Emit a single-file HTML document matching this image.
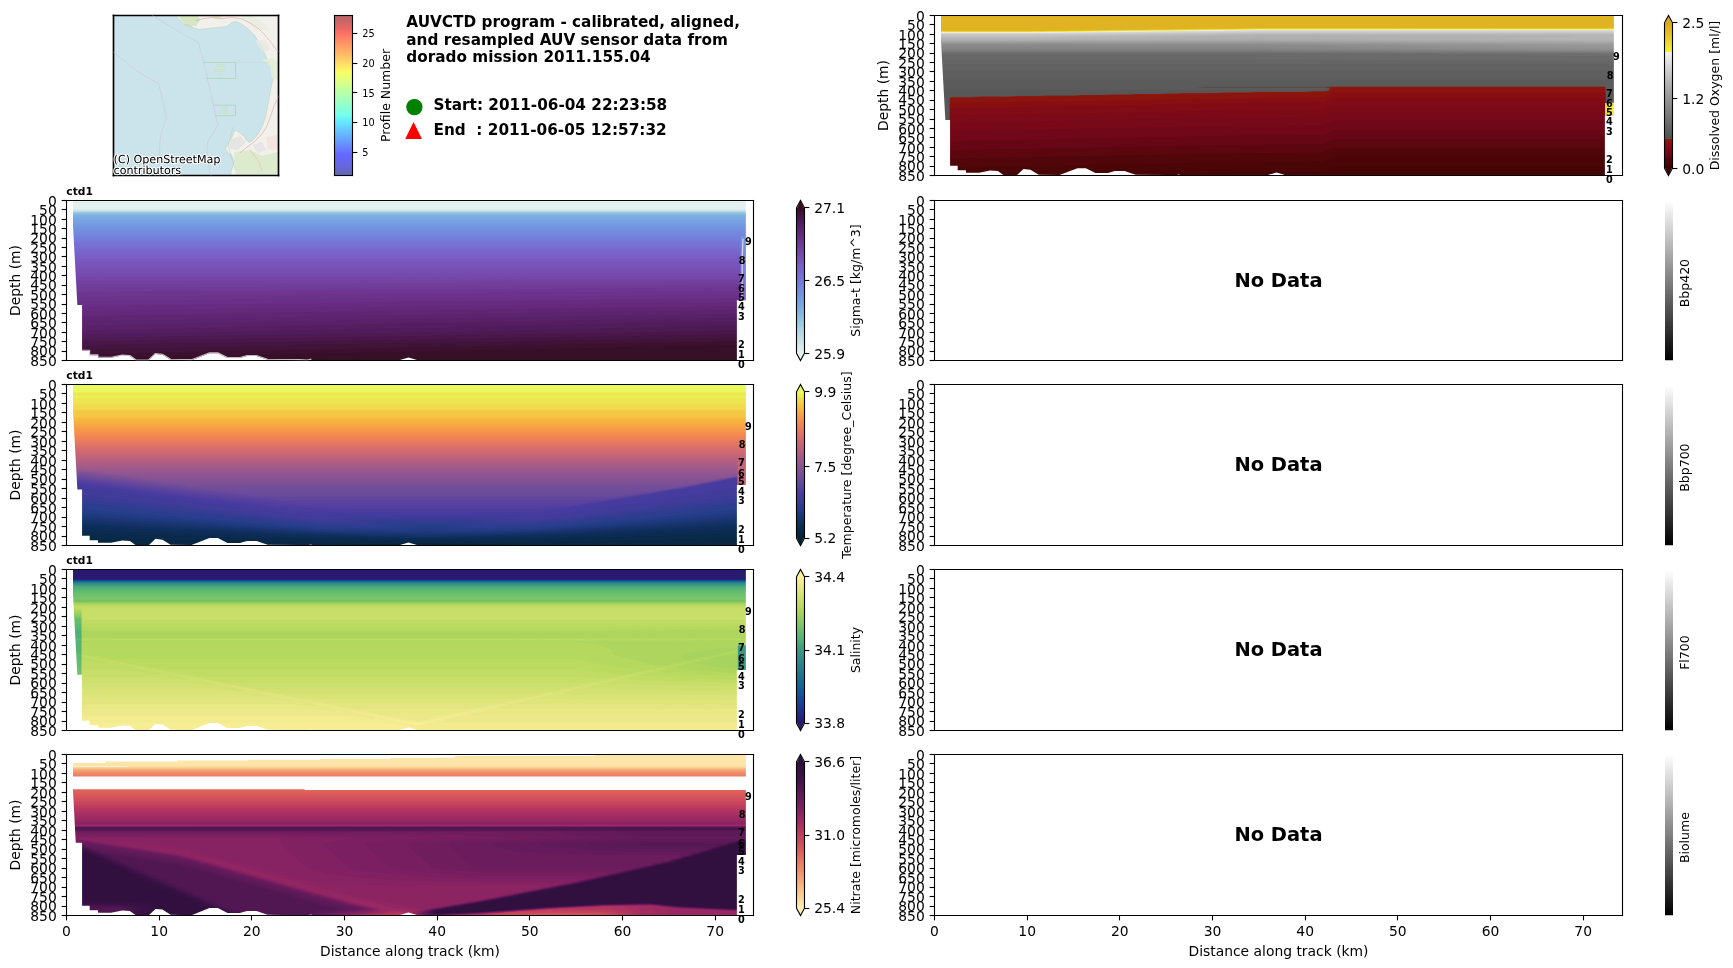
<!DOCTYPE html>
<html><head><meta charset="utf-8"><style>html,body{margin:0;padding:0;background:#fff;overflow:hidden}svg{display:block;will-change:transform}text{white-space:pre}</style></head><body>
<svg width="1733" height="968" viewBox="0 0 1247.76 696.96" version="1.1">
<defs><linearGradient id="lg_dense" x1="0" y1="1" x2="0" y2="0"><stop offset="0.0000" stop-color="#e6f1f1"/><stop offset="0.0208" stop-color="#dfeeee"/><stop offset="0.0417" stop-color="#d8eaec"/><stop offset="0.0625" stop-color="#d0e6e9"/><stop offset="0.0833" stop-color="#c9e3e6"/><stop offset="0.1042" stop-color="#c2e0e4"/><stop offset="0.1250" stop-color="#b9dbe4"/><stop offset="0.1458" stop-color="#b1d7e4"/><stop offset="0.1667" stop-color="#aad2e3"/><stop offset="0.1875" stop-color="#a1cde3"/><stop offset="0.2083" stop-color="#9ac9e3"/><stop offset="0.2292" stop-color="#93c4e3"/><stop offset="0.2500" stop-color="#8cbde2"/><stop offset="0.2708" stop-color="#86b8e2"/><stop offset="0.2917" stop-color="#80b3e2"/><stop offset="0.3125" stop-color="#7bace2"/><stop offset="0.3333" stop-color="#79a7e1"/><stop offset="0.3542" stop-color="#77a2e1"/><stop offset="0.3750" stop-color="#749be0"/><stop offset="0.3958" stop-color="#7196e0"/><stop offset="0.4167" stop-color="#7291df"/><stop offset="0.4375" stop-color="#738add"/><stop offset="0.4583" stop-color="#7385dc"/><stop offset="0.4792" stop-color="#747fdb"/><stop offset="0.5000" stop-color="#7578d9"/><stop offset="0.5208" stop-color="#7673d5"/><stop offset="0.5417" stop-color="#776ed1"/><stop offset="0.5625" stop-color="#7868cd"/><stop offset="0.5833" stop-color="#7962c9"/><stop offset="0.6042" stop-color="#7a5dc5"/><stop offset="0.6250" stop-color="#7957bd"/><stop offset="0.6458" stop-color="#7852b7"/><stop offset="0.6667" stop-color="#774db1"/><stop offset="0.6875" stop-color="#7547a9"/><stop offset="0.7083" stop-color="#7443a3"/><stop offset="0.7292" stop-color="#713e9c"/><stop offset="0.7500" stop-color="#6f3894"/><stop offset="0.7708" stop-color="#6c348d"/><stop offset="0.7917" stop-color="#6a2f87"/><stop offset="0.8125" stop-color="#652a7e"/><stop offset="0.8333" stop-color="#612776"/><stop offset="0.8542" stop-color="#5c246e"/><stop offset="0.8750" stop-color="#572065"/><stop offset="0.8958" stop-color="#521c5d"/><stop offset="0.9167" stop-color="#4d1a52"/><stop offset="0.9375" stop-color="#461645"/><stop offset="0.9583" stop-color="#41133a"/><stop offset="0.9792" stop-color="#3b112f"/><stop offset="1.0000" stop-color="#360e24"/></linearGradient><linearGradient id="lg_thermal" x1="0" y1="1" x2="0" y2="0"><stop offset="0.0000" stop-color="#042333"/><stop offset="0.0208" stop-color="#06253b"/><stop offset="0.0417" stop-color="#082843"/><stop offset="0.0625" stop-color="#0a2b4d"/><stop offset="0.0833" stop-color="#0c2d55"/><stop offset="0.1042" stop-color="#0e2f5d"/><stop offset="0.1250" stop-color="#143368"/><stop offset="0.1458" stop-color="#183671"/><stop offset="0.1667" stop-color="#1d397a"/><stop offset="0.1875" stop-color="#223c85"/><stop offset="0.2083" stop-color="#283e8c"/><stop offset="0.2292" stop-color="#2f3d90"/><stop offset="0.2500" stop-color="#383c95"/><stop offset="0.2708" stop-color="#3f3c9a"/><stop offset="0.2917" stop-color="#463b9e"/><stop offset="0.3125" stop-color="#4f3d9f"/><stop offset="0.3333" stop-color="#55409e"/><stop offset="0.3542" stop-color="#5b439d"/><stop offset="0.3750" stop-color="#63479c"/><stop offset="0.3958" stop-color="#6a4a9b"/><stop offset="0.4167" stop-color="#704d9a"/><stop offset="0.4375" stop-color="#794f97"/><stop offset="0.4583" stop-color="#805196"/><stop offset="0.4792" stop-color="#865394"/><stop offset="0.5000" stop-color="#8f5592"/><stop offset="0.5208" stop-color="#97578e"/><stop offset="0.5417" stop-color="#9e598b"/><stop offset="0.5625" stop-color="#a85b86"/><stop offset="0.5833" stop-color="#b05d83"/><stop offset="0.6042" stop-color="#b7607f"/><stop offset="0.6250" stop-color="#c0637a"/><stop offset="0.6458" stop-color="#c86676"/><stop offset="0.6667" stop-color="#cf6971"/><stop offset="0.6875" stop-color="#d86d6c"/><stop offset="0.7083" stop-color="#df7167"/><stop offset="0.7292" stop-color="#e47761"/><stop offset="0.7500" stop-color="#ea7e5a"/><stop offset="0.7708" stop-color="#ef8454"/><stop offset="0.7917" stop-color="#f48a4e"/><stop offset="0.8125" stop-color="#f6944a"/><stop offset="0.8333" stop-color="#f79d47"/><stop offset="0.8542" stop-color="#f7a744"/><stop offset="0.8750" stop-color="#f8b241"/><stop offset="0.8958" stop-color="#f8bc3e"/><stop offset="0.9167" stop-color="#f5c843"/><stop offset="0.9375" stop-color="#f1d64a"/><stop offset="0.9583" stop-color="#eee250"/><stop offset="0.9792" stop-color="#ebee55"/><stop offset="1.0000" stop-color="#e8fa5b"/></linearGradient><linearGradient id="lg_haline" x1="0" y1="1" x2="0" y2="0"><stop offset="0.0000" stop-color="#2a186c"/><stop offset="0.0208" stop-color="#281d73"/><stop offset="0.0417" stop-color="#25237a"/><stop offset="0.0625" stop-color="#222a83"/><stop offset="0.0833" stop-color="#202f8a"/><stop offset="0.1042" stop-color="#1e3590"/><stop offset="0.1250" stop-color="#1b3c93"/><stop offset="0.1458" stop-color="#194295"/><stop offset="0.1667" stop-color="#164996"/><stop offset="0.1875" stop-color="#135099"/><stop offset="0.2083" stop-color="#135699"/><stop offset="0.2292" stop-color="#145b97"/><stop offset="0.2500" stop-color="#166194"/><stop offset="0.2708" stop-color="#176692"/><stop offset="0.2917" stop-color="#186b90"/><stop offset="0.3125" stop-color="#1b708e"/><stop offset="0.3333" stop-color="#1f748e"/><stop offset="0.3542" stop-color="#22798d"/><stop offset="0.3750" stop-color="#267e8c"/><stop offset="0.3958" stop-color="#29828b"/><stop offset="0.4167" stop-color="#2d878a"/><stop offset="0.4375" stop-color="#308c87"/><stop offset="0.4583" stop-color="#339186"/><stop offset="0.4792" stop-color="#379584"/><stop offset="0.5000" stop-color="#3b9b82"/><stop offset="0.5208" stop-color="#41a07f"/><stop offset="0.5417" stop-color="#47a67c"/><stop offset="0.5625" stop-color="#4fad79"/><stop offset="0.5833" stop-color="#55b376"/><stop offset="0.6042" stop-color="#5cb973"/><stop offset="0.6250" stop-color="#68bd6e"/><stop offset="0.6458" stop-color="#72c16a"/><stop offset="0.6667" stop-color="#7bc566"/><stop offset="0.6875" stop-color="#87c961"/><stop offset="0.7083" stop-color="#90cc5f"/><stop offset="0.7292" stop-color="#99cf5f"/><stop offset="0.7500" stop-color="#a3d35e"/><stop offset="0.7708" stop-color="#acd65e"/><stop offset="0.7917" stop-color="#b5d95e"/><stop offset="0.8125" stop-color="#bedc62"/><stop offset="0.8333" stop-color="#c5de68"/><stop offset="0.8542" stop-color="#cddf6d"/><stop offset="0.8750" stop-color="#d6e274"/><stop offset="0.8958" stop-color="#dde479"/><stop offset="0.9167" stop-color="#e3e680"/><stop offset="0.9375" stop-color="#ebe987"/><stop offset="0.9583" stop-color="#f1eb8d"/><stop offset="0.9792" stop-color="#f7ed94"/><stop offset="1.0000" stop-color="#fdef9a"/></linearGradient><linearGradient id="lg_matter" x1="0" y1="1" x2="0" y2="0"><stop offset="0.0000" stop-color="#feedb0"/><stop offset="0.0208" stop-color="#fde6a9"/><stop offset="0.0417" stop-color="#fcdfa3"/><stop offset="0.0625" stop-color="#fbd69b"/><stop offset="0.0833" stop-color="#facf94"/><stop offset="0.1042" stop-color="#f9c88d"/><stop offset="0.1250" stop-color="#f7c087"/><stop offset="0.1458" stop-color="#f6b882"/><stop offset="0.1667" stop-color="#f5b17d"/><stop offset="0.1875" stop-color="#f4a877"/><stop offset="0.2083" stop-color="#f2a173"/><stop offset="0.2292" stop-color="#f19a6f"/><stop offset="0.2500" stop-color="#ee916b"/><stop offset="0.2708" stop-color="#ed8968"/><stop offset="0.2917" stop-color="#eb8265"/><stop offset="0.3125" stop-color="#e87962"/><stop offset="0.3333" stop-color="#e57260"/><stop offset="0.3542" stop-color="#e26b5e"/><stop offset="0.3750" stop-color="#de625c"/><stop offset="0.3958" stop-color="#db5b5a"/><stop offset="0.4167" stop-color="#d6565b"/><stop offset="0.4375" stop-color="#d04f5c"/><stop offset="0.4583" stop-color="#cb4a5c"/><stop offset="0.4792" stop-color="#c6445d"/><stop offset="0.5000" stop-color="#bf3e5e"/><stop offset="0.5208" stop-color="#b93a5f"/><stop offset="0.5417" stop-color="#b23660"/><stop offset="0.5625" stop-color="#aa3161"/><stop offset="0.5833" stop-color="#a32d62"/><stop offset="0.6042" stop-color="#9d2a63"/><stop offset="0.6250" stop-color="#942763"/><stop offset="0.6458" stop-color="#8e2563"/><stop offset="0.6667" stop-color="#872362"/><stop offset="0.6875" stop-color="#7e2062"/><stop offset="0.7083" stop-color="#771e61"/><stop offset="0.7292" stop-color="#701d5e"/><stop offset="0.7500" stop-color="#681b5c"/><stop offset="0.7708" stop-color="#611a59"/><stop offset="0.7917" stop-color="#5a1957"/><stop offset="0.8125" stop-color="#531753"/><stop offset="0.8333" stop-color="#4d1650"/><stop offset="0.8542" stop-color="#48154d"/><stop offset="0.8750" stop-color="#411349"/><stop offset="0.8958" stop-color="#3c1246"/><stop offset="0.9167" stop-color="#391144"/><stop offset="0.9375" stop-color="#361142"/><stop offset="0.9583" stop-color="#341041"/><stop offset="0.9792" stop-color="#31103f"/><stop offset="1.0000" stop-color="#2f0f3d"/></linearGradient><linearGradient id="lg_oxy" x1="0" y1="1" x2="0" y2="0"><stop offset="0.0000" stop-color="#3c0404"/><stop offset="0.0181" stop-color="#400505"/><stop offset="0.0363" stop-color="#480507"/><stop offset="0.0544" stop-color="#4f0608"/><stop offset="0.0725" stop-color="#5c070f"/><stop offset="0.0907" stop-color="#690816"/><stop offset="0.1088" stop-color="#72081a"/><stop offset="0.1270" stop-color="#7a0919"/><stop offset="0.1451" stop-color="#810b17"/><stop offset="0.1632" stop-color="#860e12"/><stop offset="0.1814" stop-color="#8c140e"/><stop offset="0.1995" stop-color="#90190b"/><stop offset="0.2005" stop-color="#515151"/><stop offset="0.2550" stop-color="#5e5e5e"/><stop offset="0.3094" stop-color="#6b6b6b"/><stop offset="0.3639" stop-color="#797979"/><stop offset="0.4183" stop-color="#868686"/><stop offset="0.4728" stop-color="#949494"/><stop offset="0.5272" stop-color="#a2a2a2"/><stop offset="0.5817" stop-color="#b2b2b2"/><stop offset="0.6361" stop-color="#c3c3c3"/><stop offset="0.6906" stop-color="#d3d3d3"/><stop offset="0.7450" stop-color="#e4e4e4"/><stop offset="0.7995" stop-color="#f3f3f3"/><stop offset="0.8005" stop-color="#f3f139"/><stop offset="0.8186" stop-color="#f2eb37"/><stop offset="0.8368" stop-color="#efe334"/><stop offset="0.8549" stop-color="#eddc31"/><stop offset="0.8730" stop-color="#ebd32e"/><stop offset="0.8912" stop-color="#e9cb2b"/><stop offset="0.9093" stop-color="#e7c529"/><stop offset="0.9275" stop-color="#e4bf26"/><stop offset="0.9456" stop-color="#e2b824"/><stop offset="0.9637" stop-color="#e0b322"/><stop offset="0.9819" stop-color="#dead20"/><stop offset="1.0000" stop-color="#dca91e"/></linearGradient><linearGradient id="lg_gray1" x1="0" y1="1" x2="0" y2="0"><stop offset="0.0000" stop-color="#000000"/><stop offset="0.0208" stop-color="#050505"/><stop offset="0.0417" stop-color="#0a0a0a"/><stop offset="0.0625" stop-color="#101010"/><stop offset="0.0833" stop-color="#151515"/><stop offset="0.1042" stop-color="#1a1a1a"/><stop offset="0.1250" stop-color="#202020"/><stop offset="0.1458" stop-color="#252525"/><stop offset="0.1667" stop-color="#2a2a2a"/><stop offset="0.1875" stop-color="#303030"/><stop offset="0.2083" stop-color="#353535"/><stop offset="0.2292" stop-color="#3a3a3a"/><stop offset="0.2500" stop-color="#404040"/><stop offset="0.2708" stop-color="#454545"/><stop offset="0.2917" stop-color="#4a4a4a"/><stop offset="0.3125" stop-color="#505050"/><stop offset="0.3333" stop-color="#555555"/><stop offset="0.3542" stop-color="#5a5a5a"/><stop offset="0.3750" stop-color="#606060"/><stop offset="0.3958" stop-color="#656565"/><stop offset="0.4167" stop-color="#6a6a6a"/><stop offset="0.4375" stop-color="#707070"/><stop offset="0.4583" stop-color="#757575"/><stop offset="0.4792" stop-color="#7a7a7a"/><stop offset="0.5000" stop-color="#808080"/><stop offset="0.5208" stop-color="#858585"/><stop offset="0.5417" stop-color="#8a8a8a"/><stop offset="0.5625" stop-color="#909090"/><stop offset="0.5833" stop-color="#959595"/><stop offset="0.6042" stop-color="#9a9a9a"/><stop offset="0.6250" stop-color="#a0a0a0"/><stop offset="0.6458" stop-color="#a5a5a5"/><stop offset="0.6667" stop-color="#aaaaaa"/><stop offset="0.6875" stop-color="#b0b0b0"/><stop offset="0.7083" stop-color="#b5b5b5"/><stop offset="0.7292" stop-color="#bababa"/><stop offset="0.7500" stop-color="#c0c0c0"/><stop offset="0.7708" stop-color="#c5c5c5"/><stop offset="0.7917" stop-color="#cacaca"/><stop offset="0.8125" stop-color="#d0d0d0"/><stop offset="0.8333" stop-color="#d5d5d5"/><stop offset="0.8542" stop-color="#dadada"/><stop offset="0.8750" stop-color="#e0e0e0"/><stop offset="0.8958" stop-color="#e5e5e5"/><stop offset="0.9167" stop-color="#eaeaea"/><stop offset="0.9375" stop-color="#f0f0f0"/><stop offset="0.9583" stop-color="#f5f5f5"/><stop offset="0.9792" stop-color="#fafafa"/><stop offset="1.0000" stop-color="#ffffff"/></linearGradient><linearGradient id="lg_gray2" x1="0" y1="1" x2="0" y2="0"><stop offset="0.0000" stop-color="#000000"/><stop offset="0.0208" stop-color="#050505"/><stop offset="0.0417" stop-color="#0a0a0a"/><stop offset="0.0625" stop-color="#101010"/><stop offset="0.0833" stop-color="#151515"/><stop offset="0.1042" stop-color="#1a1a1a"/><stop offset="0.1250" stop-color="#202020"/><stop offset="0.1458" stop-color="#252525"/><stop offset="0.1667" stop-color="#2a2a2a"/><stop offset="0.1875" stop-color="#303030"/><stop offset="0.2083" stop-color="#353535"/><stop offset="0.2292" stop-color="#3a3a3a"/><stop offset="0.2500" stop-color="#404040"/><stop offset="0.2708" stop-color="#454545"/><stop offset="0.2917" stop-color="#4a4a4a"/><stop offset="0.3125" stop-color="#505050"/><stop offset="0.3333" stop-color="#555555"/><stop offset="0.3542" stop-color="#5a5a5a"/><stop offset="0.3750" stop-color="#606060"/><stop offset="0.3958" stop-color="#656565"/><stop offset="0.4167" stop-color="#6a6a6a"/><stop offset="0.4375" stop-color="#707070"/><stop offset="0.4583" stop-color="#757575"/><stop offset="0.4792" stop-color="#7a7a7a"/><stop offset="0.5000" stop-color="#808080"/><stop offset="0.5208" stop-color="#858585"/><stop offset="0.5417" stop-color="#8a8a8a"/><stop offset="0.5625" stop-color="#909090"/><stop offset="0.5833" stop-color="#959595"/><stop offset="0.6042" stop-color="#9a9a9a"/><stop offset="0.6250" stop-color="#a0a0a0"/><stop offset="0.6458" stop-color="#a5a5a5"/><stop offset="0.6667" stop-color="#aaaaaa"/><stop offset="0.6875" stop-color="#b0b0b0"/><stop offset="0.7083" stop-color="#b5b5b5"/><stop offset="0.7292" stop-color="#bababa"/><stop offset="0.7500" stop-color="#c0c0c0"/><stop offset="0.7708" stop-color="#c5c5c5"/><stop offset="0.7917" stop-color="#cacaca"/><stop offset="0.8125" stop-color="#d0d0d0"/><stop offset="0.8333" stop-color="#d5d5d5"/><stop offset="0.8542" stop-color="#dadada"/><stop offset="0.8750" stop-color="#e0e0e0"/><stop offset="0.8958" stop-color="#e5e5e5"/><stop offset="0.9167" stop-color="#eaeaea"/><stop offset="0.9375" stop-color="#f0f0f0"/><stop offset="0.9583" stop-color="#f5f5f5"/><stop offset="0.9792" stop-color="#fafafa"/><stop offset="1.0000" stop-color="#ffffff"/></linearGradient><linearGradient id="lg_gray3" x1="0" y1="1" x2="0" y2="0"><stop offset="0.0000" stop-color="#000000"/><stop offset="0.0208" stop-color="#050505"/><stop offset="0.0417" stop-color="#0a0a0a"/><stop offset="0.0625" stop-color="#101010"/><stop offset="0.0833" stop-color="#151515"/><stop offset="0.1042" stop-color="#1a1a1a"/><stop offset="0.1250" stop-color="#202020"/><stop offset="0.1458" stop-color="#252525"/><stop offset="0.1667" stop-color="#2a2a2a"/><stop offset="0.1875" stop-color="#303030"/><stop offset="0.2083" stop-color="#353535"/><stop offset="0.2292" stop-color="#3a3a3a"/><stop offset="0.2500" stop-color="#404040"/><stop offset="0.2708" stop-color="#454545"/><stop offset="0.2917" stop-color="#4a4a4a"/><stop offset="0.3125" stop-color="#505050"/><stop offset="0.3333" stop-color="#555555"/><stop offset="0.3542" stop-color="#5a5a5a"/><stop offset="0.3750" stop-color="#606060"/><stop offset="0.3958" stop-color="#656565"/><stop offset="0.4167" stop-color="#6a6a6a"/><stop offset="0.4375" stop-color="#707070"/><stop offset="0.4583" stop-color="#757575"/><stop offset="0.4792" stop-color="#7a7a7a"/><stop offset="0.5000" stop-color="#808080"/><stop offset="0.5208" stop-color="#858585"/><stop offset="0.5417" stop-color="#8a8a8a"/><stop offset="0.5625" stop-color="#909090"/><stop offset="0.5833" stop-color="#959595"/><stop offset="0.6042" stop-color="#9a9a9a"/><stop offset="0.6250" stop-color="#a0a0a0"/><stop offset="0.6458" stop-color="#a5a5a5"/><stop offset="0.6667" stop-color="#aaaaaa"/><stop offset="0.6875" stop-color="#b0b0b0"/><stop offset="0.7083" stop-color="#b5b5b5"/><stop offset="0.7292" stop-color="#bababa"/><stop offset="0.7500" stop-color="#c0c0c0"/><stop offset="0.7708" stop-color="#c5c5c5"/><stop offset="0.7917" stop-color="#cacaca"/><stop offset="0.8125" stop-color="#d0d0d0"/><stop offset="0.8333" stop-color="#d5d5d5"/><stop offset="0.8542" stop-color="#dadada"/><stop offset="0.8750" stop-color="#e0e0e0"/><stop offset="0.8958" stop-color="#e5e5e5"/><stop offset="0.9167" stop-color="#eaeaea"/><stop offset="0.9375" stop-color="#f0f0f0"/><stop offset="0.9583" stop-color="#f5f5f5"/><stop offset="0.9792" stop-color="#fafafa"/><stop offset="1.0000" stop-color="#ffffff"/></linearGradient><linearGradient id="lg_gray4" x1="0" y1="1" x2="0" y2="0"><stop offset="0.0000" stop-color="#000000"/><stop offset="0.0208" stop-color="#050505"/><stop offset="0.0417" stop-color="#0a0a0a"/><stop offset="0.0625" stop-color="#101010"/><stop offset="0.0833" stop-color="#151515"/><stop offset="0.1042" stop-color="#1a1a1a"/><stop offset="0.1250" stop-color="#202020"/><stop offset="0.1458" stop-color="#252525"/><stop offset="0.1667" stop-color="#2a2a2a"/><stop offset="0.1875" stop-color="#303030"/><stop offset="0.2083" stop-color="#353535"/><stop offset="0.2292" stop-color="#3a3a3a"/><stop offset="0.2500" stop-color="#404040"/><stop offset="0.2708" stop-color="#454545"/><stop offset="0.2917" stop-color="#4a4a4a"/><stop offset="0.3125" stop-color="#505050"/><stop offset="0.3333" stop-color="#555555"/><stop offset="0.3542" stop-color="#5a5a5a"/><stop offset="0.3750" stop-color="#606060"/><stop offset="0.3958" stop-color="#656565"/><stop offset="0.4167" stop-color="#6a6a6a"/><stop offset="0.4375" stop-color="#707070"/><stop offset="0.4583" stop-color="#757575"/><stop offset="0.4792" stop-color="#7a7a7a"/><stop offset="0.5000" stop-color="#808080"/><stop offset="0.5208" stop-color="#858585"/><stop offset="0.5417" stop-color="#8a8a8a"/><stop offset="0.5625" stop-color="#909090"/><stop offset="0.5833" stop-color="#959595"/><stop offset="0.6042" stop-color="#9a9a9a"/><stop offset="0.6250" stop-color="#a0a0a0"/><stop offset="0.6458" stop-color="#a5a5a5"/><stop offset="0.6667" stop-color="#aaaaaa"/><stop offset="0.6875" stop-color="#b0b0b0"/><stop offset="0.7083" stop-color="#b5b5b5"/><stop offset="0.7292" stop-color="#bababa"/><stop offset="0.7500" stop-color="#c0c0c0"/><stop offset="0.7708" stop-color="#c5c5c5"/><stop offset="0.7917" stop-color="#cacaca"/><stop offset="0.8125" stop-color="#d0d0d0"/><stop offset="0.8333" stop-color="#d5d5d5"/><stop offset="0.8542" stop-color="#dadada"/><stop offset="0.8750" stop-color="#e0e0e0"/><stop offset="0.8958" stop-color="#e5e5e5"/><stop offset="0.9167" stop-color="#eaeaea"/><stop offset="0.9375" stop-color="#f0f0f0"/><stop offset="0.9583" stop-color="#f5f5f5"/><stop offset="0.9792" stop-color="#fafafa"/><stop offset="1.0000" stop-color="#ffffff"/></linearGradient><linearGradient id="lg_jet" x1="0" y1="1" x2="0" y2="0"><stop offset="0.0000" stop-color="#6666b2"/><stop offset="0.0208" stop-color="#6666c0"/><stop offset="0.0417" stop-color="#6666ce"/><stop offset="0.0625" stop-color="#6666de"/><stop offset="0.0833" stop-color="#6666ec"/><stop offset="0.1042" stop-color="#6666f9"/><stop offset="0.1250" stop-color="#6666ff"/><stop offset="0.1458" stop-color="#6672ff"/><stop offset="0.1667" stop-color="#667eff"/><stop offset="0.1875" stop-color="#668dff"/><stop offset="0.2083" stop-color="#6699ff"/><stop offset="0.2292" stop-color="#66a5ff"/><stop offset="0.2500" stop-color="#66b3ff"/><stop offset="0.2708" stop-color="#66bfff"/><stop offset="0.2917" stop-color="#66cbff"/><stop offset="0.3125" stop-color="#66daff"/><stop offset="0.3333" stop-color="#66e6ff"/><stop offset="0.3542" stop-color="#67f1f9"/><stop offset="0.3750" stop-color="#73ffed"/><stop offset="0.3958" stop-color="#7dffe3"/><stop offset="0.4167" stop-color="#86ffda"/><stop offset="0.4375" stop-color="#92ffce"/><stop offset="0.4583" stop-color="#9cffc4"/><stop offset="0.4792" stop-color="#a5ffbb"/><stop offset="0.5000" stop-color="#b1ffaf"/><stop offset="0.5208" stop-color="#bbffa5"/><stop offset="0.5417" stop-color="#c4ff9c"/><stop offset="0.5625" stop-color="#d0ff90"/><stop offset="0.5833" stop-color="#daff86"/><stop offset="0.6042" stop-color="#e3ff7d"/><stop offset="0.6250" stop-color="#efff71"/><stop offset="0.6458" stop-color="#f9fb67"/><stop offset="0.6667" stop-color="#fff066"/><stop offset="0.6875" stop-color="#ffe366"/><stop offset="0.7083" stop-color="#ffd766"/><stop offset="0.7292" stop-color="#ffcc66"/><stop offset="0.7500" stop-color="#ffbf66"/><stop offset="0.7708" stop-color="#ffb466"/><stop offset="0.7917" stop-color="#ffa966"/><stop offset="0.8125" stop-color="#ff9b66"/><stop offset="0.8333" stop-color="#ff9066"/><stop offset="0.8542" stop-color="#ff8566"/><stop offset="0.8750" stop-color="#ff7866"/><stop offset="0.8958" stop-color="#f96d66"/><stop offset="0.9167" stop-color="#ec6666"/><stop offset="0.9375" stop-color="#db6666"/><stop offset="0.9583" stop-color="#ce6666"/><stop offset="0.9792" stop-color="#c06666"/><stop offset="1.0000" stop-color="#b26666"/></linearGradient><mask id="mk0" maskUnits="userSpaceOnUse" x="0" y="0" width="1247.76" height="696.96"><path d="M52.55 144.36L52.55 162.39 55.69 219.58 59.09 219.58 59.09 252.51 64.56 252.51 64.56 255.77 70.57 255.77 70.57 257.53 79.97 257.53 87.98 256.04 93.52 256.31 97.99 259.56 106.93 259.56 111.93 254.82 116.94 255.36 122.88 259.02 137.89 259.29 150.83 254.27 156.84 254.27 163.78 257.8 172.72 257.8 177.79 256.31 184.73 256.31 192.67 259.02 215.95 259.29 221.36 259.56 223.69 258.88 226.03 259.56 286.75 259.56 294.09 257.39 301.43 259.56 530.55 259.56 530.55 216.19 537.02 216.19 537.02 144.36z" fill="#fff"/></mask><mask id="mk1" maskUnits="userSpaceOnUse" x="0" y="0" width="1247.76" height="696.96"><path d="M52.55 276.84L52.55 294.98 55.69 352.53 59.09 352.53 59.09 385.67 64.56 385.67 64.56 388.94 70.57 388.94 70.57 390.71 79.97 390.71 87.98 389.21 93.52 389.49 97.99 392.76 106.93 392.76 111.93 387.99 116.94 388.53 122.88 392.21 137.89 392.49 150.83 387.44 156.84 387.44 163.78 390.99 172.72 390.99 177.79 389.49 184.73 389.49 192.67 392.21 215.95 392.49 221.36 392.76 223.69 392.08 226.03 392.76 286.75 392.76 294.09 390.58 301.43 392.76 530.55 392.76 530.55 349.12 537.02 349.12 537.02 276.84z" fill="#fff"/></mask><mask id="mk2" maskUnits="userSpaceOnUse" x="0" y="0" width="1247.76" height="696.96"><path d="M52.55 410.04L52.55 428.18 55.69 485.73 59.09 485.73 59.09 518.87 64.56 518.87 64.56 522.14 70.57 522.14 70.57 523.91 79.97 523.91 87.98 522.41 93.52 522.69 97.99 525.96 106.93 525.96 111.93 521.19 116.94 521.73 122.88 525.41 137.89 525.69 150.83 520.64 156.84 520.64 163.78 524.19 172.72 524.19 177.79 522.69 184.73 522.69 192.67 525.41 215.95 525.69 221.36 525.96 223.69 525.28 226.03 525.96 286.75 525.96 294.09 523.78 301.43 525.96 530.55 525.96 530.55 482.32 537.02 482.32 537.02 410.04z" fill="#fff"/></mask><mask id="mk3" maskUnits="userSpaceOnUse" x="0" y="0" width="1247.76" height="696.96"><path d="M52.55 543.24L52.55 569.15 54.55 606.79 59.09 606.79 59.09 652.07 64.56 652.07 64.56 655.34 70.57 655.34 70.57 657.11 79.97 657.11 87.98 655.61 93.52 655.89 97.99 659.16 106.93 659.16 111.93 654.39 116.94 654.93 122.88 658.61 137.89 658.89 150.83 653.84 156.84 653.84 163.78 657.39 172.72 657.39 177.79 655.89 184.73 655.89 192.67 658.61 215.95 658.89 221.36 659.16 223.69 658.48 226.03 659.16 286.75 659.16 294.09 656.98 301.43 659.16 530.55 659.16 530.55 615.52 537.02 615.52 537.02 543.24z" fill="#fff"/></mask><mask id="mk4" maskUnits="userSpaceOnUse" x="0" y="0" width="1247.76" height="696.96"><path d="M677.51 11.16L677.51 29.19 680.65 86.38 684.05 86.38 684.05 119.31 689.52 119.31 689.52 122.57 695.53 122.57 695.53 124.33 704.93 124.33 712.94 122.84 718.48 123.11 722.95 126.36 731.89 126.36 736.89 121.62 741.9 122.16 747.84 125.82 762.85 126.09 775.79 121.07 781.8 121.07 788.74 124.6 797.68 124.6 802.75 123.11 809.69 123.11 817.63 125.82 840.91 126.09 846.32 126.36 848.65 125.68 850.99 126.36 911.71 126.36 919.05 124.19 926.39 126.36 1155.51 126.36 1155.51 82.99 1161.98 82.99 1161.98 11.16z" fill="#fff"/></mask>
<style type="text/css">*{stroke-linejoin: round; stroke-linecap: butt}</style>
</defs>
<g id="figure_1">
<g id="patch_1">
<path d="M0 696.96L1247.76 696.96 1247.76 0 0 0z" style="fill: #ffffff"/>
</g>
<g id="axes_1">
<g id="patch_2">
<path d="M47.88 259.56L542.52 259.56 542.52 144.36 47.88 144.36z" style="fill: #ffffff"/>
</g>
<g id="patch_3">
<path d="M52.55 144.36L52.55 162.39 55.69 219.58 59.09 219.58 59.09 252.51 64.56 252.51 64.56 255.77 70.57 255.77 70.57 257.53 79.97 257.53 87.98 256.04 93.52 256.31 97.99 259.56 106.93 259.56 111.93 254.82 116.94 255.36 122.88 259.02 137.89 259.29 150.83 254.27 156.84 254.27 163.78 257.8 172.72 257.8 177.79 256.31 184.73 256.31 192.67 259.02 215.95 259.29 221.36 259.56 223.69 258.88 226.03 259.56 286.75 259.56 294.09 257.39 301.43 259.56 530.55 259.56 530.55 216.19 537.02 216.19 537.02 144.36 52.55 144.36z" clip-path="url(#p58b5c2b67b)" style="fill: none"/>
</g>
<g mask="url(#mk0)">
<path d="M48.55 144.36L542.52 144.36 542.52 259.56 47.88 259.56 47.88 144.36z" style="fill: #e3f0f0"/>

<path d="M48.55 150.57L542.52 150.57 542.52 259.56 47.88 259.56 47.88 150.57z" style="fill: #deedee"/>

<path d="M48.55 150.87L542.52 150.87 542.52 259.56 47.88 259.56 47.88 150.87z" style="fill: #d8eaec"/>

<path d="M48.55 151.17L542.52 151.17 542.52 259.56 47.88 259.56 47.88 151.17z" style="fill: #d3e8ea"/>

<path d="M48.55 151.48L542.52 151.48 542.52 259.56 47.88 259.56 47.88 151.48z" style="fill: #cde5e8"/>

<path d="M48.55 151.74L542.52 151.74 542.52 259.56 47.88 259.56 47.88 151.74z" style="fill: #c8e2e6"/>

<path d="M48.55 151.92L542.52 151.92 542.52 259.56 47.88 259.56 47.88 151.92z" style="fill: #c2e0e4"/>

<path d="M48.55 152.1L542.52 152.1 542.52 259.56 47.88 259.56 47.88 152.1z" style="fill: #bcdce4"/>

<path d="M48.55 152.25L542.52 152.25 542.52 259.56 47.88 259.56 47.88 152.25z" style="fill: #b6d9e4"/>

<path d="M48.55 152.4L542.52 152.4 542.52 259.56 47.88 259.56 47.88 152.4z" style="fill: #b0d6e4"/>

<path d="M48.55 152.55L542.52 152.55 542.52 259.56 47.88 259.56 47.88 152.55z" style="fill: #aad2e3"/>

<path d="M48.55 152.7L542.52 152.7 542.52 259.56 47.88 259.56 47.88 152.7z" style="fill: #a4cfe3"/>

<path d="M48.55 152.86L542.52 152.86 542.52 259.56 47.88 259.56 47.88 152.86z" style="fill: #9ecce3"/>

<path d="M48.55 153.02L542.52 153.02 542.52 259.56 47.88 259.56 47.88 153.02z" style="fill: #98c8e3"/>

<path d="M48.55 153.19L542.52 153.19 542.52 259.56 47.88 259.56 47.88 153.19z" style="fill: #93c4e3"/>

<path d="M48.55 153.53L542.52 153.53 542.52 259.56 47.88 259.56 47.88 153.53z" style="fill: #8fbfe3"/>

<path d="M48.55 153.93L542.52 153.93 542.52 259.56 47.88 259.56 47.88 153.93z" style="fill: #8abbe2"/>

<path d="M48.55 154.33L542.52 154.33 542.52 259.56 47.88 259.56 47.88 154.33z" style="fill: #85b7e2"/>

<path d="M48.55 154.73L542.52 154.73 542.52 259.56 47.88 259.56 47.88 154.73z" style="fill: #80b3e2"/>

<path d="M48.55 155.12L542.52 155.12 542.52 259.56 47.88 259.56 47.88 155.12z" style="fill: #7caee2"/>

<path d="M48.55 156.22L542.52 156.22 542.52 259.56 47.88 259.56 47.88 156.22z" style="fill: #7aaae2"/>

<path d="M48.55 157.49L542.52 157.49 542.52 259.56 47.88 259.56 47.88 157.49z" style="fill: #79a6e1"/>

<path d="M48.55 158.76L542.52 158.76 542.52 259.56 47.88 259.56 47.88 158.76z" style="fill: #77a2e1"/>

<path d="M48.55 160.18L542.52 160.18 542.52 259.56 47.88 259.56 47.88 160.18z" style="fill: #759de1"/>

<path d="M48.55 161.69L542.52 161.69 542.52 259.56 47.88 259.56 47.88 161.69z" style="fill: #7399e0"/>

<path d="M48.55 163.2L542.52 163.2 542.52 259.56 47.88 259.56 47.88 163.2z" style="fill: #7195e0"/>

<path d="M48.55 164.71L542.52 164.71 542.52 170.13 533.31 170.17 533.37 173.27 542.52 173.27 542.52 259.56 47.88 259.56 47.88 164.71z" style="fill: #7291df"/>

<path d="M48.55 166.21L542.52 166.21 542.52 170.04 533.37 170.04 533.15 170.17 533.37 177.79 542.52 177.79 542.52 259.56 47.88 259.56 47.88 166.21z" style="fill: #728cde"/>

<path d="M48.55 167.63L542.52 167.63 542.52 169.94 533.37 169.94 533 170.17 533.37 182.31 542.52 182.31 542.52 259.56 47.88 259.56 47.88 167.63z" style="fill: #7388dd"/>

<path d="M48.55 169.04L542.52 169.04 542.52 169.84 533.37 169.84 532.84 170.17 533.37 186.83 542.52 186.83 542.52 259.56 47.88 259.56 47.88 169.04z" style="fill: #7483dc"/>

<path d="M48.55 170.45L532.72 170.45 533.13 178.27 533.37 191.34 542.52 191.34 542.52 259.56 47.88 259.56 47.88 170.45z" style="fill: #747fdb"/>

<path d="M48.55 171.91L532.72 171.91 533.1 179.81 533.37 195.83 542.52 195.83 542.52 259.56 47.88 259.56 47.88 171.91z" style="fill: #757bd9"/>

<path d="M48.55 173.5L532.72 173.5 533.05 180.96 533.37 199.12 542.52 199.1 542.52 259.56 47.88 259.56 47.88 173.5z" style="fill: #7576d7"/>

<path d="M48.55 175.09L532.72 175.09 533.05 183.66 533.37 202.37 542.52 202.34 542.52 259.56 47.88 259.56 47.88 175.09z" style="fill: #7672d4"/>

<path d="M48.55 176.68L532.72 176.68 533.37 205.63 542.52 205.58 542.52 259.56 47.88 259.56 47.88 176.68z" style="fill: #776ed1"/>

<path d="M48.55 178.26L532.72 178.26 533.37 208.88 542.52 208.81 542.52 259.56 47.88 259.56 47.88 178.26z" style="fill: #786ace"/>

<path d="M48.55 179.94L532.72 179.94 533.37 212.14 542.52 212.05 542.52 259.56 47.88 259.56 47.88 179.94z" style="fill: #7965cb"/>

<path d="M48.55 182.05L532.72 182.05 533.37 216.02 542.52 216.02 542.52 259.56 47.88 259.56 47.88 182.05z" style="fill: #7961c8"/>

<path d="M48.55 184.17L532.72 184.17 533.32 216.02 542.52 216.05 542.52 259.56 47.88 259.56 47.88 184.17z" style="fill: #7a5dc5"/>

<path d="M48.55 186.29L532.72 186.29 533.28 216.02 542.52 216.08 542.52 259.56 47.88 259.56 47.88 186.29z" style="fill: #7959c0"/>

<path d="M48.55 188.63L532.72 188.63 533.23 216.02 542.52 216.1 542.52 259.56 47.88 259.56 47.88 188.63z" style="fill: #7855bb"/>

<path d="M48.55 191.46L532.72 191.46 533.19 216.02 542.52 216.13 542.52 259.56 47.88 259.56 47.88 191.46z" style="fill: #7751b6"/>

<path d="M48.55 194.28L532.72 194.28 533.14 216.02 533.37 216.16 542.52 216.16 542.52 259.56 47.88 259.56 47.88 194.28z" style="fill: #774db1"/>

<path d="M48.55 197.1L532.72 196.86 533.1 216.02 533.37 216.18 542.52 216.18 542.52 259.56 47.88 259.56 47.88 197.1z" style="fill: #7649ac"/>

<path d="M241.37 199.45L532.72 199.08 533.05 216.02 533.37 216.21 542.52 216.21 542.52 259.56 47.88 259.56 47.88 199.76 240.23 199.46z" style="fill: #7545a7"/>

<path d="M401.51 201.38L532.72 201.12 533.01 216.02 533.37 216.23 542.52 216.23 542.52 259.56 47.88 259.56 47.88 202.23 398.78 201.38z" style="fill: #7342a1"/>

<path d="M481.58 203.29L532.72 203.15 532.96 216.02 533.37 216.26 542.52 216.26 542.52 259.56 47.88 259.56 47.88 204.7 475.3 203.31z" style="fill: #713e9c"/>

<path d="M521.61 205.23L532.72 205.19 532.92 216.02 533.37 216.29 542.52 216.29 542.52 259.56 47.88 259.56 47.88 207.17 520.37 205.23z" style="fill: #703a97"/>

<path d="M461.56 207.53L532.72 207.23 532.87 216.02 533.37 216.31 542.52 216.31 542.52 259.56 47.88 259.56 47.88 210.23 294.75 208.38 458.03 207.55z" style="fill: #6e3691"/>

<path d="M501.59 209.82L532.72 209.62 532.83 216.02 533.37 216.34 542.52 216.34 542.52 259.56 47.88 259.56 47.88 213.62 261.39 211.6 495.99 209.86z" style="fill: #6c338c"/>

<path d="M494.92 212.54L532.72 212.25 532.78 216.02 533.37 216.37 542.52 216.37 542.52 259.56 47.88 259.56 47.88 217 254.72 214.67 492.72 212.56z" style="fill: #6a2f87"/>

<path d="M494.92 215.21L532.72 214.87 532.74 216.02 533.37 216.39 542.52 216.39 542.52 259.56 47.88 259.56 47.88 220.53 232.5 217.95 490.36 215.25z" style="fill: #672c81"/>

<path d="M526.18 217.56L542.52 217.4 542.52 259.56 47.88 259.56 47.88 224.24 161.31 222.27 281.41 220.47 394.84 218.99 526.04 217.56z" style="fill: #64297b"/>

<path d="M528.8 220.26L542.52 220.09 542.52 259.56 47.88 259.56 47.88 227.94 154.64 225.85 274.74 223.79 528.46 220.26z" style="fill: #602674"/>

<path d="M537.95 222.95L542.52 222.89 542.52 259.56 47.88 259.56 47.88 231.37 301.43 226.55 537.45 222.96z" style="fill: #5c246e"/>

<path d="M521.61 226L542.52 225.69 542.52 259.56 47.88 259.56 47.88 234.76 165.16 232.2 254.72 230.47 518.99 226.04z" style="fill: #592168"/>

<path d="M526.18 228.73L542.52 228.48 542.52 259.56 47.88 259.56 47.88 238.15 320.8 232.2 525.66 228.74z" style="fill: #551e61"/>

<path d="M522.26 231.43L542.52 231.09 542.52 259.56 47.88 259.56 47.88 240.96 157.13 239.14 455.94 232.59 521.88 231.43z" style="fill: #511c5b"/>

<path d="M540.56 234.12L542.52 234.08 542.52 259.56 47.88 259.56 47.88 243.5 311.7 239.14 540.2 234.13z" style="fill: #4d1a52"/>

<path d="M536.64 237.6L542.52 237.47 542.52 259.56 47.88 259.56 47.88 246.04 444.22 239.53 536.59 237.6z" style="fill: #491749"/>

<path d="M528.8 240.68L542.52 240.45 542.52 259.56 47.88 259.56 47.88 248.89 130.07 247.23 528.49 240.68z" style="fill: #441541"/>

<path d="M542.52 242.99L542.52 259.56 47.88 259.56 47.88 252.06 284.65 247.23 542.44 242.99z" style="fill: #401338"/>

<path d="M533.37 245.68L542.52 245.53 542.52 259.56 47.88 259.56 47.88 255.24 418.87 247.62 532.97 245.69z" style="fill: #3b112f"/>

<path d="M535.99 248.39L542.52 248.25 542.52 259.56 47.88 259.56 47.88 258.42 535.95 248.39z" style="fill: #370f26"/>

</g>
<g id="matplotlib.axis_1"/>
<g id="matplotlib.axis_2">
<g id="ytick_1">
<g id="line2d_1">
<defs>
<path id="m5d545ce8f8" d="M0 0L-3.5 0" style="stroke: #000000; stroke-width: 0.8"/>
</defs>
<g>
<use href="#m5d545ce8f8" x="47.88" y="144.360" style="stroke: #000000; stroke-width: 0.8"/>
</g>
</g>
<g id="text_1">
<text style="font-size: 10px; font-family: 'DejaVu Sans', 'Liberation Sans', sans-serif; text-anchor: end" x="40.88" y="148.159">0</text>
</g>
</g>
<g id="ytick_2">
<g id="line2d_2">
<g>
<use href="#m5d545ce8f8" x="47.88" y="150.840" style="stroke: #000000; stroke-width: 0.8"/>
</g>
</g>
<g id="text_2">
<text style="font-size: 10px; font-family: 'DejaVu Sans', 'Liberation Sans', sans-serif; text-anchor: end" x="40.88" y="154.935">50</text>
</g>
</g>
<g id="ytick_3">
<g id="line2d_3">
<g>
<use href="#m5d545ce8f8" x="47.88" y="158.040" style="stroke: #000000; stroke-width: 0.8"/>
</g>
</g>
<g id="text_3">
<text style="font-size: 10px; font-family: 'DejaVu Sans', 'Liberation Sans', sans-serif; text-anchor: end" x="40.88" y="161.712">100</text>
</g>
</g>
<g id="ytick_4">
<g id="line2d_4">
<g>
<use href="#m5d545ce8f8" x="47.88" y="164.520" style="stroke: #000000; stroke-width: 0.8"/>
</g>
</g>
<g id="text_4">
<text style="font-size: 10px; font-family: 'DejaVu Sans', 'Liberation Sans', sans-serif; text-anchor: end" x="40.88" y="168.488">150</text>
</g>
</g>
<g id="ytick_5">
<g id="line2d_5">
<g>
<use href="#m5d545ce8f8" x="47.88" y="171.720" style="stroke: #000000; stroke-width: 0.8"/>
</g>
</g>
<g id="text_5">
<text style="font-size: 10px; font-family: 'DejaVu Sans', 'Liberation Sans', sans-serif; text-anchor: end" x="40.88" y="175.265">200</text>
</g>
</g>
<g id="ytick_6">
<g id="line2d_6">
<g>
<use href="#m5d545ce8f8" x="47.88" y="178.200" style="stroke: #000000; stroke-width: 0.8"/>
</g>
</g>
<g id="text_6">
<text style="font-size: 10px; font-family: 'DejaVu Sans', 'Liberation Sans', sans-serif; text-anchor: end" x="40.88" y="182.041">250</text>
</g>
</g>
<g id="ytick_7">
<g id="line2d_7">
<g>
<use href="#m5d545ce8f8" x="47.88" y="184.680" style="stroke: #000000; stroke-width: 0.8"/>
</g>
</g>
<g id="text_7">
<text style="font-size: 10px; font-family: 'DejaVu Sans', 'Liberation Sans', sans-serif; text-anchor: end" x="40.88" y="188.818">300</text>
</g>
</g>
<g id="ytick_8">
<g id="line2d_8">
<g>
<use href="#m5d545ce8f8" x="47.88" y="191.880" style="stroke: #000000; stroke-width: 0.8"/>
</g>
</g>
<g id="text_8">
<text style="font-size: 10px; font-family: 'DejaVu Sans', 'Liberation Sans', sans-serif; text-anchor: end" x="40.88" y="195.594">350</text>
</g>
</g>
<g id="ytick_9">
<g id="line2d_9">
<g>
<use href="#m5d545ce8f8" x="47.88" y="198.360" style="stroke: #000000; stroke-width: 0.8"/>
</g>
</g>
<g id="text_9">
<text style="font-size: 10px; font-family: 'DejaVu Sans', 'Liberation Sans', sans-serif; text-anchor: end" x="40.88" y="202.370">400</text>
</g>
</g>
<g id="ytick_10">
<g id="line2d_10">
<g>
<use href="#m5d545ce8f8" x="47.88" y="205.560" style="stroke: #000000; stroke-width: 0.8"/>
</g>
</g>
<g id="text_10">
<text style="font-size: 10px; font-family: 'DejaVu Sans', 'Liberation Sans', sans-serif; text-anchor: end" x="40.88" y="209.147">450</text>
</g>
</g>
<g id="ytick_11">
<g id="line2d_11">
<g>
<use href="#m5d545ce8f8" x="47.88" y="212.040" style="stroke: #000000; stroke-width: 0.8"/>
</g>
</g>
<g id="text_11">
<text style="font-size: 10px; font-family: 'DejaVu Sans', 'Liberation Sans', sans-serif; text-anchor: end" x="40.88" y="215.923">500</text>
</g>
</g>
<g id="ytick_12">
<g id="line2d_12">
<g>
<use href="#m5d545ce8f8" x="47.88" y="219.240" style="stroke: #000000; stroke-width: 0.8"/>
</g>
</g>
<g id="text_12">
<text style="font-size: 10px; font-family: 'DejaVu Sans', 'Liberation Sans', sans-serif; text-anchor: end" x="40.88" y="222.700">550</text>
</g>
</g>
<g id="ytick_13">
<g id="line2d_13">
<g>
<use href="#m5d545ce8f8" x="47.88" y="225.720" style="stroke: #000000; stroke-width: 0.8"/>
</g>
</g>
<g id="text_13">
<text style="font-size: 10px; font-family: 'DejaVu Sans', 'Liberation Sans', sans-serif; text-anchor: end" x="40.88" y="229.476">600</text>
</g>
</g>
<g id="ytick_14">
<g id="line2d_14">
<g>
<use href="#m5d545ce8f8" x="47.88" y="232.200" style="stroke: #000000; stroke-width: 0.8"/>
</g>
</g>
<g id="text_14">
<text style="font-size: 10px; font-family: 'DejaVu Sans', 'Liberation Sans', sans-serif; text-anchor: end" x="40.88" y="236.253">650</text>
</g>
</g>
<g id="ytick_15">
<g id="line2d_15">
<g>
<use href="#m5d545ce8f8" x="47.88" y="239.400" style="stroke: #000000; stroke-width: 0.8"/>
</g>
</g>
<g id="text_15">
<text style="font-size: 10px; font-family: 'DejaVu Sans', 'Liberation Sans', sans-serif; text-anchor: end" x="40.88" y="243.029">700</text>
</g>
</g>
<g id="ytick_16">
<g id="line2d_16">
<g>
<use href="#m5d545ce8f8" x="47.88" y="245.880" style="stroke: #000000; stroke-width: 0.8"/>
</g>
</g>
<g id="text_16">
<text style="font-size: 10px; font-family: 'DejaVu Sans', 'Liberation Sans', sans-serif; text-anchor: end" x="40.88" y="249.806">750</text>
</g>
</g>
<g id="ytick_17">
<g id="line2d_17">
<g>
<use href="#m5d545ce8f8" x="47.88" y="253.080" style="stroke: #000000; stroke-width: 0.8"/>
</g>
</g>
<g id="text_17">
<text style="font-size: 10px; font-family: 'DejaVu Sans', 'Liberation Sans', sans-serif; text-anchor: end" x="40.88" y="256.582">800</text>
</g>
</g>
<g id="ytick_18">
<g id="line2d_18">
<g>
<use href="#m5d545ce8f8" x="47.88" y="259.560" style="stroke: #000000; stroke-width: 0.8"/>
</g>
</g>
<g id="text_18">
<text style="font-size: 10px; font-family: 'DejaVu Sans', 'Liberation Sans', sans-serif; text-anchor: end" x="40.88" y="263.359">850</text>
</g>
</g>
<g id="text_19">
<text style="font-size: 10px; font-family: 'DejaVu Sans', 'Liberation Sans', sans-serif; text-anchor: middle" x="14.212" y="201.96" transform="rotate(-90 14.212 201.96)">Depth (m)</text>
</g>
</g>
<g id="patch_4">
<path d="M47.88 259.56L47.88 144.36" style="fill: none; stroke: #000000; stroke-width: 0.8; stroke-linejoin: miter; stroke-linecap: square"/>
</g>
<g id="patch_5">
<path d="M542.52 259.56L542.52 144.36" style="fill: none; stroke: #000000; stroke-width: 0.8; stroke-linejoin: miter; stroke-linecap: square"/>
</g>
<g id="patch_6">
<path d="M47.88 259.56L542.52 259.56" style="fill: none; stroke: #000000; stroke-width: 0.8; stroke-linejoin: miter; stroke-linecap: square"/>
</g>
<g id="patch_7">
<path d="M47.88 144.36L542.52 144.36" style="fill: none; stroke: #000000; stroke-width: 0.8; stroke-linejoin: miter; stroke-linecap: square"/>
</g>
<g id="line2d_19">
<path d="M534.95 172.14L534.42 185.02 534.29 214.84" clip-path="url(#p58b5c2b67b)" style="fill: none; stroke: #d4d0e4; stroke-width: 0.9; stroke-linecap: round"/>
</g>
<g id="line2d_20">
<path d="M59.09 252.17L64.56 252.17 64.56 255.43 70.57 255.43 70.57 257.19 79.97 257.19 87.98 255.7 93.52 255.97 97.99 259.22 106.93 259.22 111.93 254.48 116.94 255.02 122.88 258.68 137.89 258.95 150.83 253.94 156.84 253.94 163.78 257.46 172.72 257.46 177.79 255.97 184.73 255.97 192.67 258.68 215.95 258.95 221.36 259.22 223.69 258.54" clip-path="url(#p58b5c2b67b)" style="fill: none; stroke: #dcd6de; stroke-opacity: 0.85; stroke-width: 0.8; stroke-linecap: square"/>
</g>
<g id="text_20">
<text style="font-weight: 700; font-size: 7px; font-family: 'DejaVu Sans', 'Liberation Sans', sans-serif; text-anchor: middle" x="538.823" y="176.650">9</text>
</g>
<g id="text_21">
<text style="font-weight: 700; font-size: 7px; font-family: 'DejaVu Sans', 'Liberation Sans', sans-serif; text-anchor: middle" x="534.286" y="189.796">8</text>
</g>
<g id="text_22">
<text style="font-weight: 700; font-size: 7px; font-family: 'DejaVu Sans', 'Liberation Sans', sans-serif; text-anchor: middle" x="533.752" y="202.942">7</text>
</g>
<g id="text_23">
<text style="font-weight: 700; font-size: 7px; font-family: 'DejaVu Sans', 'Liberation Sans', sans-serif; text-anchor: middle" x="533.752" y="210.261">6</text>
</g>
<g id="text_24">
<text style="font-weight: 700; font-size: 7px; font-family: 'DejaVu Sans', 'Liberation Sans', sans-serif; text-anchor: middle" x="533.752" y="216.495">5</text>
</g>
<g id="text_25">
<text style="font-weight: 700; font-size: 7px; font-family: 'DejaVu Sans', 'Liberation Sans', sans-serif; text-anchor: middle" x="533.752" y="223.407">4</text>
</g>
<g id="text_26">
<text style="font-weight: 700; font-size: 7px; font-family: 'DejaVu Sans', 'Liberation Sans', sans-serif; text-anchor: middle" x="533.752" y="230.184">3</text>
</g>
<g id="text_27">
<text style="font-weight: 700; font-size: 7px; font-family: 'DejaVu Sans', 'Liberation Sans', sans-serif; text-anchor: middle" x="533.752" y="250.513">2</text>
</g>
<g id="text_28">
<text style="font-weight: 700; font-size: 7px; font-family: 'DejaVu Sans', 'Liberation Sans', sans-serif; text-anchor: middle" x="533.752" y="257.696">1</text>
</g>
<g id="text_29">
<text style="font-weight: 700; font-size: 7px; font-family: 'DejaVu Sans', 'Liberation Sans', sans-serif; text-anchor: middle" x="533.752" y="265.015">0</text>
</g>
</g>
<g id="axes_2">
<g id="patch_8">
<path d="M573.48 259.56L579.24 259.56 579.24 144.36 573.48 144.36 573.48 259.56z" style="fill: none"/>
</g>
<g id="grad_dense">
<path d="M573.48 254.32L579.24 254.32 579.24 149.6 573.48 149.6z" clip-path="url(#p5fd7f19cf9)" style="fill: url(#lg_dense)"/>
</g>
<g id="patch_9">
<path d="M573.48 253.07L579.24 253.07 576.36 259.56z" style="fill: #e6f1f1"/>
</g>
<g id="patch_10">
<path d="M573.48 150.85L579.24 150.85 576.36 144.36z" style="fill: #360e24"/>
</g>
<g id="matplotlib.axis_3"/>
<g id="matplotlib.axis_4">
<g id="ytick_19">
<g id="line2d_21">
<defs>
<path id="m33c4ce201d" d="M0 0L3.5 0" style="stroke: #000000; stroke-width: 0.8"/>
</defs>
<g>
<use href="#m33c4ce201d" x="579.24" y="149.400" style="stroke: #000000; stroke-width: 0.8"/>
</g>
</g>
<g id="text_30">
<text style="font-size: 10px; font-family: 'DejaVu Sans', 'Liberation Sans', sans-serif; text-anchor: start" x="586.24" y="153.395">27.1</text>
</g>
</g>
<g id="ytick_20">
<g id="line2d_22">
<g>
<use href="#m33c4ce201d" x="579.24" y="201.960" style="stroke: #000000; stroke-width: 0.8"/>
</g>
</g>
<g id="text_31">
<text style="font-size: 10px; font-family: 'DejaVu Sans', 'Liberation Sans', sans-serif; text-anchor: start" x="586.24" y="205.759">26.5</text>
</g>
</g>
<g id="ytick_21">
<g id="line2d_23">
<g>
<use href="#m33c4ce201d" x="579.24" y="254.520" style="stroke: #000000; stroke-width: 0.8"/>
</g>
</g>
<g id="text_32">
<text style="font-size: 10px; font-family: 'DejaVu Sans', 'Liberation Sans', sans-serif; text-anchor: start" x="586.24" y="258.122">25.9</text>
</g>
</g>
<g id="text_33">
<text style="font-size: 9px; font-family: 'DejaVu Sans', 'Liberation Sans', sans-serif; text-anchor: middle" x="619.344" y="201.96" transform="rotate(-90 619.344 201.96)">Sigma-t [kg/m^3]</text>
</g>
</g>
<g id="patch_11">
<path d="M573.48 254.32L576.36 259.56 579.24 254.32 579.24 149.6 576.36 144.36 573.48 149.6 573.48 254.32z" style="fill: none; stroke: #000000; stroke-width: 0.8; stroke-linejoin: miter"/>
</g>
</g>
<g id="axes_3">
<g id="patch_12">
<path d="M47.88 392.76L542.52 392.76 542.52 276.84 47.88 276.84z" style="fill: #ffffff"/>
</g>
<g id="patch_13">
<path d="M52.55 276.84L52.55 294.98 55.69 352.53 59.09 352.53 59.09 385.67 64.56 385.67 64.56 388.94 70.57 388.94 70.57 390.71 79.97 390.71 87.98 389.21 93.52 389.49 97.99 392.76 106.93 392.76 111.93 387.99 116.94 388.53 122.88 392.21 137.89 392.49 150.83 387.44 156.84 387.44 163.78 390.99 172.72 390.99 177.79 389.49 184.73 389.49 192.67 392.21 215.95 392.49 221.36 392.76 223.69 392.08 226.03 392.76 286.75 392.76 294.09 390.58 301.43 392.76 530.55 392.76 530.55 349.12 537.02 349.12 537.02 276.84 52.55 276.84z" clip-path="url(#pb0f30e44dd)" style="fill: none"/>
</g>
<g mask="url(#mk1)">
<path d="M48.55 276.84L542.52 276.84 542.52 392.76 47.88 392.76 47.88 276.84z" style="fill: #052436"/>

<path d="M48.55 276.84L542.52 276.84 542.52 392.76 47.88 392.76 47.88 276.84z" style="fill: #06263d"/>

<path d="M48.55 276.84L542.52 276.84 542.52 392.36 388.16 392.57 354.8 392.12 308.1 391.19 228.03 392.55 47.88 392.38 47.88 276.84z" style="fill: #082843"/>

<path d="M48.55 276.84L542.52 276.84 542.52 387.3 388.16 390.15 348.13 389.89 308.1 390.1 268.06 389.88 228.03 390.16 59.22 387.58 47.88 387.58 47.88 276.84z" style="fill: #092a4a"/>

<path d="M48.55 276.84L542.52 276.84 542.52 383.71 488.25 385.56 401.64 388.11 381.49 388.51 308.1 389.19 228.03 388.47 59.22 384.17 47.88 384.17 47.88 276.84z" style="fill: #0b2b50"/>

<path d="M48.55 276.84L542.52 276.84 542.52 381.33 488.25 383.66 408.18 386.69 388.16 387.28 334.79 387.93 308.1 388.44 288.08 388.04 228.03 387.35 59.22 381.91 47.88 381.91 47.88 276.84z" style="fill: #0d2d56"/>

<path d="M48.55 276.84L542.52 276.84 542.52 378.95 488.25 381.77 408.18 385.43 388.16 386.14 308.1 387.74 228.03 386.22 59.22 379.66 47.88 379.66 47.88 276.84z" style="fill: #0e2f5d"/>

<path d="M48.55 276.84L542.52 276.84 542.52 376.74 489.04 379.97 408.18 384.26 388.16 385.09 308.1 387.04 228.03 385.18 59.22 377.55 47.88 377.55 47.88 276.84z" style="fill: #123264"/>

<path d="M48.55 276.84L542.52 276.84 542.52 374.94 488.25 378.58 408.18 383.3 381.49 384.42 308.1 386.26 228.03 384.33 59.22 375.85 47.88 375.85 47.88 276.84z" style="fill: #16346b"/>

<path d="M48.55 276.84L542.52 276.84 542.52 373.14 488.25 377.15 408.18 382.35 381.49 383.58 328.11 385.06 308.1 385.22 288.08 385.09 228.03 383.48 59.22 374.14 47.88 374.14 47.88 276.84z" style="fill: #193673"/>

<path d="M48.55 276.84L542.52 276.84 542.52 371.35 477.93 376.48 412.13 381.13 392 382.29 341.46 383.91 308.1 384.17 268.06 383.82 228.03 382.63 59.22 372.44 47.88 372.44 47.88 276.84z" style="fill: #1d397a"/>

<path d="M48.55 276.84L542.52 276.84 542.52 369.55 494.63 373.76 465.53 376.09 409.4 380.35 390.28 381.52 354.8 382.76 314.77 383.09 308.1 382.74 301.43 383.09 254.72 382.72 228.03 381.78 59.22 370.74 47.88 370.74 47.88 276.84z" style="fill: #203b81"/>

<path d="M48.55 276.84L542.52 276.84 542.52 367.75 494.92 372.27 464.03 374.93 408.18 379.49 388.16 380.78 354.8 381.62 321.44 381.91 308.1 380.13 302.62 380.74 294.75 381.92 254.72 381.62 228.03 380.93 59.22 369.03 47.88 369.03 47.88 276.84z" style="fill: #243d88"/>

<path d="M48.55 276.84L542.52 276.84 542.52 365.49 492.4 370.66 463.33 373.38 408.18 378.29 388.16 379.7 354.8 380.44 334.79 380.6 329.14 380.35 321.44 379.16 317.93 378.8 314.77 378.61 301.43 378.6 294.75 379.05 285.97 380.35 281.41 380.62 254.72 380.44 228.03 379.84 59.22 366.88 47.88 366.88 47.88 276.84z" style="fill: #293e8d"/>

<path d="M48.55 276.84L542.52 276.84 542.52 362.79 493.71 368.34 463.56 371.44 408.18 376.86 388.16 378.4 354.8 379.26 341.46 379.33 339.6 379.19 328.11 377.39 325.45 377.25 301.43 377.28 294.75 377.03 283.74 377.64 274.74 379.05 268.06 379.34 254.72 379.26 228.03 378.56 59.22 364.33 47.88 364.33 47.88 276.84z" style="fill: #2f3d90"/>

<path d="M48.55 276.84L542.52 276.84 542.52 360.1 488.17 366.78 408.18 375.43 388.16 377.11 354.8 378.08 348.13 377.67 334.79 375.67 294.75 375.77 281.41 375.51 273.63 376.09 261.39 378.04 254.72 378.07 228.03 377.29 59.22 361.77 47.88 361.77 47.88 276.84z" style="fill: #353d93"/>

<path d="M48.55 276.84L542.52 276.84 542.52 357.4 492.71 364.07 463.91 367.56 408.18 374 388.16 375.82 368.15 376.48 361.48 376.47 354.8 375.83 346.61 374.54 341.46 374.15 288.08 374.25 274.74 373.92 263.83 374.54 260.44 374.93 254.72 376.08 248.05 376.54 228.03 376.01 59.22 359.21 47.88 359.21 47.88 276.84z" style="fill: #3b3c97"/>

<path d="M48.55 276.84L542.52 276.84 542.52 354.71 490.9 362.13 451.78 367.17 408.18 372.57 388.16 374.53 381.49 374.77 361.48 373.46 354.8 372.82 281.41 372.73 268.06 372.4 261.39 372.41 248.05 373.27 234.7 374.58 228.03 374.73 59.22 356.65 47.88 356.65 47.88 276.84z" style="fill: #413c9a"/>

<path d="M48.55 276.84L542.52 276.84 542.52 350.5 533.77 350.5 494.24 357.09 463.23 361.74 408.18 369.59 388.16 371.85 381.49 371.69 368.15 370.8 268.06 370.77 254.72 370.38 248.05 370.45 234.7 371.24 228.03 371.94 221.36 371.32 59.22 351.34 47.88 351.34 47.88 276.84z" style="fill: #463b9e"/>

<path d="M48.55 276.84L542.52 276.84 542.52 350.48 531.41 350.49 530.78 350.11 530.76 344.54 521.61 346.26 521.5 346.62 520.92 347.01 515.77 347.4 514.94 347.56 514.62 348.18 509.82 348.56 508.26 348.86 508.08 349.34 507.09 349.73 501.59 350.16 501.08 350.89 495.9 351.28 494.92 351.46 494.55 352.05 489.54 352.44 488.25 352.67 487.88 353.22 481.58 353.81 481.16 354.38 474.9 354.95 474.44 355.54 468.23 356.13 467.71 356.7 461.56 357.32 460.93 357.87 454.89 358.35 454.05 359.03 448.21 359.45 447.94 359.81 447.09 360.19 441.54 360.58 441.15 360.97 440.02 361.36 434.87 361.73 434.31 362.13 432.81 362.52 428.2 362.88 427.39 363.3 425.42 363.68 421.53 364.01 420.36 364.46 414.85 365.13 413.09 365.62 388.16 368.63 254.72 368.64 241.37 368.22 234.7 368.27 228.03 368.71 221.36 368.31 208.01 367.1 174.65 363.39 127.95 357.72 59.22 349.01 47.88 349.01 47.88 276.84z" style="fill: #4c3ca0"/>

<path d="M48.55 276.84L542.52 276.84 542.52 350.46 531.41 350.47 530.81 350.11 530.76 343.97 520.88 345.85 520.51 346.24 519.64 346.62 514.94 347.03 513.37 347.79 511.48 348.18 508.26 348.38 507.4 348.56 506.94 348.95 505.83 349.34 501.31 349.73 499.67 350.5 494.92 351.03 493.79 351.28 493.09 351.66 491.07 352.05 488.25 352.23 487.05 352.44 486.33 352.83 484.24 353.22 481.58 353.38 477.36 354.38 474.9 354.53 473.52 354.77 472.7 355.15 468.23 355.68 466.75 355.93 465.85 356.32 459.94 357.09 458.88 357.48 452.96 358.26 451.76 358.64 448.21 359.04 444.52 359.81 408.18 365.2 394.84 366.37 388.16 366.51 241.37 366.51 214.69 365.45 194.67 363.92 161.31 360.38 114.6 354.88 59.22 348.01 47.88 348.01 47.88 276.84z" style="fill: #513e9f"/>

<path d="M48.55 276.84L542.52 276.84 542.52 350.45 531.41 350.45 530.84 350.11 530.76 343.8 520.11 345.85 519.41 346.24 517.79 346.62 514.17 347.01 511.86 347.79 508.26 348.18 506.49 348.56 505.64 348.95 500.38 349.73 497.85 350.5 494.92 350.8 491.33 351.66 488.02 352.05 484.46 352.83 478.96 353.6 477.54 353.99 434.87 360.79 421.53 362.75 414.85 363.64 409.35 364.07 408.18 364.38 228.03 364.38 221.36 364.09 194.67 362.21 167.98 359.78 121.27 354.57 59.22 347.06 47.88 347.06 47.88 276.84z" style="fill: #56419e"/>

<path d="M48.55 276.84L542.52 276.84 542.52 350.43 531.41 350.43 530.87 350.11 530.76 343.67 496.03 350.5 461.56 356.29 434.87 360.39 432.27 360.58 428.2 361.33 422.89 361.74 421.53 362.17 414.85 362.25 214.69 362.23 208.01 361.86 188 360.25 147.96 356.46 107.93 351.98 59.22 346.16 47.88 346.16 47.88 276.84z" style="fill: #5b439d"/>

<path d="M48.55 276.84L542.52 276.84 542.52 350.41 531.41 350.42 530.9 350.11 530.76 343.53 496.92 350.11 461.56 356.02 448.21 358.08 445.52 358.26 441.54 359.06 436.45 359.42 434.87 359.89 428.2 360.11 201.34 360.11 170.27 357.48 138.86 354.38 107.93 351.02 59.22 345.28 47.88 345.28 47.88 276.84z" style="fill: #61469d"/>

<path d="M48.55 276.84L542.52 276.84 542.52 350.4 531.41 350.4 530.93 350.11 530.91 344.3 530.76 343.4 495.76 350.11 474.9 353.61 464.32 355.15 461.56 355.76 458.86 355.93 454.89 356.79 450.05 357.09 448.21 357.65 441.54 357.98 188 357.95 164.85 355.93 130.13 352.44 94.59 348.57 59.22 344.46 47.88 344.46 47.88 276.84z" style="fill: #66489c"/>

<path d="M48.55 276.84L542.52 276.84 542.52 350.38 531.41 350.38 530.95 350.11 530.94 344.3 530.76 343.27 488.25 351.22 477.35 352.83 474.9 353.4 471.74 353.6 468.23 354.46 463.44 354.77 461.56 355.44 454.89 355.85 174.65 355.85 124.29 350.89 59.22 343.68 47.88 343.68 47.88 276.84z" style="fill: #6b4b9b"/>

<path d="M48.55 276.84L542.52 276.84 542.52 350.36 531.41 350.37 530.98 350.11 530.97 344.3 530.76 343.13 519.58 345.07 508.26 347.37 505.04 347.79 501.59 348.63 498.54 348.95 494.92 349.88 492.04 350.11 488.25 351.04 484.73 351.28 481.58 352.12 476.72 352.44 474.9 353.11 472.25 353.22 468.23 353.72 161.31 353.67 125.16 350.11 59.22 342.89 47.88 342.89 47.88 276.84z" style="fill: #704d9a"/>

<path d="M48.55 276.84L542.52 276.84 542.52 350.35 531.41 350.35 531.01 350.11 530.99 344.3 530.76 343 521.61 344.68 518.44 345.07 514.94 345.95 512.04 346.24 508.26 347.21 505.73 347.4 501.59 348.46 496.92 348.95 494.92 349.69 489.8 350.11 488.25 350.77 481.98 351.28 481.58 351.59 147.96 351.59 146.11 351.28 141.29 350.97 118.2 348.56 59.22 342.15 47.88 342.15 47.88 276.84z" style="fill: #764e98"/>

<path d="M48.55 276.84L542.52 276.84 542.52 350.33 531.41 350.33 531.04 350.11 531.02 344.3 530.76 342.88 521.61 344.54 517.29 345.07 516.44 345.46 514.94 345.79 510.54 346.24 508.26 347.05 503.62 347.4 501.59 348.28 496.31 348.56 495.31 348.95 494.92 349.36 141.29 349.46 134.62 349.4 127.95 348.82 59.22 341.43 47.88 341.43 47.88 276.84z" style="fill: #7b5097"/>

<path d="M48.55 276.84L542.52 276.84 542.52 350.31 531.41 350.32 531.07 350.11 531.05 344.3 530.76 342.75 521.61 344.41 517.5 344.69 514.94 345.61 510.54 345.85 509.03 346.24 508.26 346.75 502.72 347.01 501.59 347.33 121.27 347.33 119.66 347.01 114.6 346.67 59.22 340.75 47.88 340.75 47.88 276.84z" style="fill: #815195"/>

<path d="M48.55 276.84L542.52 276.84 542.52 350.3 531.41 350.3 531.1 350.11 531.08 344.3 530.76 342.6 521.61 344.21 515.49 344.69 514.94 345.2 114.6 345.2 107.93 345.14 101.26 344.56 59.22 340.1 47.88 340.1 47.88 276.84z" style="fill: #865394"/>

<path d="M48.55 276.84L542.52 276.84 542.52 350.28 531.41 350.28 531.13 350.11 531.1 343.91 530.76 342.45 524.88 343.39 101.26 343.39 94.59 343.23 59.22 339.47 47.88 339.47 47.88 276.84z" style="fill: #8c5493"/>

<path d="M48.55 276.84L542.52 276.84 542.52 350.26 531.41 350.27 531.15 350.11 531.13 343.91 530.76 341.62 87.91 341.62 81.24 341.22 59.22 338.86 47.88 338.86 47.88 276.84z" style="fill: #925690"/>

<path d="M48.55 276.84L542.52 276.84 542.52 350.25 531.41 350.25 531.18 350.11 531.16 343.91 530.86 342.36 530.76 339.84 81.24 339.84 74.57 339.78 59.22 338.27 47.88 338.27 47.88 276.84z" style="fill: #98588d"/>

<path d="M48.55 276.84L542.52 276.84 542.52 350.23 531.41 350.23 531.21 350.11 531.19 343.91 530.93 342.36 530.76 338.09 63.23 338.09 59.22 337.72 47.88 337.72 47.88 276.84z" style="fill: #9e598b"/>

<path d="M48.55 276.84L542.52 276.84 542.52 350.21 531.41 350.21 531.24 350.11 531.22 343.91 531 342.36 530.76 336.57 47.88 336.57 47.88 276.84z" style="fill: #a55b88"/>

<path d="M48.55 276.84L542.52 276.84 542.52 350.2 531.41 350.2 531.27 350.11 531.26 343.91 530.76 335.04 47.88 335.04 47.88 276.84z" style="fill: #ab5c85"/>

<path d="M48.55 276.84L542.52 276.84 542.52 350.18 531.41 350.18 531.29 343.91 530.76 333.52 47.88 333.52 47.88 276.84z" style="fill: #b15e82"/>

<path d="M48.55 276.84L542.52 276.84 542.52 350.16 531.41 350.16 531.09 336.54 530.76 332 47.88 332 47.88 276.84z" style="fill: #b7607f"/>

<path d="M48.55 276.84L542.52 276.84 542.52 350.15 531.41 350.15 531.15 334.99 530.76 330.48 47.88 330.48 47.88 276.84z" style="fill: #bd627c"/>

<path d="M48.55 276.84L542.52 276.84 542.52 350.13 531.41 350.13 531.24 333.06 531.08 330.34 530.76 328.96 47.88 328.96 47.88 276.84z" style="fill: #c36478"/>

<path d="M48.55 276.84L542.52 276.84 542.52 327.43 47.88 327.43 47.88 276.84z" style="fill: #c96775"/>

<path d="M48.55 276.84L542.52 276.84 542.52 325.91 47.88 325.91 47.88 276.84z" style="fill: #cf6971"/>

<path d="M48.55 276.84L542.52 276.84 542.52 324.39 47.88 324.39 47.88 276.84z" style="fill: #d56b6e"/>

<path d="M48.55 276.84L542.52 276.84 542.52 322.87 47.88 322.87 47.88 276.84z" style="fill: #db6e6a"/>

<path d="M48.55 276.84L542.52 276.84 542.52 321.35 47.88 321.35 47.88 276.84z" style="fill: #e07266"/>

<path d="M48.55 276.84L542.52 276.84 542.52 319.82 47.88 319.82 47.88 276.84z" style="fill: #e47761"/>

<path d="M48.55 276.84L542.52 276.84 542.52 318.3 47.88 318.3 47.88 276.84z" style="fill: #e87c5c"/>

<path d="M48.55 276.84L542.52 276.84 542.52 316.78 47.88 316.78 47.88 276.84z" style="fill: #ec8058"/>

<path d="M48.55 276.84L542.52 276.84 542.52 315.26 47.88 315.26 47.88 276.84z" style="fill: #f08553"/>

<path d="M48.55 276.84L542.52 276.84 542.52 313.73 47.88 313.73 47.88 276.84z" style="fill: #f48a4e"/>

<path d="M48.55 276.84L542.52 276.84 542.52 312.21 47.88 312.21 47.88 276.84z" style="fill: #f6904b"/>

<path d="M48.55 276.84L542.52 276.84 542.52 310.65 47.88 310.65 47.88 276.84z" style="fill: #f69849"/>

<path d="M48.55 276.84L542.52 276.84 542.52 308.87 47.88 308.87 47.88 276.84z" style="fill: #f79f47"/>

<path d="M48.55 276.84L542.52 276.84 542.52 307.1 47.88 307.1 47.88 276.84z" style="fill: #f7a744"/>

<path d="M48.55 276.84L542.52 276.84 542.52 305.32 47.88 305.32 47.88 276.84z" style="fill: #f7af42"/>

<path d="M48.55 276.84L542.52 276.84 542.52 303.43 47.88 303.43 47.88 276.84z" style="fill: #f8b640"/>

<path d="M48.55 276.84L542.52 276.84 542.52 301.39 47.88 301.39 47.88 276.84z" style="fill: #f8be3f"/>

<path d="M48.55 276.84L542.52 276.84 542.52 300.28 47.88 300.28 47.88 276.84z" style="fill: #f5c843"/>

<path d="M48.55 276.84L542.52 276.84 542.52 295.8 47.88 295.8 47.88 276.84z" style="fill: #f3d148"/>

<path d="M48.55 276.84L542.52 276.84 542.52 294.74 47.88 294.74 47.88 276.84z" style="fill: #f0db4c"/>

<path d="M48.55 276.84L542.52 276.84 542.52 290.99 47.88 290.99 47.88 276.84z" style="fill: #eee451"/>

<path d="M48.55 276.84L542.52 276.84 542.52 283.18 47.88 283.18 47.88 276.84zM48.55 284.45L542.52 284.45 542.52 286.73 47.88 286.73 47.88 284.45z" style="fill: #ebee55"/>

<path d="M48.55 276.84L542.52 276.84 542.52 282.31 47.88 282.31 47.88 276.84z" style="fill: #e9f85a"/>

</g>
<g id="matplotlib.axis_5"/>
<g id="matplotlib.axis_6">
<g id="ytick_22">
<g id="line2d_24">
<g>
<use href="#m5d545ce8f8" x="47.88" y="276.840" style="stroke: #000000; stroke-width: 0.8"/>
</g>
</g>
<g id="text_34">
<text style="font-size: 10px; font-family: 'DejaVu Sans', 'Liberation Sans', sans-serif; text-anchor: end" x="40.88" y="280.639">0</text>
</g>
</g>
<g id="ytick_23">
<g id="line2d_25">
<g>
<use href="#m5d545ce8f8" x="47.88" y="283.320" style="stroke: #000000; stroke-width: 0.8"/>
</g>
</g>
<g id="text_35">
<text style="font-size: 10px; font-family: 'DejaVu Sans', 'Liberation Sans', sans-serif; text-anchor: end" x="40.88" y="287.458">50</text>
</g>
</g>
<g id="ytick_24">
<g id="line2d_26">
<g>
<use href="#m5d545ce8f8" x="47.88" y="290.520" style="stroke: #000000; stroke-width: 0.8"/>
</g>
</g>
<g id="text_36">
<text style="font-size: 10px; font-family: 'DejaVu Sans', 'Liberation Sans', sans-serif; text-anchor: end" x="40.88" y="294.276">100</text>
</g>
</g>
<g id="ytick_25">
<g id="line2d_27">
<g>
<use href="#m5d545ce8f8" x="47.88" y="297.000" style="stroke: #000000; stroke-width: 0.8"/>
</g>
</g>
<g id="text_37">
<text style="font-size: 10px; font-family: 'DejaVu Sans', 'Liberation Sans', sans-serif; text-anchor: end" x="40.88" y="301.095">150</text>
</g>
</g>
<g id="ytick_26">
<g id="line2d_28">
<g>
<use href="#m5d545ce8f8" x="47.88" y="304.200" style="stroke: #000000; stroke-width: 0.8"/>
</g>
</g>
<g id="text_38">
<text style="font-size: 10px; font-family: 'DejaVu Sans', 'Liberation Sans', sans-serif; text-anchor: end" x="40.88" y="307.914">200</text>
</g>
</g>
<g id="ytick_27">
<g id="line2d_29">
<g>
<use href="#m5d545ce8f8" x="47.88" y="310.680" style="stroke: #000000; stroke-width: 0.8"/>
</g>
</g>
<g id="text_39">
<text style="font-size: 10px; font-family: 'DejaVu Sans', 'Liberation Sans', sans-serif; text-anchor: end" x="40.88" y="314.733">250</text>
</g>
</g>
<g id="ytick_28">
<g id="line2d_30">
<g>
<use href="#m5d545ce8f8" x="47.88" y="317.880" style="stroke: #000000; stroke-width: 0.8"/>
</g>
</g>
<g id="text_40">
<text style="font-size: 10px; font-family: 'DejaVu Sans', 'Liberation Sans', sans-serif; text-anchor: end" x="40.88" y="321.552">300</text>
</g>
</g>
<g id="ytick_29">
<g id="line2d_31">
<g>
<use href="#m5d545ce8f8" x="47.88" y="324.360" style="stroke: #000000; stroke-width: 0.8"/>
</g>
</g>
<g id="text_41">
<text style="font-size: 10px; font-family: 'DejaVu Sans', 'Liberation Sans', sans-serif; text-anchor: end" x="40.88" y="328.370">350</text>
</g>
</g>
<g id="ytick_30">
<g id="line2d_32">
<g>
<use href="#m5d545ce8f8" x="47.88" y="331.560" style="stroke: #000000; stroke-width: 0.8"/>
</g>
</g>
<g id="text_42">
<text style="font-size: 10px; font-family: 'DejaVu Sans', 'Liberation Sans', sans-serif; text-anchor: end" x="40.88" y="335.189">400</text>
</g>
</g>
<g id="ytick_31">
<g id="line2d_33">
<g>
<use href="#m5d545ce8f8" x="47.88" y="338.040" style="stroke: #000000; stroke-width: 0.8"/>
</g>
</g>
<g id="text_43">
<text style="font-size: 10px; font-family: 'DejaVu Sans', 'Liberation Sans', sans-serif; text-anchor: end" x="40.88" y="342.008">450</text>
</g>
</g>
<g id="ytick_32">
<g id="line2d_34">
<g>
<use href="#m5d545ce8f8" x="47.88" y="345.240" style="stroke: #000000; stroke-width: 0.8"/>
</g>
</g>
<g id="text_44">
<text style="font-size: 10px; font-family: 'DejaVu Sans', 'Liberation Sans', sans-serif; text-anchor: end" x="40.88" y="348.827">500</text>
</g>
</g>
<g id="ytick_33">
<g id="line2d_35">
<g>
<use href="#m5d545ce8f8" x="47.88" y="351.720" style="stroke: #000000; stroke-width: 0.8"/>
</g>
</g>
<g id="text_45">
<text style="font-size: 10px; font-family: 'DejaVu Sans', 'Liberation Sans', sans-serif; text-anchor: end" x="40.88" y="355.646">550</text>
</g>
</g>
<g id="ytick_34">
<g id="line2d_36">
<g>
<use href="#m5d545ce8f8" x="47.88" y="358.920" style="stroke: #000000; stroke-width: 0.8"/>
</g>
</g>
<g id="text_46">
<text style="font-size: 10px; font-family: 'DejaVu Sans', 'Liberation Sans', sans-serif; text-anchor: end" x="40.88" y="362.465">600</text>
</g>
</g>
<g id="ytick_35">
<g id="line2d_37">
<g>
<use href="#m5d545ce8f8" x="47.88" y="365.400" style="stroke: #000000; stroke-width: 0.8"/>
</g>
</g>
<g id="text_47">
<text style="font-size: 10px; font-family: 'DejaVu Sans', 'Liberation Sans', sans-serif; text-anchor: end" x="40.88" y="369.283">650</text>
</g>
</g>
<g id="ytick_36">
<g id="line2d_38">
<g>
<use href="#m5d545ce8f8" x="47.88" y="372.600" style="stroke: #000000; stroke-width: 0.8"/>
</g>
</g>
<g id="text_48">
<text style="font-size: 10px; font-family: 'DejaVu Sans', 'Liberation Sans', sans-serif; text-anchor: end" x="40.88" y="376.102">700</text>
</g>
</g>
<g id="ytick_37">
<g id="line2d_39">
<g>
<use href="#m5d545ce8f8" x="47.88" y="379.080" style="stroke: #000000; stroke-width: 0.8"/>
</g>
</g>
<g id="text_49">
<text style="font-size: 10px; font-family: 'DejaVu Sans', 'Liberation Sans', sans-serif; text-anchor: end" x="40.88" y="382.921">750</text>
</g>
</g>
<g id="ytick_38">
<g id="line2d_40">
<g>
<use href="#m5d545ce8f8" x="47.88" y="386.280" style="stroke: #000000; stroke-width: 0.8"/>
</g>
</g>
<g id="text_50">
<text style="font-size: 10px; font-family: 'DejaVu Sans', 'Liberation Sans', sans-serif; text-anchor: end" x="40.88" y="389.740">800</text>
</g>
</g>
<g id="ytick_39">
<g id="line2d_41">
<g>
<use href="#m5d545ce8f8" x="47.88" y="392.760" style="stroke: #000000; stroke-width: 0.8"/>
</g>
</g>
<g id="text_51">
<text style="font-size: 10px; font-family: 'DejaVu Sans', 'Liberation Sans', sans-serif; text-anchor: end" x="40.88" y="396.559">850</text>
</g>
</g>
<g id="text_52">
<text style="font-size: 10px; font-family: 'DejaVu Sans', 'Liberation Sans', sans-serif; text-anchor: middle" x="14.212" y="334.8" transform="rotate(-90 14.212 334.8)">Depth (m)</text>
</g>
</g>
<g id="patch_14">
<path d="M47.88 392.76L47.88 276.84" style="fill: none; stroke: #000000; stroke-width: 0.8; stroke-linejoin: miter; stroke-linecap: square"/>
</g>
<g id="patch_15">
<path d="M542.52 392.76L542.52 276.84" style="fill: none; stroke: #000000; stroke-width: 0.8; stroke-linejoin: miter; stroke-linecap: square"/>
</g>
<g id="patch_16">
<path d="M47.88 392.76L542.52 392.76" style="fill: none; stroke: #000000; stroke-width: 0.8; stroke-linejoin: miter; stroke-linecap: square"/>
</g>
<g id="patch_17">
<path d="M47.88 276.84L542.52 276.84" style="fill: none; stroke: #000000; stroke-width: 0.8; stroke-linejoin: miter; stroke-linecap: square"/>
</g>
<g id="text_53">
<text style="font-weight: 700; font-size: 7px; font-family: 'DejaVu Sans', 'Liberation Sans', sans-serif; text-anchor: middle" x="538.823" y="309.319">9</text>
</g>
<g id="text_54">
<text style="font-weight: 700; font-size: 7px; font-family: 'DejaVu Sans', 'Liberation Sans', sans-serif; text-anchor: middle" x="534.286" y="322.548">8</text>
</g>
<g id="text_55">
<text style="font-weight: 700; font-size: 7px; font-family: 'DejaVu Sans', 'Liberation Sans', sans-serif; text-anchor: middle" x="533.752" y="335.776">7</text>
</g>
<g id="text_56">
<text style="font-weight: 700; font-size: 7px; font-family: 'DejaVu Sans', 'Liberation Sans', sans-serif; text-anchor: middle" x="533.752" y="343.141">6</text>
</g>
<g id="text_57">
<text style="font-weight: 700; font-size: 7px; font-family: 'DejaVu Sans', 'Liberation Sans', sans-serif; text-anchor: middle" x="533.752" y="349.414">5</text>
</g>
<g id="text_58">
<text style="font-weight: 700; font-size: 7px; font-family: 'DejaVu Sans', 'Liberation Sans', sans-serif; text-anchor: middle" x="533.752" y="356.369">4</text>
</g>
<g id="text_59">
<text style="font-weight: 700; font-size: 7px; font-family: 'DejaVu Sans', 'Liberation Sans', sans-serif; text-anchor: middle" x="533.752" y="363.188">3</text>
</g>
<g id="text_60">
<text style="font-weight: 700; font-size: 7px; font-family: 'DejaVu Sans', 'Liberation Sans', sans-serif; text-anchor: middle" x="533.752" y="383.645">2</text>
</g>
<g id="text_61">
<text style="font-weight: 700; font-size: 7px; font-family: 'DejaVu Sans', 'Liberation Sans', sans-serif; text-anchor: middle" x="533.752" y="390.873">1</text>
</g>
<g id="text_62">
<text style="font-weight: 700; font-size: 7px; font-family: 'DejaVu Sans', 'Liberation Sans', sans-serif; text-anchor: middle" x="533.752" y="398.237">0</text>
</g>
</g>
<g id="axes_4">
<g id="patch_18">
<path d="M573.48 392.76L579.24 392.76 579.24 276.84 573.48 276.84 573.48 392.76z" style="fill: none"/>
</g>
<g id="grad_thermal">
<path d="M573.48 387.49L579.24 387.49 579.24 282.11 573.48 282.11z" clip-path="url(#pdf3f505f38)" style="fill: url(#lg_thermal)"/>
</g>
<g id="patch_19">
<path d="M573.48 386.23L579.24 386.23 576.36 392.76z" style="fill: #042333"/>
</g>
<g id="patch_20">
<path d="M573.48 283.37L579.24 283.37 576.36 276.84z" style="fill: #e8fa5b"/>
</g>
<g id="matplotlib.axis_7"/>
<g id="matplotlib.axis_8">
<g id="ytick_40">
<g id="line2d_42">
<g>
<use href="#m33c4ce201d" x="579.24" y="281.880" style="stroke: #000000; stroke-width: 0.8"/>
</g>
</g>
<g id="text_63">
<text style="font-size: 10px; font-family: 'DejaVu Sans', 'Liberation Sans', sans-serif; text-anchor: start" x="586.24" y="285.908">9.9</text>
</g>
</g>
<g id="ytick_41">
<g id="line2d_43">
<g>
<use href="#m33c4ce201d" x="579.24" y="335.880" style="stroke: #000000; stroke-width: 0.8"/>
</g>
</g>
<g id="text_64">
<text style="font-size: 10px; font-family: 'DejaVu Sans', 'Liberation Sans', sans-serif; text-anchor: start" x="586.24" y="339.720">7.5</text>
</g>
</g>
<g id="ytick_42">
<g id="line2d_44">
<g>
<use href="#m33c4ce201d" x="579.24" y="387.720" style="stroke: #000000; stroke-width: 0.8"/>
</g>
</g>
<g id="text_65">
<text style="font-size: 10px; font-family: 'DejaVu Sans', 'Liberation Sans', sans-serif; text-anchor: start" x="586.24" y="391.290">5.2</text>
</g>
</g>
<g id="text_66">
<text style="font-size: 9px; font-family: 'DejaVu Sans', 'Liberation Sans', sans-serif; text-anchor: middle" x="612.981" y="334.8" transform="rotate(-90 612.981 334.8)">Temperature [degree_Celsius]</text>
</g>
</g>
<g id="patch_21">
<path d="M573.48 387.49L576.36 392.76 579.24 387.49 579.24 282.11 576.36 276.84 573.48 282.11 573.48 387.49z" style="fill: none; stroke: #000000; stroke-width: 0.8; stroke-linejoin: miter"/>
</g>
</g>
<g id="axes_5">
<g id="patch_22">
<path d="M47.88 525.96L542.52 525.96 542.52 410.04 47.88 410.04z" style="fill: #ffffff"/>
</g>
<g id="patch_23">
<path d="M52.55 410.04L52.55 428.18 55.69 485.73 59.09 485.73 59.09 518.87 64.56 518.87 64.56 522.14 70.57 522.14 70.57 523.91 79.97 523.91 87.98 522.41 93.52 522.69 97.99 525.96 106.93 525.96 111.93 521.19 116.94 521.73 122.88 525.41 137.89 525.69 150.83 520.64 156.84 520.64 163.78 524.19 172.72 524.19 177.79 522.69 184.73 522.69 192.67 525.41 215.95 525.69 221.36 525.96 223.69 525.28 226.03 525.96 286.75 525.96 294.09 523.78 301.43 525.96 530.55 525.96 530.55 482.32 537.02 482.32 537.02 410.04 52.55 410.04z" clip-path="url(#p53c9fe6aa6)" style="fill: none"/>
</g>
<g mask="url(#mk2)">
<path d="M48.55 410.04L542.52 410.04 542.52 525.96 47.88 525.96 47.88 410.04z" style="fill: #291a6f"/>

<path d="M48.55 417.14L542.52 417.14 542.52 525.96 47.88 525.96 47.88 417.14z" style="fill: #271f74"/>

<path d="M48.55 417.26L542.52 417.26 542.52 525.96 47.88 525.96 47.88 417.26z" style="fill: #25237a"/>

<path d="M48.55 417.38L542.52 417.38 542.52 525.96 47.88 525.96 47.88 417.38z" style="fill: #232780"/>

<path d="M48.55 417.47L542.52 417.47 542.52 525.96 47.88 525.96 47.88 417.47z" style="fill: #222c85"/>

<path d="M48.55 417.56L542.52 417.56 542.52 525.96 47.88 525.96 47.88 417.56z" style="fill: #20308b"/>

<path d="M48.55 417.64L542.52 417.64 542.52 525.96 47.88 525.96 47.88 417.64z" style="fill: #1e3590"/>

<path d="M48.55 417.73L542.52 417.73 542.52 525.96 47.88 525.96 47.88 417.73z" style="fill: #1c3a92"/>

<path d="M48.55 417.82L542.52 417.82 542.52 525.96 47.88 525.96 47.88 417.82z" style="fill: #1a3f93"/>

<path d="M48.55 417.91L542.52 417.91 542.52 525.96 47.88 525.96 47.88 417.91z" style="fill: #184495"/>

<path d="M48.55 418L542.52 418 542.52 525.96 47.88 525.96 47.88 418z" style="fill: #164996"/>

<path d="M48.55 418.1L542.52 418.1 542.52 525.96 47.88 525.96 47.88 418.1z" style="fill: #144e98"/>

<path d="M48.55 418.19L542.52 418.19 542.52 525.96 47.88 525.96 47.88 418.19z" style="fill: #12539a"/>

<path d="M48.55 418.29L542.52 418.29 542.52 525.96 47.88 525.96 47.88 418.29z" style="fill: #135799"/>

<path d="M48.55 418.39L542.52 418.39 542.52 525.96 47.88 525.96 47.88 418.39z" style="fill: #145b97"/>

<path d="M48.55 418.49L542.52 418.49 542.52 525.96 47.88 525.96 47.88 418.49z" style="fill: #155f95"/>

<path d="M48.55 418.59L542.52 418.59 542.52 525.96 47.88 525.96 47.88 418.59z" style="fill: #166394"/>

<path d="M48.55 418.69L542.52 418.69 542.52 525.96 47.88 525.96 47.88 418.69z" style="fill: #176792"/>

<path d="M48.55 418.79L542.52 418.79 542.52 525.96 47.88 525.96 47.88 418.79z" style="fill: #186b90"/>

<path d="M48.55 418.89L542.52 418.89 542.52 525.96 47.88 525.96 47.88 418.89z" style="fill: #1a6e8f"/>

<path d="M48.55 419L542.52 419 542.52 525.96 47.88 525.96 47.88 419z" style="fill: #1d728e"/>

<path d="M48.55 419.14L542.52 419.14 542.52 525.96 47.88 525.96 47.88 419.14z" style="fill: #1f758e"/>

<path d="M48.55 419.27L542.52 419.27 542.52 525.96 47.88 525.96 47.88 419.27z" style="fill: #22798d"/>

<path d="M48.55 419.41L542.52 419.41 542.52 525.96 47.88 525.96 47.88 419.41z" style="fill: #257c8c"/>

<path d="M48.55 419.56L542.52 419.56 542.52 525.96 47.88 525.96 47.88 419.56z" style="fill: #27808c"/>

<path d="M48.55 419.71L542.52 419.71 542.52 525.96 47.88 525.96 47.88 419.71z" style="fill: #2a838b"/>

<path d="M48.55 419.86L542.52 419.86 542.52 525.96 47.88 525.96 47.88 419.86z" style="fill: #2d878a"/>

<path d="M48.55 420L542.52 420 542.52 525.96 47.88 525.96 47.88 420z" style="fill: #2f8a88"/>

<path d="M48.55 420.17L542.52 420.17 542.52 525.96 47.88 525.96 47.88 420.17z" style="fill: #328e87"/>

<path d="M48.55 420.39L542.52 420.39 542.52 525.96 47.88 525.96 47.88 420.39z" style="fill: #349185"/>

<path d="M48.55 420.65L542.52 420.65 542.52 525.96 47.88 525.96 47.88 420.65z" style="fill: #379584"/>

<path d="M48.55 420.97L542.52 420.97 542.52 525.96 47.88 525.96 47.88 420.97z" style="fill: #399983"/>

<path d="M48.55 421.29L542.52 421.29 542.52 464.7 531.41 464.7 531.41 483.31 542.52 483.31 542.52 525.96 47.88 525.96 47.88 421.29z" style="fill: #3d9d81"/>

<path d="M48.55 421.61L542.52 421.61 542.52 464.68 531.37 464.7 531.37 474.78 531.37 483.31 542.52 483.34 542.52 525.96 47.88 525.96 47.88 421.61z" style="fill: #42a27e"/>

<path d="M48.55 421.93L542.52 421.93 542.52 464.66 531.33 464.7 531.33 474.78 531.34 483.31 542.52 483.36 542.52 525.96 47.88 525.96 47.88 421.93z" style="fill: #47a67c"/>

<path d="M48.55 422.3L542.52 422.3 542.52 464.64 531.3 464.7 531.29 474.78 531.3 483.31 542.52 483.38 542.52 525.96 47.88 525.96 47.88 422.3z" style="fill: #4cab7a"/>

<path d="M48.55 423.04L542.52 423.04 542.52 464.61 531.26 464.7 531.25 474.78 531.26 483.31 542.52 483.4 542.52 525.96 47.88 525.96 47.88 423.04z" style="fill: #51b078"/>

<path d="M48.55 423.96L542.52 423.96 542.52 464.59 531.22 464.7 531.21 474.78 531.22 483.31 542.52 483.42 542.52 525.96 47.88 525.96 47.88 459.36 58.56 459.36 58.58 458.89 58.56 453.94 47.88 453.94 47.88 423.96z" style="fill: #56b476"/>

<path d="M48.55 424.87L542.52 424.87 542.52 464.57 531.41 464.57 531.18 464.7 531.17 474.78 531.19 483.31 531.41 483.45 542.52 483.45 542.52 525.96 47.88 525.96 47.88 468.58 58.56 470.61 58.6 461.6 58.56 460.82 47.88 460.82 47.88 459.78 58.56 459.78 58.63 458.89 58.56 451.81 47.88 451.81 47.88 424.87z" style="fill: #5cb973"/>

<path d="M48.55 425.78L542.52 425.78 542.52 464.55 531.41 464.55 531.14 464.7 531.13 474.78 531.15 483.31 531.41 483.47 542.52 483.47 542.52 525.96 47.88 525.96 47.88 473.6 58.56 474.97 58.58 473.23 58.56 472.63 47.88 470.31 47.88 469.08 58.56 471.19 58.69 458.89 58.56 449.35 47.88 449.35 47.88 425.78z" style="fill: #64bc70"/>

<path d="M48.55 426.92L542.52 426.92 542.52 464.52 531.41 464.52 531.11 464.7 531.09 474.78 531.11 483.31 531.41 483.49 542.52 483.49 542.52 525.96 47.88 525.96 47.88 480.5 58.56 480.5 58.74 458.89 58.56 446.69 47.88 446.69 47.88 426.92zM57.22 471.67L58.31 471.68 57.18 471.68z" style="fill: #6cbf6d"/>

<path d="M48.55 428.51L542.52 428.51 542.52 432.4 441.54 432.4 47.88 432.4 47.88 428.51zM48.55 432.84L542.52 432.84 542.52 464.5 531.41 464.5 531.07 464.7 531.05 474.78 531.08 483.31 531.41 483.51 542.52 483.51 542.52 525.96 47.88 525.96 47.88 486.58 58.56 486.58 58.79 458.89 58.56 445.21 47.88 445.21 47.88 432.84z" style="fill: #73c269"/>

<path d="M48.55 430.11L542.52 430.11 542.52 432.18 47.88 432.18 47.88 430.11zM48.55 433.05L542.52 433.05 542.52 464.48 531.41 464.48 531.03 464.7 531 474.78 531.04 483.31 531.41 483.53 542.52 483.53 542.52 525.96 47.88 525.96 47.88 490.84 58.56 490.84 58.84 458.89 58.56 444.7 47.88 444.7 47.88 433.05z" style="fill: #7bc566"/>

<path d="M48.55 433.21L542.52 433.21 542.52 464.46 531.41 464.46 530.99 464.7 530.96 474.78 531 483.31 531.41 483.56 542.52 483.56 542.52 525.96 47.88 525.96 47.88 495.1 58.56 495.1 58.9 458.89 58.56 444.18 47.88 444.18 47.88 433.21z" style="fill: #83c863"/>

<path d="M48.55 433.39L542.52 433.39 542.52 464.43 531.41 464.43 530.95 464.7 530.92 474.78 530.96 483.31 531.41 483.58 542.52 483.58 542.52 525.96 47.88 525.96 47.88 499.25 58.56 499.25 58.95 458.89 58.74 445.71 58.56 443.52 47.88 443.52 47.88 433.39z" style="fill: #8bcb5f"/>

<path d="M48.55 433.61L542.52 433.61 542.52 464.41 531.41 464.41 530.92 464.7 530.88 474.78 530.93 483.31 531.41 483.6 542.52 483.6 542.52 525.96 47.88 525.96 47.88 502.8 58.56 502.8 59 458.89 58.8 445.71 58.56 442.84 47.88 442.84 47.88 433.61z" style="fill: #92cd5f"/>

<path d="M48.55 433.91L542.52 433.91 542.52 464.39 531.41 464.39 530.88 464.7 530.84 474.78 530.89 483.31 531.41 483.62 542.52 483.62 542.52 525.96 47.88 525.96 47.88 506.36 58.56 506.36 59.05 458.89 58.85 445.71 58.56 442.16 47.88 442.16 47.88 433.91z" style="fill: #99cf5f"/>

<path d="M48.55 434.26L542.52 434.26 542.52 464.37 531.41 464.37 530.84 464.7 530.8 474.78 530.85 483.31 531.41 483.64 542.52 483.64 542.52 525.96 47.88 525.96 47.88 509.91 58.56 509.91 59.1 458.89 58.9 445.71 58.56 441.48 47.88 441.48 47.88 434.26z" style="fill: #a0d25f"/>

<path d="M48.55 434.6L542.52 434.6 542.52 464.34 531.41 464.34 530.8 464.7 530.76 474.78 530.81 483.31 531.41 483.66 542.52 483.66 542.52 525.96 47.88 525.96 47.88 514.03 58.56 514.03 59.16 458.89 58.95 445.71 58.56 440.8 47.88 440.8 47.88 434.6z" style="fill: #a7d45e"/>

<path d="M48.55 434.95L542.52 434.95 542.52 464.32 531.41 464.32 530.76 464.7 530.76 466.24 528.14 466.25 521.61 466.81 505.62 468.58 494.92 470.32 490.58 471.3 490.15 471.68 490.56 472.85 491.69 474.01 492.92 474.78 493.97 475.17 494.92 475.28 495.4 474.78 498.87 474.4 501.59 474.32 502.68 473.62 504.2 473.23 508.96 472.85 510.05 472.07 516.06 471.3 516.83 470.52 522.61 469.74 530.76 467.62 530.76 469.95 521.61 471.95 520.36 472.07 519.35 472.85 517.71 473.23 514.08 473.62 513.08 474.4 511.72 474.78 508.1 475.17 506.36 476.34 501.61 477.11 501.55 477.5 504.41 478.27 513.8 479.82 527.02 481.38 530.76 481.5 530.78 483.31 531.41 483.69 542.52 483.69 542.52 525.96 47.88 525.96 47.88 519.35 58.56 519.35 59.21 458.89 58.99 445.32 58.56 440.12 47.88 440.12 47.88 434.95z" style="fill: #aed65e"/>

<path d="M48.55 435.34L542.52 435.34 542.52 453.4 414.85 453.51 59.22 453.51 58.93 442.61 58.56 439.44 47.88 439.44 47.88 435.34zM59.22 459.44L542.52 459.58 542.52 461.02 439.01 461.22 414.85 461.45 59.22 461.45 59.2 459.66zM59.22 462.58L414.85 462.58 423.91 463.54 430.94 464.7 434.03 465.48 436.25 466.26 437.86 467.03 439.48 468.19 440.54 469.36 441.81 471.3 460.35 476.34 473.09 479.05 474.9 479.35 476.39 479.05 481.58 478.87 482.91 478.27 484.73 477.89 489.82 477.5 491.16 476.72 495.46 476.34 498.51 476.72 498.77 477.11 498.06 477.5 493.24 478.27 493.17 478.66 492.71 479.05 491.16 479.44 488.06 479.82 487.76 480.21 487.73 480.6 487.8 480.99 488.25 481.26 504.38 482.93 526.18 484.55 542.52 484.68 542.52 525.96 47.88 525.96 47.88 524.68 58.56 524.68 59.22 462.77zM530.1 468.51L530.76 468.35 530.76 469.48 521.61 471.47 520.09 471.3 519.59 470.91 529.82 468.58zM514.94 472.04L516.89 472.46 516.16 472.85 514.94 473.02 513.28 472.85 512.75 472.46 514.64 472.07zM508.26 473.5L509.5 473.62 510.62 474.01 509.81 474.4 508.26 474.61 506.05 474.4 505.55 474.01 507.07 473.62zM501.59 474.93L503.92 475.17 504.58 475.56 503.77 475.95 501.59 476.24 498.29 475.95 498.07 475.56 499.24 475.17z" style="fill: #b5d95e"/>

<path d="M48.55 435.96L542.52 435.96 542.52 451.32 414.85 451.38 59.22 451.38 58.96 441.44 58.56 438.76 47.88 438.76 47.88 435.96zM59.22 459.87L542.52 460.02 542.52 460.48 414.85 460.7 59.22 460.7 59.2 460.05zM59.22 470.93L67.42 472.46 72.32 472.85 73.83 473.23 74.57 473.66 79.98 474.01 81.24 474.47 87.91 474.53 414.85 474.53 441.7 479.82 451.31 481.38 461.56 482.67 463.79 482.15 468.23 481.96 469.77 481.38 471.58 480.99 477.16 480.6 477.48 480.21 478.29 479.82 481.58 479.45 484.6 479.82 484.91 480.21 483.91 480.6 479.93 480.99 479.61 481.38 479.62 481.76 479.05 482.15 474.57 482.93 474.5 483.7 474.9 484.1 490.01 485.25 514.47 486.42 528.14 486.96 542.52 486.96 542.52 525.96 58.6 525.96 59.18 471.3zM501.59 475.52L501.43 475.56zM494.92 476.79L495.94 477.11 494.92 477.41 493.7 477.11zM488.25 478.12L489.6 478.27 490.34 478.66 488.25 479.16 486.81 479.05 485.71 478.66 486.8 478.27z" style="fill: #bbdb60"/>

<path d="M48.55 436.6L542.52 436.6 542.52 448.79 414.85 448.82 59.22 448.82 59.02 440.28 58.84 438.73 58.56 438.08 47.88 438.08 47.88 436.6zM59.22 471.42L67.9 473.07 69.51 473.23 71.29 473.62 71.83 474.01 77.99 474.78 80.1 475.56 84.43 475.95 86.66 476.72 90.58 477.11 92.64 477.5 94.59 478.14 99.42 478.66 101.26 479.38 106.29 479.82 107.93 480.55 113.64 480.99 114.6 481.46 121.27 481.64 414.85 481.64 424.78 483.31 434.87 484.68 448.21 485.72 450.19 485.25 454.89 485.01 457.85 484.09 463.67 483.7 464.82 482.93 468.23 482.49 471.36 482.93 471.49 483.31 470.18 483.7 466.34 484.09 466.29 484.86 465.67 485.25 461.56 485.97 461.56 486.49 481.58 487.52 508.26 488.54 528.14 489.16 542.52 489.17 542.52 525.96 58.65 525.96 59.22 475.59 74.57 477.55 75.54 477.5 75.81 477.11 75.49 476.34 70.04 475.56 69.44 474.78 67.9 474.59 59.22 472.66 59.19 471.68zM78.53 477.89L81.24 478.37 81.56 477.89 81.24 477.71zM481.58 479.99L482.06 480.21 480.98 480.21zM474.9 481.2L476.29 481.38 476.74 481.76 474.9 482.16 472.64 481.76 473.39 481.38z" style="fill: #c1dc65"/>

<path d="M59.22 437.33L542.52 437.33 542.52 446.15 59.22 446.16 59.15 438.73 58.98 437.57zM63.23 472.84L63.21 472.85zM65.23 473.18L66.06 473.23 65.9 473.33 64.69 473.23zM66.56 473.48L68.13 473.62 67.9 473.93 66.32 473.62zM74.57 474.81L75.64 475.17 74.57 475.45 73.36 475.17zM81.24 476.1L82.65 476.34 82.74 476.72 81.24 476.94 79.69 476.72 79.47 476.34zM87.91 477.36L89.11 477.5 90.22 477.89 89.6 478.27 87.91 478.42 86.5 478.27 85.27 477.89 86.09 477.5zM94.59 478.63L97.18 479.05 97.6 479.44 96.71 479.82 101.26 479.92 103.74 480.21 104.79 480.6 105.24 480.99 109.88 481.38 111.71 481.76 112.39 482.15 118.41 482.93 120.69 483.7 124.91 484.09 127.13 484.86 131.38 485.25 133.32 485.64 134.62 486.13 139.02 486.42 140.81 486.8 141.29 487.06 147.96 487.26 414.85 487.26 434.87 488.46 441.55 487.97 443.63 487.19 448.21 486.79 450.53 486.42 451.13 486.03 454.89 485.51 456.82 485.64 458.37 486.03 458.38 486.42 456.99 486.8 453.72 487.19 453.53 487.97 453.18 488.35 452.32 488.74 452.14 489.13 454.89 489.37 509.37 491.07 528.14 491.5 542.52 491.5 542.52 525.96 58.7 525.96 59.22 481.92 87.91 482.01 107.93 484.47 109.79 484.09 108.51 482.93 104.17 482.54 103.25 482.15 103.1 481.76 101.83 481.38 97.83 480.99 97.19 480.6 97.37 480.21 91.45 479.44 91.3 479.05 93.64 478.66zM108.15 484.48L114.6 485.25 115.08 484.86 114.85 484.48 114.6 484.42zM468.23 483L468.55 483.31 467.84 483.31zM461.56 484.23L463.19 484.48 463.27 484.86 461.56 485.19 459.43 484.86 459.78 484.48z" style="fill: #c7de69"/>

<path d="M101.26 480.51L101.57 480.6 101.26 480.69 100.9 480.6zM107.93 481.67L108.52 481.76 108.62 482.15 107.93 482.26 107.2 482.15 107.17 481.76zM114.6 482.9L116.14 483.31 114.6 483.75 112.82 483.31 114.31 482.93zM121.27 484.2L123.05 484.48 123.43 484.86 121.27 485.22 118.99 484.86 118.98 484.48zM127.95 485.45L129.64 485.64 130.99 486.03 131.33 486.42 136.01 486.8 138.23 487.19 139.05 487.58 145.28 488.35 147.95 489.13 152.36 489.52 154.64 490.28 159.87 490.68 161.31 491.23 167.98 491.52 414.85 491.52 421.53 491.73 422.09 491.46 428.2 490.98 429.91 490.29 436.76 489.52 437.32 489.13 438.81 488.74 441.54 488.49 444.74 488.74 445.53 489.13 445.32 489.52 443.73 489.9 440.58 490.29 440.32 491.07 439.92 491.46 439 491.84 439.38 492.23 441.54 492.38 501.59 493.67 528.14 494.09 542.52 494.09 542.52 525.96 58.75 525.96 59.22 487.43 114.6 487.48 134.62 489.43 135.21 489.13 135.36 488.74 134.62 488.37 130.45 487.97 129.89 487.58 129.91 487.19 129.12 486.8 124.92 486.42 124.4 486.03 125.17 485.64zM454.89 485.96L455.29 486.03 455.26 486.42 454.89 486.48 454.42 486.42 454.45 486.03zM448.21 487.19L450.5 487.58 450.3 487.97 448.21 488.31 445.6 487.97 445.77 487.58z" style="fill: #cddf6d"/>

<path d="M134.62 487.13L135.02 487.19 135.41 487.58 134.62 487.72 133.78 487.58 134.1 487.19zM141.29 488.33L143.17 488.74 142.81 489.13 141.29 489.29 139.9 489.13 139.09 488.74 140.85 488.35zM441.54 488.95L442.51 489.13 441.96 489.52 441.02 489.52 440.51 489.13zM147.96 489.57L150.37 489.9 151.08 490.29 151.24 490.68 157.21 491.07 159.39 491.84 163.82 492.23 165.75 492.62 166.67 493.01 172.93 493.78 174.65 494.37 180.34 494.94 181.32 495.4 188 495.78 401.51 495.78 408.18 495.33 409.93 494.56 414.85 494.16 416.86 493.39 423.68 492.62 424.08 492.23 425.24 491.84 428.2 491.54 431.55 491.84 432.11 492.23 431.64 492.62 426.75 493.39 426.48 494.17 425.43 494.56 421.53 495.03 421.27 495.33 421.53 495.87 494.92 496.77 542.52 497.08 542.52 525.96 58.8 525.96 59.22 491.7 134.62 491.7 154.64 493.61 155.27 493.39 155.5 493.01 155.38 492.62 151.68 492.23 150.23 491.84 150.05 491.46 150.17 491.07 146.13 490.68 144.62 490.29 144.79 489.9zM434.87 490.2L437.38 490.68 436.8 491.07 434.87 491.34 432.38 491.07 432.22 490.68 433.96 490.29z" style="fill: #d3e172"/>

<path d="M154.64 491.3L155.35 491.46 154.64 491.78 153.8 491.46zM428.2 492.01L429.11 492.23 428.2 492.55 427.24 492.23zM161.31 492.46L162.49 492.62 163.14 493.01 161.31 493.36 159.33 493.01 159.73 492.62zM421.53 493.28L422.66 493.39 423.71 493.78 421.53 494.31 420.06 494.17 419.23 493.78 420.51 493.39zM167.98 493.67L170.7 494.17 170.95 494.56 167.98 494.9 165.18 494.56 164.75 494.17 166 493.78zM174.65 494.9L177.87 495.33 178.72 495.72 180.62 496.11 184.82 496.5 187.27 497.27 191.74 497.66 194.67 498.51 199.07 498.82 201.34 499.5 208.01 499.82 381.49 499.82 388.16 499.65 389 499.21 391.57 498.82 394.84 498.61 397.79 497.66 402.53 497.27 404.23 496.5 411.46 495.72 411.34 495.33 412.26 494.94 414.85 494.64 417.76 494.94 418.23 495.33 417.29 495.72 412.1 496.11 412.57 496.5 412.68 496.88 412.01 497.27 407.19 498.05 406.89 498.82 405.64 499.6 408.18 499.82 542.52 500.27 542.52 525.96 58.86 525.96 59.22 495.96 154.64 495.96 161.31 496.43 174.65 497.79 175.3 497.66 175.63 497.27 175.68 496.88 174.83 496.5 170.87 496.11 170.22 495.72 170.3 495.33 170.79 494.94z" style="fill: #d9e376"/>

<path d="M414.85 495.21L415.19 495.33 414.5 495.33zM174.65 495.37L175.24 495.72 174.01 495.72zM408.18 496.42L408.85 496.5 409.58 496.88 408.18 497.19 406.73 496.88 407.58 496.5zM181.32 496.56L182.89 496.88 182.63 497.27 181.32 497.43 180.08 497.27 179.46 496.88zM188 497.79L189.98 498.05 190.8 498.43 190.54 498.82 196.76 499.21 199.19 499.98 203.46 500.37 208.01 501.37 213.11 501.92 214.69 502.47 218.59 502.7 221.36 503.28 368.15 503.37 374.82 502.9 376.11 502.31 381.49 501.75 384.89 500.76 390.27 500.37 391.47 499.6 394.84 499.13 396.45 499.21 398.44 499.6 398.55 499.98 397.34 500.37 393.45 500.76 393.23 501.54 392.69 501.92 388.16 502.6 387.95 502.7 388.16 503.34 542.52 503.53 542.52 525.96 58.91 525.96 59.22 499.96 174.65 499.97 194.67 501.66 195.41 501.15 195.27 500.76 191.42 500.37 190.29 499.98 190.23 499.6 190.63 499.21 186.3 498.82 184.92 498.43 185.28 498.05zM401.51 497.79L403.64 498.05 403.96 498.43 402.24 498.82 400.33 498.82 398.93 498.43 399.55 498.05z" style="fill: #dfe47b"/>

<path d="M194.67 499.49L195.21 499.6 194.68 499.98 194.02 499.6zM394.84 499.57L395.36 499.98 394.84 500.08 394.28 499.98 394.66 499.6zM201.34 500.63L202.39 500.76 203.31 501.15 201.97 501.54 200.9 501.54 199.17 501.15 199.89 500.76zM388.16 500.9L389.93 501.15 389.96 501.54 388.16 501.84 386.2 501.54 386.49 501.15zM208.01 501.82L210.94 502.31 211.47 502.7 218.24 503.47 219.23 503.86 221.36 504.24 225.45 504.64 228.03 505.4 232.92 505.8 234.7 506.41 241.37 506.92 354.8 506.9 355.53 506.58 361.48 506.1 363.13 505.41 369.69 504.64 370.31 504.25 371.71 503.86 378.3 503.47 378.02 503.09 378.38 502.7 381.49 502.22 382.95 502.31 384.72 502.7 384.61 503.09 379.09 503.86 379.44 504.25 379.33 504.64 378.24 505.02 374.65 505.41 374.11 505.8 374.13 506.19 374.18 506.58 374.82 506.92 542.52 506.97 542.52 525.96 58.96 525.96 59.22 503.51 188 503.51 194.67 503.64 208.01 504.85 210.21 504.64 209.73 504.25 209.68 503.47 204.62 502.7 204.46 502.31 205.89 501.92zM212.36 505.02L214.69 505.4 214.87 505.02 214.69 504.96z" style="fill: #e3e680"/>

<path d="M381.49 502.7L381.48 502.7zM214.69 503.45L215.87 503.86 214.69 504.14 213.37 503.86 214.41 503.47zM374.82 504L376.29 504.25 375.87 504.64 374.82 504.8 373.62 504.64 373.39 504.25zM221.36 504.64L223.53 505.02 223.81 505.41 221.36 505.75 218.92 505.41 218.71 505.02zM368.15 505.31L369.51 505.41 371 505.8 370.55 506.19 368.15 506.53 365.33 506.19 365.33 505.8 367.09 505.41zM228.03 505.86L230.75 506.19 232.9 506.96 237.75 507.35 240.37 508.13 244.83 508.51 248.05 509.37 252.64 509.68 254.72 510.28 261.39 510.48 334.79 510.48 341.46 510.27 342.87 509.68 348.13 509.25 350.1 508.51 356.8 507.74 357.29 507.35 358.51 506.96 361.48 506.66 365.14 506.96 365.67 507.35 365.33 507.74 360.41 508.51 360.21 509.29 359.72 509.68 358.61 510.06 361.48 510.48 542.52 510.49 542.52 525.96 59.01 525.96 59.22 507.07 208.01 507.07 214.69 507.41 228.03 508.64 228.6 508.51 229.01 508.13 229.1 507.74 228.03 507.37 224.36 506.96 223.84 506.58 224.15 506.19z" style="fill: #e8e885"/>

<path d="M228.03 506.43L228.44 506.58 227.57 506.58zM361.48 507.11L362.59 507.35 361.61 507.74 360.37 507.35zM234.7 507.5L236.11 507.74 236.2 508.13 234.7 508.34 233.19 508.13 232.97 507.74zM354.8 508.4L356.08 508.51 357.24 508.9 356.34 509.29 354.8 509.49 352.86 509.29 352.34 508.9 353.73 508.51zM241.37 508.68L243.23 508.9 244.33 509.29 244.52 509.68 250.02 510.06 251.84 510.45 252.7 510.84 259.16 511.62 261.39 512.24 266.4 512.78 268.06 513.41 273.67 513.94 274.74 514.45 281.41 514.88 314.77 514.88 321.44 514.73 321.95 514.33 323.69 513.94 328.11 513.65 330.26 512.78 334.79 512.39 337.03 511.62 339.4 511.23 344.06 510.84 344.31 510.45 345.32 510.06 348.13 509.74 351.38 510.06 351.88 510.45 351.19 510.84 347.97 511.23 346.44 511.62 346.51 512 346.16 512.39 344.42 512.78 341.04 513.17 340.32 514.72 341.46 514.88 542.52 514.88 542.52 525.96 59.06 525.96 59.22 510.62 228.03 510.66 248.05 512.44 248.54 512 248.14 511.62 243.91 511.23 243.32 510.84 243.41 510.06 238.92 509.68 238.05 509.29 238.67 508.9z" style="fill: #ede98a"/>

<path d="M248.05 510.35L248.68 510.45 248.64 510.84 248.05 510.93 247.45 510.84 247.26 510.45zM348.13 510.25L348.8 510.45 348.13 510.63 347.44 510.45zM254.72 511.5L256.9 512 256.29 512.39 254.72 512.52 253.46 512.39 252.25 512 253.27 511.62zM341.46 511.49L342.62 511.62 343.42 512 341.88 512.39 340.86 512.39 339.43 512 340.43 511.62zM261.39 512.72L264.16 513.17 265.31 513.94 268.06 513.98 270.99 514.33 272.92 515.1 277.53 515.49 279.96 516.27 286.09 517.04 288.08 517.68 293.1 518.21 294.75 518.85 301.43 519.51 302.38 518.98 304.26 518.59 308.71 518.21 310.43 517.43 314.77 517.01 316.47 516.66 317.01 516.27 318.64 515.88 323.93 515.49 324.68 514.72 328.11 514.24 330.18 514.33 331.82 514.72 331.85 515.1 330.55 515.49 326.21 515.88 326.05 516.66 325.09 517.04 321.44 517.43 320.41 517.82 320.27 518.21 319.8 518.59 318.15 518.98 314.77 519.31 314.54 519.76 314.77 520.2 542.52 520.21 542.52 525.96 59.12 525.96 59.22 515.09 248.05 515.09 254.72 515.6 268.06 517.11 269.63 517.04 269.24 515.88 268.06 515.57 264.05 515.1 263.58 514.72 263.65 514.33 258.08 513.55 257.93 513.17 259.74 512.78zM272.26 517.43L274.74 517.83 275.03 517.43 274.74 517.26zM334.79 512.85L337.4 513.17 337.68 513.55 336.16 513.94 334.79 514.1 332.67 513.94 331.76 513.55 332.41 513.17z" style="fill: #f2eb8f"/>

<path d="M268.06 514.5L268.74 514.72 268.06 514.9 267.29 514.72zM328.11 514.69L328.69 515.1 328.11 515.21 327.51 515.1 327.91 514.72zM274.74 515.68L275.93 515.88 276.07 516.27 274.74 516.47 273.36 516.27 273.23 515.88zM321.44 516.08L322.79 516.27 322.82 516.66 321.44 516.89 319.96 516.66 320.17 516.27zM281.41 516.91L283.74 517.43 283.27 517.82 281.41 517.99 279.83 517.82 278.74 517.43 279.67 517.04zM314.77 517.45L317.15 517.82 316.97 518.21 314.77 518.55 312.35 518.21 312.5 517.82zM288.08 518.16L290.86 518.59 292.12 519.37 294.75 519.43 301.43 520.16 303.6 520.14 304.61 519.76 304.85 519.37 308.1 518.84 310.15 518.98 311.44 519.37 311.14 519.76 306.22 520.53 306.31 521.7 305.43 522.08 301.43 522.47 295.77 522.08 295.53 521.31 294.75 521.06 290.55 520.53 290.18 520.14 290.21 519.76 286.49 519.37 284.62 518.98 284.55 518.59 286.66 518.21zM59.22 520.42L274.74 520.42 281.41 521 296.64 522.86 299.37 524.02 301.43 525.53 542.52 525.53 542.52 525.96 59.17 525.96 59.22 520.53z" style="fill: #f7ed94"/>

<path d="M308.1 519.34L308.25 519.37 308.1 519.49 307.95 519.37zM294.75 519.94L295.95 520.14 294.75 520.38 293.89 520.14zM301.43 520.44L302.62 520.53 303.78 520.92 303.83 521.7 301.43 522.07 298.57 521.7 298.53 521.31 296.83 520.53zM59.22 525.75L294.75 525.75 295.03 525.96 59.22 525.96z" style="fill: #fcef99"/>

</g>
<g id="matplotlib.axis_9"/>
<g id="matplotlib.axis_10">
<g id="ytick_43">
<g id="line2d_45">
<g>
<use href="#m5d545ce8f8" x="47.88" y="410.040" style="stroke: #000000; stroke-width: 0.8"/>
</g>
</g>
<g id="text_67">
<text style="font-size: 10px; font-family: 'DejaVu Sans', 'Liberation Sans', sans-serif; text-anchor: end" x="40.88" y="413.839">0</text>
</g>
</g>
<g id="ytick_44">
<g id="line2d_46">
<g>
<use href="#m5d545ce8f8" x="47.88" y="416.520" style="stroke: #000000; stroke-width: 0.8"/>
</g>
</g>
<g id="text_68">
<text style="font-size: 10px; font-family: 'DejaVu Sans', 'Liberation Sans', sans-serif; text-anchor: end" x="40.88" y="420.658">50</text>
</g>
</g>
<g id="ytick_45">
<g id="line2d_47">
<g>
<use href="#m5d545ce8f8" x="47.88" y="423.720" style="stroke: #000000; stroke-width: 0.8"/>
</g>
</g>
<g id="text_69">
<text style="font-size: 10px; font-family: 'DejaVu Sans', 'Liberation Sans', sans-serif; text-anchor: end" x="40.88" y="427.476">100</text>
</g>
</g>
<g id="ytick_46">
<g id="line2d_48">
<g>
<use href="#m5d545ce8f8" x="47.88" y="430.200" style="stroke: #000000; stroke-width: 0.8"/>
</g>
</g>
<g id="text_70">
<text style="font-size: 10px; font-family: 'DejaVu Sans', 'Liberation Sans', sans-serif; text-anchor: end" x="40.88" y="434.295">150</text>
</g>
</g>
<g id="ytick_47">
<g id="line2d_49">
<g>
<use href="#m5d545ce8f8" x="47.88" y="437.400" style="stroke: #000000; stroke-width: 0.8"/>
</g>
</g>
<g id="text_71">
<text style="font-size: 10px; font-family: 'DejaVu Sans', 'Liberation Sans', sans-serif; text-anchor: end" x="40.88" y="441.114">200</text>
</g>
</g>
<g id="ytick_48">
<g id="line2d_50">
<g>
<use href="#m5d545ce8f8" x="47.88" y="443.880" style="stroke: #000000; stroke-width: 0.8"/>
</g>
</g>
<g id="text_72">
<text style="font-size: 10px; font-family: 'DejaVu Sans', 'Liberation Sans', sans-serif; text-anchor: end" x="40.88" y="447.933">250</text>
</g>
</g>
<g id="ytick_49">
<g id="line2d_51">
<g>
<use href="#m5d545ce8f8" x="47.88" y="451.080" style="stroke: #000000; stroke-width: 0.8"/>
</g>
</g>
<g id="text_73">
<text style="font-size: 10px; font-family: 'DejaVu Sans', 'Liberation Sans', sans-serif; text-anchor: end" x="40.88" y="454.752">300</text>
</g>
</g>
<g id="ytick_50">
<g id="line2d_52">
<g>
<use href="#m5d545ce8f8" x="47.88" y="457.560" style="stroke: #000000; stroke-width: 0.8"/>
</g>
</g>
<g id="text_74">
<text style="font-size: 10px; font-family: 'DejaVu Sans', 'Liberation Sans', sans-serif; text-anchor: end" x="40.88" y="461.570">350</text>
</g>
</g>
<g id="ytick_51">
<g id="line2d_53">
<g>
<use href="#m5d545ce8f8" x="47.88" y="464.760" style="stroke: #000000; stroke-width: 0.8"/>
</g>
</g>
<g id="text_75">
<text style="font-size: 10px; font-family: 'DejaVu Sans', 'Liberation Sans', sans-serif; text-anchor: end" x="40.88" y="468.389">400</text>
</g>
</g>
<g id="ytick_52">
<g id="line2d_54">
<g>
<use href="#m5d545ce8f8" x="47.88" y="471.240" style="stroke: #000000; stroke-width: 0.8"/>
</g>
</g>
<g id="text_76">
<text style="font-size: 10px; font-family: 'DejaVu Sans', 'Liberation Sans', sans-serif; text-anchor: end" x="40.88" y="475.208">450</text>
</g>
</g>
<g id="ytick_53">
<g id="line2d_55">
<g>
<use href="#m5d545ce8f8" x="47.88" y="478.440" style="stroke: #000000; stroke-width: 0.8"/>
</g>
</g>
<g id="text_77">
<text style="font-size: 10px; font-family: 'DejaVu Sans', 'Liberation Sans', sans-serif; text-anchor: end" x="40.88" y="482.027">500</text>
</g>
</g>
<g id="ytick_54">
<g id="line2d_56">
<g>
<use href="#m5d545ce8f8" x="47.88" y="484.920" style="stroke: #000000; stroke-width: 0.8"/>
</g>
</g>
<g id="text_78">
<text style="font-size: 10px; font-family: 'DejaVu Sans', 'Liberation Sans', sans-serif; text-anchor: end" x="40.88" y="488.846">550</text>
</g>
</g>
<g id="ytick_55">
<g id="line2d_57">
<g>
<use href="#m5d545ce8f8" x="47.88" y="492.120" style="stroke: #000000; stroke-width: 0.8"/>
</g>
</g>
<g id="text_79">
<text style="font-size: 10px; font-family: 'DejaVu Sans', 'Liberation Sans', sans-serif; text-anchor: end" x="40.88" y="495.665">600</text>
</g>
</g>
<g id="ytick_56">
<g id="line2d_58">
<g>
<use href="#m5d545ce8f8" x="47.88" y="498.600" style="stroke: #000000; stroke-width: 0.8"/>
</g>
</g>
<g id="text_80">
<text style="font-size: 10px; font-family: 'DejaVu Sans', 'Liberation Sans', sans-serif; text-anchor: end" x="40.88" y="502.483">650</text>
</g>
</g>
<g id="ytick_57">
<g id="line2d_59">
<g>
<use href="#m5d545ce8f8" x="47.88" y="505.800" style="stroke: #000000; stroke-width: 0.8"/>
</g>
</g>
<g id="text_81">
<text style="font-size: 10px; font-family: 'DejaVu Sans', 'Liberation Sans', sans-serif; text-anchor: end" x="40.88" y="509.302">700</text>
</g>
</g>
<g id="ytick_58">
<g id="line2d_60">
<g>
<use href="#m5d545ce8f8" x="47.88" y="512.280" style="stroke: #000000; stroke-width: 0.8"/>
</g>
</g>
<g id="text_82">
<text style="font-size: 10px; font-family: 'DejaVu Sans', 'Liberation Sans', sans-serif; text-anchor: end" x="40.88" y="516.121">750</text>
</g>
</g>
<g id="ytick_59">
<g id="line2d_61">
<g>
<use href="#m5d545ce8f8" x="47.88" y="519.480" style="stroke: #000000; stroke-width: 0.8"/>
</g>
</g>
<g id="text_83">
<text style="font-size: 10px; font-family: 'DejaVu Sans', 'Liberation Sans', sans-serif; text-anchor: end" x="40.88" y="522.940">800</text>
</g>
</g>
<g id="ytick_60">
<g id="line2d_62">
<g>
<use href="#m5d545ce8f8" x="47.88" y="525.960" style="stroke: #000000; stroke-width: 0.8"/>
</g>
</g>
<g id="text_84">
<text style="font-size: 10px; font-family: 'DejaVu Sans', 'Liberation Sans', sans-serif; text-anchor: end" x="40.88" y="529.759">850</text>
</g>
</g>
<g id="text_85">
<text style="font-size: 10px; font-family: 'DejaVu Sans', 'Liberation Sans', sans-serif; text-anchor: middle" x="14.212" y="468" transform="rotate(-90 14.212 468)">Depth (m)</text>
</g>
</g>
<g id="patch_24">
<path d="M47.88 525.96L47.88 410.04" style="fill: none; stroke: #000000; stroke-width: 0.8; stroke-linejoin: miter; stroke-linecap: square"/>
</g>
<g id="patch_25">
<path d="M542.52 525.96L542.52 410.04" style="fill: none; stroke: #000000; stroke-width: 0.8; stroke-linejoin: miter; stroke-linecap: square"/>
</g>
<g id="patch_26">
<path d="M47.88 525.96L542.52 525.96" style="fill: none; stroke: #000000; stroke-width: 0.8; stroke-linejoin: miter; stroke-linecap: square"/>
</g>
<g id="patch_27">
<path d="M47.88 410.04L542.52 410.04" style="fill: none; stroke: #000000; stroke-width: 0.8; stroke-linejoin: miter; stroke-linecap: square"/>
</g>
<g id="text_86">
<text style="font-weight: 700; font-size: 7px; font-family: 'DejaVu Sans', 'Liberation Sans', sans-serif; text-anchor: middle" x="538.823" y="442.519">9</text>
</g>
<g id="text_87">
<text style="font-weight: 700; font-size: 7px; font-family: 'DejaVu Sans', 'Liberation Sans', sans-serif; text-anchor: middle" x="534.286" y="455.748">8</text>
</g>
<g id="text_88">
<text style="font-weight: 700; font-size: 7px; font-family: 'DejaVu Sans', 'Liberation Sans', sans-serif; text-anchor: middle" x="533.752" y="468.976">7</text>
</g>
<g id="text_89">
<text style="font-weight: 700; font-size: 7px; font-family: 'DejaVu Sans', 'Liberation Sans', sans-serif; text-anchor: middle" x="533.752" y="476.341">6</text>
</g>
<g id="text_90">
<text style="font-weight: 700; font-size: 7px; font-family: 'DejaVu Sans', 'Liberation Sans', sans-serif; text-anchor: middle" x="533.752" y="482.614">5</text>
</g>
<g id="text_91">
<text style="font-weight: 700; font-size: 7px; font-family: 'DejaVu Sans', 'Liberation Sans', sans-serif; text-anchor: middle" x="533.752" y="489.569">4</text>
</g>
<g id="text_92">
<text style="font-weight: 700; font-size: 7px; font-family: 'DejaVu Sans', 'Liberation Sans', sans-serif; text-anchor: middle" x="533.752" y="496.388">3</text>
</g>
<g id="text_93">
<text style="font-weight: 700; font-size: 7px; font-family: 'DejaVu Sans', 'Liberation Sans', sans-serif; text-anchor: middle" x="533.752" y="516.845">2</text>
</g>
<g id="text_94">
<text style="font-weight: 700; font-size: 7px; font-family: 'DejaVu Sans', 'Liberation Sans', sans-serif; text-anchor: middle" x="533.752" y="524.073">1</text>
</g>
<g id="text_95">
<text style="font-weight: 700; font-size: 7px; font-family: 'DejaVu Sans', 'Liberation Sans', sans-serif; text-anchor: middle" x="533.752" y="531.437">0</text>
</g>
</g>
<g id="axes_6">
<g id="patch_28">
<path d="M573.48 525.96L579.24 525.96 579.24 410.04 573.48 410.04 573.48 525.96z" style="fill: none"/>
</g>
<g id="grad_haline">
<path d="M573.48 520.69L579.24 520.69 579.24 415.31 573.48 415.31z" clip-path="url(#pb9adc8fe9e)" style="fill: url(#lg_haline)"/>
</g>
<g id="patch_29">
<path d="M573.48 519.43L579.24 519.43 576.36 525.96z" style="fill: #2a186c"/>
</g>
<g id="patch_30">
<path d="M573.48 416.57L579.24 416.57 576.36 410.04z" style="fill: #fdef9a"/>
</g>
<g id="matplotlib.axis_11"/>
<g id="matplotlib.axis_12">
<g id="ytick_61">
<g id="line2d_63">
<g>
<use href="#m33c4ce201d" x="579.24" y="415.080" style="stroke: #000000; stroke-width: 0.8"/>
</g>
</g>
<g id="text_96">
<text style="font-size: 10px; font-family: 'DejaVu Sans', 'Liberation Sans', sans-serif; text-anchor: start" x="586.24" y="419.108">34.4</text>
</g>
</g>
<g id="ytick_62">
<g id="line2d_64">
<g>
<use href="#m33c4ce201d" x="579.24" y="468.360" style="stroke: #000000; stroke-width: 0.8"/>
</g>
</g>
<g id="text_97">
<text style="font-size: 10px; font-family: 'DejaVu Sans', 'Liberation Sans', sans-serif; text-anchor: start" x="586.24" y="471.799">34.1</text>
</g>
</g>
<g id="ytick_63">
<g id="line2d_65">
<g>
<use href="#m33c4ce201d" x="579.24" y="520.920" style="stroke: #000000; stroke-width: 0.8"/>
</g>
</g>
<g id="text_98">
<text style="font-size: 10px; font-family: 'DejaVu Sans', 'Liberation Sans', sans-serif; text-anchor: start" x="586.24" y="524.490">33.8</text>
</g>
</g>
<g id="text_99">
<text style="font-size: 9px; font-family: 'DejaVu Sans', 'Liberation Sans', sans-serif; text-anchor: middle" x="619.344" y="468" transform="rotate(-90 619.344 468)">Salinity</text>
</g>
</g>
<g id="patch_31">
<path d="M573.48 520.69L576.36 525.96 579.24 520.69 579.24 415.31 576.36 410.04 573.48 415.31 573.48 520.69z" style="fill: none; stroke: #000000; stroke-width: 0.8; stroke-linejoin: miter"/>
</g>
</g>
<g id="axes_7">
<g id="patch_32">
<path d="M47.88 659.16L542.52 659.16 542.52 543.24 47.88 543.24z" style="fill: #ffffff"/>
</g>
<g id="patch_33">
<path d="M52.55 543.24L52.55 569.15 54.55 606.79 59.09 606.79 59.09 652.07 64.56 652.07 64.56 655.34 70.57 655.34 70.57 657.11 79.97 657.11 87.98 655.61 93.52 655.89 97.99 659.16 106.93 659.16 111.93 654.39 116.94 654.93 122.88 658.61 137.89 658.89 150.83 653.84 156.84 653.84 163.78 657.39 172.72 657.39 177.79 655.89 184.73 655.89 192.67 658.61 215.95 658.89 221.36 659.16 223.69 658.48 226.03 659.16 286.75 659.16 294.09 656.98 301.43 659.16 530.55 659.16 530.55 615.52 537.02 615.52 537.02 543.24 52.55 543.24z" clip-path="url(#p28ceb86d69)" style="fill: none"/>
</g>
<g mask="url(#mk3)">
<path d="M48.55 543.24L542.52 543.24 542.52 659.16 47.88 659.16 47.88 543.24z" style="fill: #feeaad"/>

<path d="M48.55 543.24L542.52 543.24 542.52 659.16 47.88 659.16 47.88 543.24z" style="fill: #fde5a8"/>

<path d="M48.55 551.32L542.52 551.32 542.52 659.16 47.88 659.16 47.88 551.32z" style="fill: #fcdfa3"/>

<path d="M48.55 552.13L542.52 552.13 542.52 659.16 47.88 659.16 47.88 552.13z" style="fill: #fbd99d"/>

<path d="M48.55 552.37L542.52 552.37 542.52 659.16 47.88 659.16 47.88 552.37z" style="fill: #fad498"/>

<path d="M48.55 552.6L542.52 552.6 542.52 659.16 47.88 659.16 47.88 552.6z" style="fill: #face93"/>

<path d="M48.55 552.82L542.52 552.82 542.52 659.16 47.88 659.16 47.88 552.82z" style="fill: #f9c88d"/>

<path d="M48.55 553.06L542.52 553.06 542.52 659.16 47.88 659.16 47.88 553.06z" style="fill: #f8c289"/>

<path d="M48.55 553.32L542.52 553.32 542.52 659.16 47.88 659.16 47.88 553.32z" style="fill: #f7bd85"/>

<path d="M48.55 553.58L542.52 553.58 542.52 659.16 47.88 659.16 47.88 553.58z" style="fill: #f6b781"/>

<path d="M48.55 553.85L542.52 553.85 542.52 659.16 47.88 659.16 47.88 553.85z" style="fill: #f5b17d"/>

<path d="M48.55 554.12L542.52 554.12 542.52 659.16 47.88 659.16 47.88 554.12z" style="fill: #f4ab79"/>

<path d="M48.55 554.4L542.52 554.4 542.52 659.16 47.88 659.16 47.88 554.4z" style="fill: #f3a575"/>

<path d="M48.55 554.81L542.52 554.81 542.52 659.16 47.88 659.16 47.88 554.81z" style="fill: #f2a072"/>

<path d="M48.55 555.26L542.52 555.26 542.52 659.16 47.88 659.16 47.88 555.26z" style="fill: #f19a6f"/>

<path d="M48.55 555.72L542.52 555.72 542.52 659.16 47.88 659.16 47.88 555.72z" style="fill: #ef946d"/>

<path d="M48.55 556.18L542.52 556.18 542.52 659.16 47.88 659.16 47.88 556.18z" style="fill: #ee8e6a"/>

<path d="M48.55 556.73L542.52 556.73 542.52 659.16 47.88 659.16 47.88 556.73z" style="fill: #ec8867"/>

<path d="M48.55 557.45L542.52 557.45 542.52 659.16 47.88 659.16 47.88 557.45z" style="fill: #eb8265"/>

<path d="M48.55 558.18L542.52 558.18 542.52 659.16 47.88 659.16 47.88 558.18z" style="fill: #e97c62"/>

<path d="M48.55 559.2L542.52 559.2 542.52 659.16 47.88 659.16 47.88 559.2z" style="fill: #e77661"/>

<path d="M48.55 561.75L542.52 561.75 542.52 659.16 47.88 659.16 47.88 561.75z" style="fill: #e47160"/>

<path d="M48.55 564.57L542.52 564.57 542.52 659.16 47.88 659.16 47.88 564.57z" style="fill: #e26b5e"/>

<path d="M48.55 568.15L542.52 568.15 542.52 659.16 47.88 659.16 47.88 568.15z" style="fill: #df655d"/>

<path d="M48.55 569.68L542.52 569.68 542.52 659.16 47.88 659.16 47.88 569.68z" style="fill: #dd605b"/>

<path d="M48.55 571.09L542.52 571.09 542.52 659.16 47.88 659.16 47.88 571.09z" style="fill: #da5a5a"/>

<path d="M48.55 572.5L542.52 572.5 542.52 659.16 47.88 659.16 47.88 572.5z" style="fill: #d6565b"/>

<path d="M48.55 573.9L542.52 573.9 542.52 659.16 398.59 659.16 398.59 658.77 394.84 658.45 392.65 658.77 392.65 659.16 47.88 659.16 47.88 573.9z" style="fill: #d2515b"/>

<path d="M48.55 575.31L542.52 575.31 542.52 659.16 429.87 659.16 429.87 658.77 425.29 658.38 394.84 657.76 377.07 658.38 374.4 658.77 374.4 659.16 47.88 659.16 47.88 575.31z" style="fill: #ce4d5c"/>

<path d="M48.55 576.72L542.52 576.72 542.52 659.16 437.37 659.16 437.37 658.77 436.97 658.38 434.87 657.94 394.84 657.12 368.15 658.06 366.38 658.38 365.92 658.77 365.92 659.16 47.88 659.16 47.88 576.72z" style="fill: #ca485d"/>

<path d="M48.55 578L542.52 578 542.52 659.16 440.35 659.16 440.35 658.77 440 658.38 434.87 657.3 394.84 656.48 368.15 657.42 362.92 658.38 362.52 658.77 362.52 659.16 47.88 659.16 47.88 578z" style="fill: #c6445d"/>

<path d="M48.55 579.18L542.52 579.18 542.52 659.16 443.33 659.16 443.33 658.77 443.03 658.38 440.07 657.61 434.87 656.66 394.84 655.84 368.15 656.82 362.82 657.61 359.46 658.38 359.13 658.77 359.13 659.16 47.88 659.16 47.88 579.18z" style="fill: #c2405e"/>

<path d="M48.55 580.36L542.52 580.36 542.52 659.16 446.31 659.16 446.31 658.77 446.05 658.38 443.58 657.61 440.17 656.83 434.87 656.02 394.84 655.21 381.49 655.67 378.11 656.06 361.23 657.22 358.72 657.61 356 658.38 355.73 658.77 355.73 659.16 47.88 659.16 47.88 580.36z" style="fill: #bd3c5e"/>

<path d="M48.55 581.55L542.52 581.55 542.52 659.16 449.29 659.16 449.08 658.38 445.84 657.22 441.54 656.26 434.87 655.38 401.51 654.7 394.84 654.82 381.49 655.6 354.76 657.61 352.55 658.38 352.34 659.16 290.49 659.16 289.87 658.77 288.08 658.38 274.74 658.62 273.05 658.77 271.83 659.16 47.88 659.16 47.88 581.55z" style="fill: #b7395f"/>

<path d="M48.55 582.73L542.52 582.73 542.52 659.16 452.27 659.16 452.11 658.38 449.65 657.22 445.47 656.06 441.54 655.41 434.87 654.74 423.27 654.51 417.36 654.12 417.36 653.73 414.85 653.72 394.84 654.66 367.85 656.45 353.83 657.61 349.09 658.38 348.95 659.16 292.9 659.16 292.29 658.77 288.08 657.71 281.41 658.24 274.74 658.35 270.06 658.77 268.92 659.16 47.88 659.16 47.88 582.73z" style="fill: #b23660"/>

<path d="M48.55 583.92L542.52 583.92 542.52 659.16 455.24 659.16 455.14 658.38 454.11 657.61 452.7 656.83 450.63 656.06 447.28 655.28 440.98 654.51 439.46 654.12 439.46 652.96 434.87 652.64 394.84 654.51 368.15 656.35 348.88 658 345.93 658.38 345.63 658.77 345.63 659.16 295.14 659.16 294.72 658.77 288.08 657.09 281.41 657.78 274.74 658.07 268.06 658.67 267.17 658.77 266.22 659.16 47.88 659.16 47.88 583.92z" style="fill: #ad3361"/>

<path d="M48.55 585.29L542.52 585.29 542.52 659.16 458.22 659.16 458.17 658.38 457.63 657.61 455.78 656.06 454.01 655.28 450.69 654.51 449.88 654.12 449.88 652.57 441.54 652.48 434.87 652.49 394.84 654.43 366.03 656.45 342.88 658.38 342.34 658.77 342.34 659.16 296.83 659.16 294.75 658.07 292.51 657.22 290.95 656.83 288.08 656.47 282.66 656.83 277.84 657.61 268 658.38 264.48 658.77 263.59 659.16 47.88 659.16 47.88 585.29z" style="fill: #a72f62"/>

<path d="M48.55 586.71L542.52 586.71 542.52 659.16 461.2 659.16 460.94 656.06 460.31 654.12 460.31 652.57 459.45 652.18 454.89 652.16 434.87 652.41 394.84 654.35 329.99 659.16 298.52 659.16 296.2 658.38 295.67 658 294.75 656.62 288.08 655.9 281.41 655.96 279.74 656.45 279.22 656.83 277.6 657.22 261.78 658.77 261.01 659.16 47.88 659.16 47.88 586.71z" style="fill: #a22c62"/>

<path d="M48.55 588.13L542.52 588.13 542.52 659.16 470.73 659.16 470.73 652.96 468.23 652.12 461.56 652.07 434.87 652.33 394.84 654.28 368.15 656.15 348.13 657.78 326.17 659.16 300.2 659.16 297.3 658.38 296.65 658 296.31 656.83 296.02 656.45 294.75 655.96 288.08 655.37 281.41 655.3 279.61 655.67 276.69 656.83 274.74 657.17 261.39 658.49 259.3 658.77 258.62 659.16 47.88 659.16 47.88 588.13z" style="fill: #9d2a63"/>

<path d="M48.55 589.54L542.52 589.54 542.52 593.94 47.88 593.94 47.88 589.54zM48.55 594.55L542.52 594.55 542.52 659.16 481.16 659.16 481.16 653.34 475.89 652.96 475.03 652.57 469.85 652.18 468.23 651.85 434.87 652.24 394.84 654.2 348.13 657.7 323.97 659.16 301.92 659.16 298.4 658.38 297.64 658 297.57 656.45 296.87 655.67 288.19 654.9 281.41 654.7 276.18 654.9 276.77 655.28 276.45 655.67 275.24 656.45 273.99 656.83 261.39 658.14 256.84 658.77 256.24 659.16 47.88 659.16 47.88 594.55z" style="fill: #972863"/>

<path d="M48.55 590.75L542.52 590.75 542.52 593.78 47.88 593.78 47.88 590.75zM48.55 594.71L542.52 594.71 542.52 656.02 525.53 655.95 523.71 655.67 488.25 654.07 483.68 653.73 482.51 653.34 477.54 652.96 475.92 652.57 471.15 652.18 468.23 651.72 434.87 652.16 394.84 654.12 348.13 657.62 321.76 659.16 303.73 659.16 301.43 658.76 299.5 658.38 298.62 658 298.66 657.22 299.13 656.45 299.55 656.06 301.07 655.67 301.08 655.28 285.43 654.12 268.06 650.19 265.87 649.86 261.39 648.72 258.63 648.3 254.72 647.26 251.35 646.75 248.05 645.76 245.42 645.59 243.97 645.2 241.37 644.06 239.09 644.43 240.92 645.2 241.37 645.95 246.75 646.75 247.46 647.14 248.05 648.03 253.31 648.69 254.12 649.08 254.72 649.86 259.1 650.24 260.51 650.63 261.39 651.46 264.87 651.79 266.91 652.18 268.06 653.12 273.28 653.73 274.01 654.12 274.06 654.51 273.55 654.9 273.97 655.28 274.04 655.67 273.7 656.06 272.81 656.45 270.73 656.83 256.93 658.38 254.38 658.77 253.79 659.16 47.88 659.16 47.88 594.71zM227.94 640.94L228.03 641.54 228.36 641.33 228.03 640.9zM234.2 642.49L234 642.88 234.7 643.81 236.07 643.65 236.09 643.26 234.7 642.42z" style="fill: #922663"/>

<path d="M48.55 591.95L542.52 591.95 542.52 593.61 47.88 593.61 47.88 591.95zM48.55 594.85L542.52 594.85 542.52 655.91 528.14 655.85 488.25 653.91 468.23 651.63 434.87 652.08 394.84 654.04 348.13 657.54 319.98 659.16 305.54 659.16 300.6 658.38 299.61 658 299.82 657.22 300.68 656.45 302.26 655.67 302.57 655.28 302.47 654.9 301.43 654.34 294.75 653.53 291.2 652.57 288.08 652.11 285.52 651.41 281.41 650.73 278 649.86 274.74 649.33 272.39 648.69 268.06 647.92 265.12 647.14 261.39 646.48 248.05 643.53 244.61 642.49 241.37 641.81 231.01 639 212.64 634.74 189.16 628.14 174.65 624.37 172.2 623.88 167.98 622.63 166.16 622.33 161.31 620.89 158.44 620.39 154.64 619.16 152.19 618.84 147.96 617.45 145.96 617.29 144.22 616.9 141.29 615.74 139.5 615.74 138.17 616.13 140.58 616.9 141.29 617.82 145.96 618.45 147.1 618.84 147.96 619.89 152.5 620.39 153.64 620.78 154.64 621.94 159.09 622.33 160.21 622.72 161.31 623.9 165.71 624.27 166.8 624.66 167.98 625.85 172.35 626.21 173.4 626.59 174.65 627.77 179.01 628.14 180.02 628.53 181.32 629.64 185.67 630.08 186.64 630.47 188 631.52 192.35 632.02 193.28 632.41 194.67 633.42 199.19 633.96 200.04 634.35 200.87 635.12 201.34 635.31 205.92 635.9 206.7 636.29 207.5 637.06 208.01 637.24 210.6 637.45 212.49 637.84 213.26 638.22 214.1 639 214.69 639.18 217.28 639.39 219.09 639.78 220.87 640.94 224.14 641.33 225.78 641.71 227.66 642.88 230.97 643.26 232.47 643.65 234.46 644.82 237.79 645.2 239.16 645.59 241.26 646.75 244.58 647.14 245.86 647.53 247.05 648.3 248.05 648.69 251.42 649.08 254.72 650.36 257.42 650.63 258.99 651.02 261.39 651.97 265.43 652.57 268.06 653.59 271.85 654.12 272.47 654.51 272.23 654.9 272.63 655.28 272.53 655.67 271.8 656.06 268.06 656.77 254.72 658.32 251.85 658.77 251.22 659.16 47.88 659.16 47.88 594.85zM121.2 611.86L120.38 612.25 121.27 612.64 122.33 612.64 122.57 612.25 121.27 611.86zM125.19 613.02L127.95 613.86 128.86 613.8 129.28 613.41 127.95 612.68zM132.67 614.19L132.43 614.58 133.68 614.96 134.62 615.73 136.99 615.35 134.62 614.08z" style="fill: #8c2462"/>

<path d="M48.55 593.14L542.52 593.14 542.52 593.28 47.88 593.28 47.88 593.14zM48.55 594.97L542.52 594.97 542.52 655.8 530.1 655.79 488.25 653.75 468.23 651.53 434.87 651.99 394.84 653.97 348.13 657.45 318.26 659.16 307.35 659.16 301.43 658.29 300.59 658 300.97 657.22 302.36 656.06 304.53 654.9 308.1 654.56 309.62 653.73 314.85 653.34 316.3 652.57 321.65 652.18 322.99 651.41 328.45 651.02 329.69 650.24 335.25 649.86 335.59 649.47 336.38 649.08 341.98 648.69 342.24 648.3 343.08 647.92 348.13 647.62 348.57 647.53 349.24 646.75 354.8 646.3 355.61 645.59 356.96 645.2 361.48 644.94 361.89 644.82 362.1 644.43 362.74 644.04 368.15 643.72 368.5 643.65 369 642.88 374.82 642.33 375.44 641.71 376.4 641.33 381.49 641.03 381.81 640.94 381.96 640.55 382.41 640.16 388.16 639.83 388.42 639.78 388.77 639 390.49 638.61 394.84 638.3 394.96 638.22 394.84 637.88 341.46 637.85 274.74 637.24 241.37 636.43 234.7 636.09 228.03 635.42 221.36 634.28 218.97 633.57 214.69 632.79 212.48 632.02 208.01 631.02 205.54 630.08 201.34 629.01 198.46 627.76 192.59 625.82 188 625.09 185.6 624.27 181.32 623.54 178.93 622.72 174.65 621.94 172.43 621.17 167.98 620.29 164.6 619.23 161.31 618.62 158.37 617.68 154.64 616.93 150.66 615.74 147.96 615.22 136.96 612.25 130.17 610.7 101.26 606.53 94.59 605.99 87.91 605.77 85.72 606.05 84.5 606.43 84.21 606.82 84.87 607.6 86.94 607.98 87.91 608.55 92.55 609.15 94.59 609.78 98.71 610.31 101.26 610.95 103.16 611.09 107.93 611.99 110.96 612.25 114.6 613.01 118.36 613.41 119.7 613.8 130.67 615.35 132.22 615.74 134.62 616.71 138.48 617.29 141.29 618.61 143.5 618.84 145.19 619.23 147.96 620.52 150.34 620.78 151.9 621.17 154.64 622.42 157.17 622.72 158.61 623.1 160.03 623.88 161.31 624.32 163.98 624.66 165.32 625.04 166.7 625.82 167.98 626.22 170.78 626.59 174.65 628.12 177.56 628.53 181.32 630.02 184.34 630.47 188 631.92 191.11 632.41 194.67 633.82 197.95 634.35 201.34 635.71 204.73 636.29 208.01 637.61 211.42 638.22 213 639 214.69 639.52 218.15 640.16 219.79 640.94 221.36 641.41 224.91 642.1 227.87 643.26 230.32 643.65 234.7 645.21 237.14 645.59 240.23 646.75 243.95 647.53 248.05 649 250.79 649.47 254.72 650.67 256.98 651.02 261.39 652.28 263.34 652.57 268.06 653.89 269.68 654.12 270.89 654.51 270.92 654.9 271.29 655.28 271.01 655.67 268.06 656.42 254.16 658 249.32 658.77 248.66 659.16 47.88 659.16 47.88 594.97z" style="fill: #872362"/>

<path d="M48.55 595.09L542.52 595.08 542.52 655.69 530.1 655.68 488.25 653.64 468.23 651.44 434.87 651.91 394.84 653.89 348.13 657.37 316.55 659.16 308.1 659.07 302.87 658.38 301.56 658 301.81 657.22 302.53 656.45 304.96 655.28 308.1 654.75 311.39 653.73 314.77 653.49 318.19 652.57 321.44 652.35 325 651.41 328.11 651.21 331.83 650.24 334.79 650.06 338.68 649.08 341.46 648.92 342.75 648.69 343.41 648.3 345.56 647.92 348.13 647.77 349.26 647.53 349.75 647.14 351.03 646.75 354.8 646.48 357.03 645.59 361.48 645.16 362.66 644.82 363.26 644.43 365.16 644.04 369.18 643.65 369.63 643.26 370.77 642.88 374.82 642.58 376.84 641.71 381.49 641.24 382.57 640.94 383.11 640.55 384.79 640.16 389.11 639.78 389.51 639.39 390.52 639 395.14 638.61 396.22 637.84 397.85 637.45 402.03 637.06 402.35 636.29 408.18 635.93 408.32 635.9 408.18 635.44 348.13 635.44 318.42 634.74 295.89 633.96 279.7 633.18 262.46 632.02 250.33 630.86 241.37 629.7 234.39 628.53 227.28 626.98 220.7 625.04 202.74 607.6 202.47 607.21 201.89 603.33 194.67 603.17 107.93 603.16 81.24 602.9 67.9 603.17 47.88 603.17 47.88 595.09zM48.55 604.29L59.22 604.29 67.9 605.76 71.52 606.05 74.13 606.82 77.63 607.21 85.61 608.76 129.82 615.74 134.62 617.08 137.6 617.68 141.29 618.98 144.38 619.62 147.61 620.78 151.15 621.55 154.42 622.72 157.92 623.49 161.24 624.66 163.35 625.04 167.98 626.57 170.18 626.98 174.65 628.47 177.01 628.92 181.32 630.36 183.82 630.86 188 632.26 190.62 632.8 194.67 634.16 197.46 634.74 200.82 635.9 204.26 636.67 207.62 637.84 211 638.61 214.43 639.78 216.42 640.16 221.27 641.71 223.27 642.1 228.03 643.63 230.1 644.04 234.7 645.53 236.93 645.98 247.18 649.08 269.3 654.51 269.96 655.28 269.49 655.67 268.06 656.04 254.72 657.49 246.71 658.77 246.07 659.16 47.88 659.16 47.88 604.29z" style="fill: #812162"/>

<path d="M48.55 595.2L542.52 595.2 542.52 655.58 530.1 655.57 488.25 653.54 468.23 651.34 434.87 651.83 394.84 653.81 348.13 657.29 314.84 659.16 308.1 658.9 304.01 658.38 302.44 658 302.43 657.22 303.25 656.45 306.16 655.28 308.1 654.95 310.92 654.12 323.16 652.18 324.37 651.79 329.96 651.02 331.11 650.63 336.76 649.86 337.84 649.47 341.46 649.05 343.52 648.69 344.59 648.3 348.13 647.91 349.95 647.53 350.75 647.14 356.06 646.37 358.44 645.59 361.48 645.31 364.43 644.43 368.15 644.01 372.55 642.88 375.95 642.49 378.24 641.71 381.49 641.41 384.27 640.55 388.16 640.1 392.27 639 395.81 638.61 397.63 637.84 401.51 637.45 402.82 637.06 403.31 636.67 404.79 636.29 409.04 635.9 409.79 635.12 414.85 634.65 415.28 634.35 415.35 633.57 415.89 633.18 414.85 633 348.13 633 321.44 631.92 301.43 630.79 281.41 629.22 264.94 627.37 252.62 625.43 250.67 625.04 232.72 607.6 232.92 607.21 234.7 606.75 242.37 605.27 251.59 604.11 260.59 603.33 241.37 602.81 194.67 602.09 47.88 602.09 47.88 595.2zM48.55 604.9L59.22 604.9 101.26 611.72 127.95 615.81 137.24 618.06 140.81 619.23 156.37 623.49 159.94 624.66 163.2 625.43 166.74 626.59 170.02 627.37 173.56 628.53 176.84 629.31 180.38 630.47 183.65 631.25 187.22 632.41 202.8 636.67 206.39 637.84 216.45 640.55 219.99 641.71 223.28 642.49 226.82 643.65 230.1 644.43 233.65 645.59 236.92 646.37 247.35 649.47 265.14 653.73 267.71 654.51 268.62 655.28 268.06 655.62 254.72 657.05 244.04 658.77 243.46 659.16 47.88 659.16 47.88 604.9z" style="fill: #7c1f62"/>

<path d="M48.55 595.28L542.52 595.27 542.52 655.48 530.1 655.47 488.25 653.43 468.23 651.25 434.87 651.74 394.84 653.73 348.13 657.21 314.77 659.07 308.1 658.75 305.16 658.38 303.32 658 303 657.61 303.06 657.22 303.39 656.83 304.79 656.06 311.9 654.12 337.52 649.86 338.97 649.47 342.06 649.08 345.76 648.3 348.13 648.04 351.74 647.14 354.8 646.74 359.85 645.59 362.7 645.2 365.59 644.43 368.15 644.14 371.61 643.26 374.82 642.84 379.64 641.71 382.59 641.33 385.43 640.55 388.16 640.24 390.48 639.78 391.48 639.39 394.84 638.94 399.04 637.84 402.2 637.45 404.5 636.67 409.76 635.9 410.3 635.51 411.64 635.12 414.85 634.86 415.39 634.74 416.44 633.96 417.47 633.57 421.91 633.18 423.01 632.02 428.2 631.68 428.4 631.63 428.45 631.25 428.2 630.56 348.13 630.56 328.11 629.45 309.84 628.14 293.29 626.59 280.65 625.04 262.69 607.6 263.36 607.21 274.74 605.93 287.84 604.88 301.43 604.09 319.29 603.33 308.1 602.79 274.74 602.02 201.34 601.11 47.88 601.05 47.88 595.28zM48.55 605.38L59.22 605.38 129.56 616.51 135.85 618.06 139.36 619.23 144.06 620.39 146.17 621.17 150.91 622.33 153 623.1 157.74 624.27 159.83 625.04 163.18 625.82 166.7 626.98 176.88 629.7 179.02 630.47 183.74 631.63 185.83 632.41 190.6 633.57 192.65 634.35 196.07 635.12 199.5 636.29 204.29 637.45 206.32 638.22 209.72 639 213.18 640.16 215.14 640.55 220.06 642.1 223.44 642.88 225.52 643.65 230.3 644.82 232.33 645.59 237.16 646.75 239.15 647.53 244.02 648.69 245.98 649.47 257.53 652.18 260.18 652.96 263.98 653.73 266.11 654.51 266.23 654.9 266.04 655.28 253.02 656.83 243.3 658.38 241.36 658.77 240.85 659.16 47.88 659.16 47.88 605.38z" style="fill: #761e60"/>

<path d="M48.55 595.36L542.52 595.35 542.52 655.38 530.1 655.37 488.25 653.33 468.23 651.16 434.87 651.66 394.84 653.65 348.13 657.13 314.77 658.97 308.1 658.6 304.21 658 303.68 657.61 303.68 657.22 304.05 656.83 305.59 656.06 311.18 654.51 348.13 648.17 372.6 643.26 389.23 640.16 392.47 639.39 397.17 638.61 398.43 638.22 402.9 637.45 405.69 636.67 410.48 635.9 411.34 635.51 414.85 635.01 416.03 634.74 417.59 633.96 422.57 633.18 423.74 632.41 425.47 632.02 429.08 631.63 429.76 630.86 431.01 630.47 434.87 630.23 435.45 630.08 435.62 629.31 436.03 628.92 441.67 628.53 441.54 628.12 348.13 628.12 328.11 626.68 310.62 625.04 292.66 607.6 293.81 607.21 294.75 607.13 315.44 605.66 366.16 603.33 364.35 602.94 348.13 601.6 321.44 601.01 292.1 600.62 194.67 600.02 47.88 600.02 47.88 595.36zM48.55 605.79L59.22 605.79 127.95 616.47 129.89 616.9 132.16 617.68 136.02 618.45 139.16 619.62 142.89 620.39 146.05 621.55 149.76 622.33 151.49 623.1 156.61 624.27 158.3 625.04 162.01 625.82 165.12 626.98 168.88 627.76 171.97 628.92 175.76 629.7 178.82 630.86 182.63 631.63 185.69 632.8 189.51 633.57 192.58 634.74 196.39 635.51 198.05 636.29 203.21 637.45 204.85 638.22 208.63 639 211.67 640.16 215.5 640.94 218.52 642.1 222.38 642.88 225.37 644.04 229.26 644.82 232.24 645.98 236.14 646.75 239.13 647.92 243.01 648.69 244.6 649.47 250.04 650.63 252.11 651.41 256.37 652.18 258.53 652.96 262.82 653.73 264.51 654.51 264 654.9 262.58 655.28 252.31 656.45 242.41 658 238.69 658.77 238.25 659.16 47.88 659.16 47.88 605.79z" style="fill: #701d5e"/>

<path d="M48.55 595.44L542.52 595.43 542.52 655.28 530.1 655.27 488.25 653.23 468.23 651.06 441.54 651.47 434.87 651.58 394.84 653.57 348.13 657.04 314.77 658.88 308.1 658.46 305.09 658 304.36 657.61 304.31 657.22 305.42 656.45 310.23 654.9 313.87 654.12 348.13 648.3 397.85 638.61 411.21 635.9 412.38 635.51 414.85 635.16 416.66 634.74 418.73 633.96 423.22 633.18 424.99 632.41 429.76 631.63 431.15 630.86 434.87 630.41 436.17 630.08 437.17 629.31 441.54 628.79 442.45 628.53 443.02 627.76 444.58 627.37 448.66 626.98 448.54 625.82 448.21 625.68 348.13 625.68 340.59 625.04 322.64 607.6 324.26 607.21 337.17 606.43 401.61 603.33 399.79 602.94 371.72 600.62 360 599.46 348.13 598.98 47.88 598.98 47.88 595.44zM48.55 606.16L59.22 606.16 81.24 609.58 85 610.31 88.43 610.7 92.45 611.47 95.89 611.86 97.4 612.25 101.26 612.72 104.8 613.41 108.47 613.8 112.58 614.58 116.1 614.96 117.57 615.35 128.53 616.9 130.33 617.68 131.88 618.06 134.83 618.45 137.38 619.62 141.73 620.39 144.22 621.55 148.62 622.33 151.07 623.49 155.47 624.27 156.76 625.04 157.93 625.43 162.21 626.21 163.55 626.98 164.82 627.37 167.98 627.84 168.95 628.14 170.35 628.92 171.72 629.31 174.65 629.7 177.16 630.86 178.66 631.25 181.52 631.63 183.99 632.8 188.42 633.57 190.82 634.74 195.31 635.51 196.61 636.29 197.68 636.67 202.14 637.45 203.38 638.22 204.54 638.61 208.01 639.14 208.87 639.39 210.17 640.16 211.42 640.55 214.69 641.02 216.97 642.1 218.33 642.49 221.36 642.89 223.78 644.04 225.27 644.43 228.22 644.82 230.6 645.98 235.11 646.75 237.43 647.92 242 648.69 243.23 649.47 244.28 649.86 248.9 650.63 250.42 651.41 252.1 651.79 255.21 652.18 256.89 652.96 258.43 653.34 261.66 653.73 262.62 654.12 262.91 654.51 261.39 654.98 251.36 656.06 241.31 657.61 236.02 658.77 235.64 659.16 47.88 659.16 47.88 606.16z" style="fill: #6b1c5d"/>

<path d="M48.55 595.52L542.52 595.5 542.52 655.17 530.1 655.17 488.25 653.13 468.23 650.97 448.21 651.28 434.87 651.49 394.84 653.49 348.13 656.96 314.77 658.78 308.1 658.32 305.97 658 305.04 657.61 304.93 657.22 306.15 656.45 310.88 654.9 348.13 648.43 414.85 635.31 419.87 633.96 423.88 633.18 426.25 632.41 430.44 631.63 432.54 630.86 434.87 630.58 436.89 630.08 437.48 629.7 438.72 629.31 441.86 628.92 443.22 628.53 443.7 628.14 444.76 627.76 448.34 627.37 449.49 626.98 449.83 626.59 450.6 626.21 454.89 625.77 455.7 625.43 455.85 625.04 456.51 624.66 461.56 624.2 463.23 623.1 468.3 622.72 469.17 621.94 469.95 621.55 475.16 621.17 475.82 620.39 476.69 620 481.58 619.71 481.91 619.62 482.37 618.45 483.07 618.06 488.46 617.68 488.71 616.51 488.66 616.13 488.25 615.78 461.56 615.78 428.2 615.37 408.18 614.94 388.16 614.17 377.3 613.41 370.16 612.64 365.22 611.86 360.13 610.7 356.66 609.54 354.37 608.37 353.43 607.6 355.79 607.21 437.06 603.33 435.24 602.94 407.17 600.62 405.51 600.23 404.02 599.46 400.44 599.07 386.02 598.68 348.13 598.46 47.88 598.46 47.88 595.52zM48.55 606.62L59.22 606.62 61.22 606.81 68.23 607.98 69.25 608.37 74.57 609.01 76.41 609.54 80.81 609.92 83.89 610.7 87.91 611.08 88.95 611.47 94.59 612.19 96.14 612.64 99.81 613.02 103.79 613.8 114.6 615.27 116.36 615.74 120.15 616.13 124.37 616.9 127.95 617.3 129.43 618.06 134.62 618.93 135.6 619.62 136.62 620 141.29 620.81 142.38 621.55 143.5 621.94 147.96 622.7 149.17 623.49 150.4 623.88 154.64 624.57 155.97 625.43 157.34 625.82 161.31 626.46 162.78 627.37 167.98 628.34 169.6 629.31 174.65 630.22 175.51 630.86 176.43 631.25 181.32 632.1 182.28 632.8 183.29 633.18 188 633.98 189.06 634.74 190.17 635.12 194.67 635.87 195.85 636.67 197.08 637.06 201.34 637.75 202.64 638.61 204.02 639 208.01 639.63 209.45 640.55 214.69 641.51 216.27 642.49 221.36 643.39 222.19 644.04 223.1 644.43 228.03 645.27 228.96 645.98 229.96 646.37 234.7 647.15 235.73 647.92 236.84 648.3 241.37 649.04 242.52 649.86 243.75 650.24 248.05 650.92 249.7 651.79 254.72 652.57 256.13 653.34 261.15 654.12 261.11 654.51 250.1 655.67 237.67 657.61 233.34 658.77 233.03 659.16 47.88 659.16 47.88 606.62z" style="fill: #651b5b"/>

<path d="M48.55 595.61L542.52 595.58 542.52 655.07 530.1 655.06 488.25 653.03 468.23 650.87 461.56 650.98 434.87 651.41 394.84 653.41 348.13 656.88 314.77 658.69 308.1 658.19 305.72 657.61 305.56 657.22 306.01 656.83 308.94 655.67 311.54 654.9 348.13 648.56 414.85 635.46 431.12 631.63 432.08 631.25 436.04 630.47 438.46 629.7 442.58 628.92 444.77 628.14 449.1 627.37 451 626.59 452.56 626.21 455.58 625.82 457.14 625.04 458.72 624.66 461.56 624.42 463.88 623.49 465.67 623.1 469.1 622.72 470.62 621.94 475.96 621.17 477.38 620.39 481.58 619.9 482.53 619.62 483.15 618.84 483.89 618.45 486.01 618.06 488.25 617.92 489.09 617.68 490.21 616.51 491.52 616.13 495.38 615.74 495.84 614.19 497.76 613.8 494.92 613.43 461.56 613.43 428.2 612.15 411.63 611.09 399.36 609.92 390.6 608.76 388.87 607.6 391.23 607.21 461.56 603.85 534.68 603.85 536.08 603.72 539.33 602.94 539.91 602.61 540.66 602.56 540.56 602.19 461.56 602.19 442.61 600.62 442.93 600.23 448.04 599.46 448.72 599.07 439.48 598.68 348.13 598.17 47.88 598.17 47.88 595.61zM48.55 608L59.22 608 127.95 618.61 134.62 620.24 244.98 651.41 255.63 654.12 255.46 654.51 248.05 655.34 235.76 657.22 231.57 658.38 230.67 658.77 230.43 659.16 47.88 659.16 47.88 608z" style="fill: #5f1a59"/>

<path d="M48.55 595.71L542.52 595.68 542.52 598.46 461.56 598.46 348.13 597.91 47.88 597.91 47.88 595.71zM541.87 602.42L542.52 602.26 542.52 654.97 530.1 654.96 488.25 652.92 468.23 650.78 434.87 651.33 394.84 653.33 348.13 656.8 314.77 658.59 307.73 658 306.4 657.61 306.18 657.22 306.66 656.83 309.47 655.67 314.09 654.51 348.13 648.69 414.85 635.6 436.74 630.47 439.45 629.7 443.31 628.92 445.85 628.14 449.85 627.37 452.18 626.59 456.37 625.82 458.43 625.04 461.56 624.6 465.25 623.49 469.91 622.72 472.08 621.94 476.77 621.17 478.93 620.39 481.58 620.08 483.15 619.62 484.17 618.84 485.41 618.45 488.25 618.11 489.71 617.68 490.74 616.9 491.71 616.51 494.92 616.09 496.03 615.74 497.21 614.58 498.72 614.19 502.13 613.8 502.65 612.64 503.04 612.25 508.26 611.7 508.41 611.47 508.26 611.08 461.56 611.08 441.54 609.96 426.3 608.76 425.26 608.37 424.32 607.6 426.68 607.21 461.56 605.55 528.8 605.55 533.37 604.59 541.46 602.56zM48.55 608.42L59.22 608.42 64.56 610.35 65.9 610.66 127.95 620.13 134.62 621.75 249.54 654.12 249.48 654.51 241.37 655.81 233.25 656.83 229.42 658 227.99 658.77 227.82 659.16 47.88 659.16 47.88 608.42z" style="fill: #5a1957"/>

<path d="M48.55 595.81L542.52 595.77 542.52 598.12 461.56 598.12 348.13 597.64 47.88 597.64 47.88 595.81zM542.52 602.47L542.52 654.87 530.1 654.86 488.25 652.82 468.23 650.69 434.87 651.24 394.84 653.25 348.13 656.71 314.77 658.5 308.76 658 307.07 657.61 306.8 657.22 307.32 656.83 310 655.67 312.84 654.9 348.13 648.82 414.85 635.75 457.15 625.82 459.72 625.04 461.56 624.78 466.61 623.49 468.23 623.28 473.54 621.94 477.58 621.17 478.65 620.78 481.58 620.26 483.77 619.62 485.19 618.84 488.25 618.29 490.33 617.68 491.75 616.9 494.92 616.29 496.67 615.74 497.7 614.96 498.76 614.58 501.59 614.19 502.82 613.8 504.25 612.64 508.91 611.86 509.65 610.7 510.26 610.31 514.94 609.9 515.25 609.54 514.94 608.63 461.56 608.63 460.71 608.37 459.77 607.6 461.56 607.3 522.26 607.3 523.59 607.21 542.22 602.56zM48.55 608.82L59.22 608.82 67.9 612.04 72.55 612.64 74.57 613.58 127.95 621.71 134.62 623.34 243.76 654.12 243.91 654.51 241.37 654.95 231.74 656.06 229.79 656.45 228.03 656.99 226.75 657.61 225.32 658.77 225.22 659.16 47.88 659.16 47.88 608.82z" style="fill: #551855"/>

<path d="M48.55 595.92L542.52 595.87 542.52 597.8 461.56 597.8 348.13 597.31 47.88 597.31 47.88 595.92zM541.87 602.87L542.52 602.69 542.52 654.77 530.1 654.76 488.25 652.72 468.23 650.59 434.87 651.16 394.84 653.17 348.13 656.63 314.77 658.4 309.89 658 307.75 657.61 307.43 657.22 310.53 655.67 313.5 654.9 348.13 648.95 414.85 635.89 459.3 625.43 481.58 620.45 484.39 619.62 486.22 618.84 488.25 618.48 490.95 617.68 492.75 616.9 494.92 616.49 497.32 615.74 498.74 614.96 501.59 614.4 503.5 613.8 504.68 613.02 505.84 612.64 508.26 612.3 509.63 611.86 511.32 610.7 515.7 609.92 516.69 608.76 517.88 608.37 521.61 608.07 530.1 605.76 541.6 602.94zM48.55 609.24L59.22 609.24 67.9 612.48 71.05 613.02 72.21 613.41 74.57 614.86 78.86 615.35 81.24 616.2 127.95 623.31 132.84 624.66 134.62 624.93 138.34 626.21 143.25 627.37 145.17 628.14 150.13 629.31 152.01 630.08 157 631.25 158.88 632.02 161.31 632.46 163.87 633.18 165.76 633.96 167.98 634.34 170.72 635.12 172.66 635.9 174.65 636.23 179.59 637.84 183.12 638.61 185.07 639.39 189.99 640.55 191.9 641.33 196.86 642.49 198.75 643.26 203.73 644.43 205.61 645.2 208.01 645.63 210.61 646.37 212.5 647.14 214.69 647.52 219.4 649.08 221.36 649.4 226.33 651.02 229.85 651.79 231.79 652.57 236.72 653.73 237.73 654.12 237.31 654.51 228.03 655.23 225.74 655.67 224.73 656.06 223.34 657.22 222.77 658.38 222.61 659.16 47.88 659.16 47.88 609.24z" style="fill: #501752"/>

<path d="M461.56 595.97L542.52 595.97 542.52 597.47 461.56 597.47 396.79 597.13 421.53 596.43 459.47 595.97zM542.52 602.9L542.52 654.66 530.1 654.66 488.25 652.62 468.23 650.5 434.87 651.08 394.84 653.09 348.13 656.55 314.77 658.31 308.51 657.61 308.05 657.22 311.06 655.67 314.15 654.9 348.13 649.08 414.85 636.03 460.2 625.43 481.58 620.63 485.86 619.23 495.48 616.51 499.79 614.96 504.19 613.8 505.77 613.02 508.26 612.52 510.36 611.86 511.7 611.09 516.48 609.92 518.43 608.76 521.61 608.31 530.1 605.96 542.35 602.94zM48.55 609.67L59.22 609.67 67.9 612.93 71.19 613.8 73.38 614.96 74.57 615.37 78.42 616.13 80.04 616.9 80.42 617.68 81.24 618.09 84.6 618.45 85.76 618.84 86.65 619.62 87.34 620.78 87.91 621.03 91.87 621.55 93.14 622.33 93.74 623.49 94.59 623.98 97.58 624.27 98.96 624.66 99.94 625.43 100.52 626.59 101.26 626.92 104.98 627.37 105.93 627.76 106.72 628.53 107.06 629.31 107.93 629.86 110.47 630.08 112.13 630.47 113.23 631.25 113.78 632.41 114.58 632.8 118.03 633.18 119.15 633.57 120.02 634.35 120.73 635.51 121.27 635.75 125.28 636.29 126.52 637.06 127.1 638.22 127.95 638.69 131.03 639 132.35 639.39 133.31 640.16 133.92 641.33 134.62 641.64 138.39 642.1 139.32 642.49 140.09 643.26 140.43 644.04 141.29 644.58 143.94 644.82 145.53 645.2 146.61 645.98 147.15 647.14 147.96 647.52 151.46 647.92 152.54 648.3 153.39 649.08 153.75 649.86 154.64 650.43 157.07 650.63 158.8 651.02 159.93 651.79 160.58 652.96 161.31 653.27 165.08 653.73 166.01 654.12 166.78 654.9 167.12 655.67 167.98 656.11 171.22 656.45 172.45 656.83 173.03 657.22 173.99 658.38 174.65 658.64 178.61 659.16 89.31 659.16 89.31 653.73 87.91 653.42 47.88 653.42 47.88 609.67z" style="fill: #4c1650"/>

<path d="M541.87 603.28L542.52 603.1 542.52 654.56 530.1 654.55 488.25 652.52 468.23 650.4 434.87 651 394.84 653.01 348.13 656.46 314.77 658.21 309.36 657.61 308.76 657.22 310.56 656.06 314.77 654.9 348.84 649.08 414.85 636.18 481.58 620.81 496.13 616.51 504.87 613.8 506.86 613.02 508.63 612.64 511.09 611.86 512.84 611.09 517.26 609.92 518.76 609.15 521.61 608.56 530.1 606.17 541.66 603.33zM48.55 610.11L59.22 610.11 70.41 614.19 73.06 615.35 76.93 616.51 77.9 616.9 78.83 617.68 81.24 618.78 84.21 619.62 85.78 620.78 87.91 621.72 90.37 622.33 92.81 623.88 94.59 624.66 97.41 625.43 98.96 626.59 101.26 627.61 103.52 628.14 104.39 628.53 105.99 629.7 107.93 630.55 110.6 631.25 112.2 632.41 114.6 633.49 117.6 634.35 119.17 635.51 121.27 636.44 123.77 637.06 124.56 637.45 125.49 638.22 127.95 639.38 130.8 640.16 132.36 641.33 134.62 642.32 136.93 642.88 137.78 643.26 139.39 644.43 141.29 645.27 143.99 645.98 145.58 647.14 147.96 648.21 150.07 648.69 150.99 649.08 152.64 650.24 154.64 651.11 157.27 651.79 158.97 652.96 161.31 653.95 163.62 654.51 166.25 656.06 167.98 656.8 169.91 657.22 172.17 658.38 174.22 659.16 92 659.16 92 653.73 87.91 652.87 47.88 652.87 47.88 610.11z" style="fill: #48154d"/>

<path d="M542.52 603.3L542.52 654.46 530.1 654.45 488.25 652.41 468.23 650.31 434.87 650.91 394.84 652.93 348.13 656.38 314.77 658.12 310.21 657.61 309.48 657.22 311.06 656.06 314.77 655.03 349.55 649.08 415.05 636.29 481.58 620.99 495.61 616.9 518.04 609.92 519.96 609.15 530.1 606.38 542.41 603.33zM48.55 610.57L59.22 610.57 75.76 616.9 78.07 618.06 82.82 620 84.22 620.78 89.83 623.1 94.59 625.35 96 625.82 97.4 626.59 103.03 628.92 104.43 629.7 109.17 631.63 114.6 634.18 116.22 634.74 117.62 635.51 123.22 637.84 127.95 640.07 129.4 640.55 134.62 643.01 136.42 643.65 141.29 645.95 142.57 646.37 147.96 648.9 149.62 649.47 151.06 650.24 167.98 657.48 172.4 659.16 94.69 659.16 94.69 653.73 87.91 652.32 47.88 652.32 47.88 610.57z" style="fill: #43144b"/>

<path d="M541.87 603.66L542.52 603.5 542.52 654.36 530.1 654.35 488.25 652.31 468.23 650.22 434.87 650.83 394.84 652.85 348.13 656.29 314.77 658.02 311.06 657.61 310.19 657.22 311.56 656.06 314.77 655.16 350.26 649.08 415.93 636.29 481.63 621.17 496.42 616.9 526.49 607.6 541.62 603.72zM48.55 611.05L59.22 611.05 68.35 614.58 147.96 649.59 170.59 659.16 97.38 659.16 97.38 653.73 94.59 652.94 90.71 652.18 87.91 651.77 47.88 651.77 47.88 611.05z" style="fill: #3f1348"/>

<path d="M542.52 603.69L542.52 654.26 530.1 654.25 488.25 652.21 468.23 650.12 434.87 650.75 394.84 652.77 348.13 656.21 314.77 657.93 311.9 657.61 310.91 657.22 312.06 656.06 314.77 655.29 349.18 649.47 416.8 636.29 419.62 635.51 482.66 621.17 494.92 617.43 497.23 616.9 499.26 616.13 503.57 614.96 505.65 614.19 527.3 607.6 542.38 603.72zM48.55 611.55L59.22 611.55 67.9 614.95 147.96 650.27 168.78 659.16 100.07 659.16 100.07 653.73 96.25 652.57 92.24 651.79 87.91 651.22 47.88 651.22 47.88 611.55z" style="fill: #3b1246"/>

<path d="M541.87 604.05L542.52 603.88 542.52 654.15 530.1 654.15 488.25 652.11 468.23 650.03 434.87 650.66 394.84 652.69 348.13 656.12 314.77 657.84 312.75 657.61 311.62 657.22 312.56 656.06 314.77 655.41 350.22 649.47 353.46 648.69 364.14 646.75 365.42 646.37 370.15 645.59 373.4 644.82 417.68 636.29 420.24 635.51 424.4 634.74 427.05 633.96 431.12 633.18 432.14 632.8 442.9 630.47 466.02 625.04 483.7 621.17 485.5 620.39 488.25 619.57 490.26 619.23 494.92 617.61 496.81 617.29 499.9 616.13 504.44 614.96 506.32 614.19 510.81 613.02 512.73 612.25 517.14 611.09 519.11 610.31 528.12 607.6 541.63 604.11zM48.55 612.08L59.22 612.08 65.48 614.58 147.96 650.96 167.08 659.16 102.76 659.16 102.76 653.73 99.65 652.57 94.14 651.41 87.91 650.67 47.88 650.67 47.88 612.08z" style="fill: #391144"/>

<path d="M542.52 604.08L542.52 654.05 530.1 654.04 488.25 652.01 468.23 649.93 434.87 650.57 394.84 652.61 347.74 656.06 314.77 657.74 312.34 657.22 313.06 656.06 314.77 655.54 317.26 655.28 320.84 654.51 324.08 654.12 327.67 653.34 330.89 652.96 332.22 652.57 351.26 649.47 354.12 648.69 357.25 648.3 360.11 647.53 365.05 646.75 368.15 645.97 371.21 645.59 374.07 644.82 377.18 644.43 380.06 643.65 385.01 642.88 386.04 642.49 388.16 642.08 391.16 641.71 394.03 640.94 397.11 640.55 400.01 639.78 404.98 639 405.99 638.61 408.18 638.18 411.05 637.84 414.85 636.88 416.86 636.67 420.87 635.51 423.72 635.12 427.69 633.96 430.54 633.57 432.81 632.8 437.34 632.02 439.62 631.25 444.11 630.47 446.43 629.7 450.86 628.92 453.24 628.14 457.59 627.37 461.56 626.25 464.31 625.82 466.82 625.04 471.08 624.27 473.71 623.49 484.73 621.17 486.13 620.39 488.25 619.76 491.32 619.23 492.77 618.45 494.92 617.79 497.9 617.29 500.54 616.13 504.32 615.35 507 614.19 510.66 613.41 513.45 612.25 516.95 611.47 519.87 610.31 525.53 608.6 530.29 607.21 542.4 604.11zM48.55 612.64L59.22 612.64 147.34 651.41 165.46 659.16 105.45 659.16 105.45 653.73 104 652.96 101.91 652.18 96.58 651.02 87.91 650.12 47.88 650.12 47.88 612.64z" style="fill: #371143"/>

<path d="M541.87 604.45L542.52 604.28 542.52 653.95 530.1 653.94 488.25 651.9 468.23 649.83 434.87 650.47 393.75 652.57 345.89 656.06 314.77 657.65 313.05 657.22 313.57 656.06 314.77 655.67 318.49 655.28 321.44 654.54 325.27 654.12 326.26 653.73 328.11 653.4 332.04 652.96 332.97 652.57 338.8 651.79 339.8 651.41 343.14 651.02 348.13 649.99 352.3 649.47 353.1 649.08 354.8 648.69 358.49 648.3 361.48 647.39 364.46 647.14 368.15 646.1 372.27 645.59 373.09 645.2 374.82 644.8 378.45 644.43 381.49 643.5 384.38 643.26 388.16 642.21 392.24 641.71 393.08 641.33 394.84 640.91 398.4 640.55 401.51 639.62 404.31 639.39 408.18 638.32 412.17 637.84 414.85 637.01 418.23 636.67 419.43 636.29 419.98 635.9 421.53 635.5 425.03 635.12 426.13 634.74 426.65 634.35 428.2 633.99 431.81 633.57 433.47 632.8 438.57 632.02 440.31 631.25 445.32 630.47 447.15 629.7 448.21 629.45 452.05 628.92 453.98 628.14 458.76 627.37 460.8 626.59 463.81 626.21 467.62 625.04 470.68 624.66 474.9 623.4 477.63 623.1 479.68 622.33 481.58 621.9 484.54 621.55 485.77 621.17 486.75 620.39 488.03 620 491.09 619.62 492.38 619.23 493.4 618.45 494.62 618.06 497.62 617.68 498.99 617.29 500.03 616.51 501.59 616 504.02 615.74 505.48 615.35 506.59 614.58 508.26 614.01 511.92 613.41 513.13 612.64 514.17 612.25 518.32 611.47 520.64 610.31 525.53 608.84 541.68 604.5zM48.55 613.23L59.22 613.23 71.16 618.45 72.52 619.23 78.19 621.55 79.52 622.33 81.24 622.9 86.58 625.43 91.37 627.37 92.71 628.14 97.52 630.08 99.74 631.25 101.26 631.73 105.91 633.96 111.58 636.29 112.92 637.06 114.6 637.62 119.98 640.16 124.77 642.1 126.11 642.88 130.92 644.82 133.14 645.98 134.62 646.45 139.31 648.69 144.98 651.02 146.32 651.79 147.96 652.33 153.49 654.9 163.85 659.16 108.15 659.16 108.15 653.73 106.45 652.57 104.66 651.79 99.81 650.63 94.59 650.01 87.91 649.57 47.88 649.57 47.88 613.23z" style="fill: #351142"/>

<path d="M542.52 604.48L542.52 653.85 530.1 653.84 488.25 651.8 486.09 651.41 480.64 651.02 478.88 650.63 474.9 650.4 471.27 649.86 468.23 649.68 434.87 650.38 391.43 652.57 381.49 653.43 344.04 656.06 314.77 657.49 313.77 657.22 314.07 656.06 314.77 655.83 317.55 655.67 319.72 655.28 320.34 654.9 321.44 654.69 324.53 654.51 326.45 654.12 327.03 653.73 328.11 653.54 331.46 653.34 334.79 652.39 338.35 652.18 341.46 651.25 345.22 651.02 348.13 650.11 352.06 649.86 353.34 649.47 353.81 649.08 354.8 648.85 357.55 648.69 359.74 648.3 361.44 647.53 365.99 647.14 367.43 646.37 372 645.98 374.82 644.97 377.41 644.82 379.72 644.43 381.4 643.65 385.96 643.26 387.39 642.49 391.93 642.1 394.84 641.08 397.26 640.94 399.7 640.55 401.36 639.78 405.92 639.39 407.35 638.61 411.83 638.22 414.85 637.18 419.6 636.67 420.62 635.9 426.35 635.12 427.3 634.35 428.2 634.14 431.3 633.96 433.09 633.57 434.13 632.8 434.87 632.63 438.28 632.41 439.81 632.02 441 631.25 441.54 631.12 445.19 630.86 446.52 630.47 448.21 629.61 452.05 629.31 454.89 628.11 458.87 627.76 461.56 626.6 465.65 626.21 466.62 625.82 467.05 625.43 468.23 625.1 472.44 624.66 473.33 624.27 473.75 623.88 474.9 623.6 479.27 623.1 480.49 622.33 486.09 621.55 486.8 621.17 487.38 620.39 488.25 620.13 490.37 620 492.68 619.62 493.44 619.23 494.03 618.45 494.92 618.17 499.28 617.68 500.07 617.29 500.68 616.51 501.59 616.2 505.79 615.74 506.64 615.35 507.29 614.58 508.26 614.22 512.22 613.8 513.17 613.41 513.89 612.64 514.89 612.25 518.62 611.86 519.69 611.47 520.47 610.7 521.41 610.31 530.1 607.73 542.47 604.5zM48.55 613.88L59.22 613.88 69.6 618.45 71.9 620 74.57 620.65 76.63 621.55 78.07 622.72 79.01 623.1 81.24 623.59 82.78 624.27 85.07 625.82 87.91 626.53 89.81 627.37 91.28 628.53 92.14 628.92 94.59 629.48 96.79 630.47 98.26 631.63 101.26 632.42 102.99 633.18 104.51 634.35 105.3 634.74 107.93 635.36 110.03 636.29 111.46 637.45 112.42 637.84 114.6 638.31 116.18 639 118.47 640.55 121.27 641.25 123.21 642.1 124.67 643.26 125.55 643.65 127.95 644.19 130.17 645.2 131.65 646.37 134.62 647.14 136.39 647.92 137.89 649.08 138.7 649.47 141.29 650.08 143.42 651.02 144.85 652.18 147.96 653.02 150.28 654.12 151.19 654.9 151.97 655.28 154.64 655.92 156.77 656.83 158.34 658 162.23 659.16 110.84 659.16 110.84 653.73 110.57 653.34 109.38 652.18 108.09 651.41 105.97 650.63 104.29 650.24 97.73 649.47 87.91 649.02 47.88 649.02 47.88 613.88z" style="fill: #331040"/>

<path d="M541.87 604.86L542.52 604.77 542.52 653.75 530.1 653.74 528.14 653.46 514.09 652.96 488.25 651.52 481.58 651.01 480.81 650.63 474.5 650.24 473.86 649.86 468.23 649.53 461.56 649.6 457.21 649.86 441.54 650.01 408.18 651.5 383.16 652.96 381.54 653.34 356.67 654.9 354.99 655.28 348.13 655.71 334.79 656.45 314.48 657.22 314.57 656.06 314.77 655.99 320.33 655.67 320.95 655.28 321.13 654.9 327.09 654.51 327.64 654.12 327.81 653.73 328.11 653.68 333.84 653.34 334.33 652.96 334.48 652.57 340.57 652.18 341.31 651.41 347.3 651.02 348.13 650.25 354.02 649.86 354.52 649.08 354.8 649.01 360.35 648.69 361.48 647.8 366.17 647.53 367.53 647.14 368.15 646.36 374.01 645.98 374.53 645.2 374.82 645.14 380.33 644.82 381.49 643.92 386.06 643.65 387.53 643.26 388.16 642.47 394.01 642.1 394.54 641.33 394.84 641.26 400.29 640.94 401.51 640.03 405.93 639.78 407.54 639.39 408.18 638.58 413.99 638.22 414.55 637.45 414.85 637.37 420.22 637.06 420.98 636.67 421.27 635.9 421.53 635.83 427.06 635.51 427.67 635.12 427.94 634.35 428.2 634.29 433.85 633.96 434.36 633.57 434.87 632.78 440.61 632.41 441.54 631.38 447.35 630.86 447.88 630.08 448.21 629.91 451.91 629.7 454.08 629.31 454.55 628.53 454.89 628.4 459.28 628.14 460.79 627.76 461.22 626.98 461.56 626.87 466.35 626.59 467.49 626.21 467.89 625.43 468.23 625.34 473.28 625.04 474.2 624.66 474.57 623.88 474.9 623.8 480.18 623.49 480.92 623.1 481.29 622.33 487.03 621.94 487.63 621.55 488 620.39 493.62 620 494.28 619.62 494.67 618.45 494.92 618.37 500.2 618.06 500.93 617.68 501.33 616.51 501.59 616.43 506.74 616.13 507.56 615.74 507.99 614.58 508.26 614.47 513.19 614.19 514.16 613.8 514.64 612.64 514.94 612.52 519.6 612.25 520.75 611.86 521.28 610.7 522.18 610.31 530.1 607.98 541.8 604.88zM48.55 614.56L59.22 614.56 68.04 618.45 68.56 618.84 69.04 620 70.11 620.78 72.05 621.17 74.57 621.33 75.07 621.55 75.57 622.72 76.3 623.49 77.3 623.88 81.24 624.28 81.89 624.66 82.34 625.82 83.28 626.59 84.82 626.98 87.91 627.22 88.6 627.76 89.12 628.92 90.39 629.7 94.59 630.17 95.22 630.47 95.64 631.63 96.47 632.41 97.73 632.8 101.26 633.11 101.92 633.57 102.41 634.74 103.51 635.51 105.57 635.9 107.93 636.05 108.47 636.29 108.94 637.45 109.69 638.22 110.73 638.61 114.6 638.99 115.25 639.39 115.71 640.55 116.68 641.33 118.29 641.71 121.27 641.94 121.96 642.49 122.25 643.26 122.92 644.04 123.8 644.43 127.95 644.89 128.58 645.2 129.01 646.37 129.87 647.14 131.17 647.53 134.62 647.82 135.29 648.3 135.79 649.47 136.92 650.24 139.09 650.63 141.29 650.77 141.86 651.02 142.31 652.18 143.08 652.96 144.16 653.34 147.96 653.71 148.63 654.12 148.88 654.9 149.47 655.67 150.18 656.06 152.12 656.45 154.64 656.61 155.16 656.83 156 658.38 156.55 658.77 157.86 659.16 113.53 659.16 113.53 653.73 112.74 651.41 112.14 650.63 110.95 649.86 109.78 649.47 107.53 649.08 101.26 648.69 87.91 648.47 47.88 648.47 47.88 614.56z" style="fill: #31103f"/>

</g>
<g id="matplotlib.axis_13">
<g id="xtick_1">
<g id="line2d_66">
<defs>
<path id="m1504cfccaf" d="M0 0L0 3.5" style="stroke: #000000; stroke-width: 0.8"/>
</defs>
<g>
<use href="#m1504cfccaf" x="47.880" y="659.16" style="stroke: #000000; stroke-width: 0.8"/>
</g>
</g>
<g id="text_100">
<text style="font-size: 10px; font-family: 'DejaVu Sans', 'Liberation Sans', sans-serif; text-anchor: middle" x="47.88" y="673.758">0</text>
</g>
</g>
<g id="xtick_2">
<g id="line2d_67">
<g>
<use href="#m1504cfccaf" x="114.840" y="659.16" style="stroke: #000000; stroke-width: 0.8"/>
</g>
</g>
<g id="text_101">
<text style="font-size: 10px; font-family: 'DejaVu Sans', 'Liberation Sans', sans-serif; text-anchor: middle" x="114.602" y="673.758">10</text>
</g>
</g>
<g id="xtick_3">
<g id="line2d_68">
<g>
<use href="#m1504cfccaf" x="181.080" y="659.16" style="stroke: #000000; stroke-width: 0.8"/>
</g>
</g>
<g id="text_102">
<text style="font-size: 10px; font-family: 'DejaVu Sans', 'Liberation Sans', sans-serif; text-anchor: middle" x="181.324" y="673.758">20</text>
</g>
</g>
<g id="xtick_4">
<g id="line2d_69">
<g>
<use href="#m1504cfccaf" x="248.040" y="659.16" style="stroke: #000000; stroke-width: 0.8"/>
</g>
</g>
<g id="text_103">
<text style="font-size: 10px; font-family: 'DejaVu Sans', 'Liberation Sans', sans-serif; text-anchor: middle" x="248.047" y="673.758">30</text>
</g>
</g>
<g id="xtick_5">
<g id="line2d_70">
<g>
<use href="#m1504cfccaf" x="315.000" y="659.16" style="stroke: #000000; stroke-width: 0.8"/>
</g>
</g>
<g id="text_104">
<text style="font-size: 10px; font-family: 'DejaVu Sans', 'Liberation Sans', sans-serif; text-anchor: middle" x="314.769" y="673.758">40</text>
</g>
</g>
<g id="xtick_6">
<g id="line2d_71">
<g>
<use href="#m1504cfccaf" x="381.240" y="659.16" style="stroke: #000000; stroke-width: 0.8"/>
</g>
</g>
<g id="text_105">
<text style="font-size: 10px; font-family: 'DejaVu Sans', 'Liberation Sans', sans-serif; text-anchor: middle" x="381.492" y="673.758">50</text>
</g>
</g>
<g id="xtick_7">
<g id="line2d_72">
<g>
<use href="#m1504cfccaf" x="448.200" y="659.16" style="stroke: #000000; stroke-width: 0.8"/>
</g>
</g>
<g id="text_106">
<text style="font-size: 10px; font-family: 'DejaVu Sans', 'Liberation Sans', sans-serif; text-anchor: middle" x="448.214" y="673.758">60</text>
</g>
</g>
<g id="xtick_8">
<g id="line2d_73">
<g>
<use href="#m1504cfccaf" x="515.160" y="659.16" style="stroke: #000000; stroke-width: 0.8"/>
</g>
</g>
<g id="text_107">
<text style="font-size: 10px; font-family: 'DejaVu Sans', 'Liberation Sans', sans-serif; text-anchor: middle" x="514.936" y="673.758">70</text>
</g>
</g>
<g id="text_108">
<text style="font-size: 10px; font-family: 'DejaVu Sans', 'Liberation Sans', sans-serif; text-anchor: middle" x="295.2" y="688.136">Distance along track (km)</text>
</g>
</g>
<g id="matplotlib.axis_14">
<g id="ytick_64">
<g id="line2d_74">
<g>
<use href="#m5d545ce8f8" x="47.88" y="543.240" style="stroke: #000000; stroke-width: 0.8"/>
</g>
</g>
<g id="text_109">
<text style="font-size: 10px; font-family: 'DejaVu Sans', 'Liberation Sans', sans-serif; text-anchor: end" x="40.88" y="547.039">0</text>
</g>
</g>
<g id="ytick_65">
<g id="line2d_75">
<g>
<use href="#m5d545ce8f8" x="47.88" y="549.720" style="stroke: #000000; stroke-width: 0.8"/>
</g>
</g>
<g id="text_110">
<text style="font-size: 10px; font-family: 'DejaVu Sans', 'Liberation Sans', sans-serif; text-anchor: end" x="40.88" y="553.858">50</text>
</g>
</g>
<g id="ytick_66">
<g id="line2d_76">
<g>
<use href="#m5d545ce8f8" x="47.88" y="556.920" style="stroke: #000000; stroke-width: 0.8"/>
</g>
</g>
<g id="text_111">
<text style="font-size: 10px; font-family: 'DejaVu Sans', 'Liberation Sans', sans-serif; text-anchor: end" x="40.88" y="560.676">100</text>
</g>
</g>
<g id="ytick_67">
<g id="line2d_77">
<g>
<use href="#m5d545ce8f8" x="47.88" y="563.400" style="stroke: #000000; stroke-width: 0.8"/>
</g>
</g>
<g id="text_112">
<text style="font-size: 10px; font-family: 'DejaVu Sans', 'Liberation Sans', sans-serif; text-anchor: end" x="40.88" y="567.495">150</text>
</g>
</g>
<g id="ytick_68">
<g id="line2d_78">
<g>
<use href="#m5d545ce8f8" x="47.88" y="570.600" style="stroke: #000000; stroke-width: 0.8"/>
</g>
</g>
<g id="text_113">
<text style="font-size: 10px; font-family: 'DejaVu Sans', 'Liberation Sans', sans-serif; text-anchor: end" x="40.88" y="574.314">200</text>
</g>
</g>
<g id="ytick_69">
<g id="line2d_79">
<g>
<use href="#m5d545ce8f8" x="47.88" y="577.080" style="stroke: #000000; stroke-width: 0.8"/>
</g>
</g>
<g id="text_114">
<text style="font-size: 10px; font-family: 'DejaVu Sans', 'Liberation Sans', sans-serif; text-anchor: end" x="40.88" y="581.133">250</text>
</g>
</g>
<g id="ytick_70">
<g id="line2d_80">
<g>
<use href="#m5d545ce8f8" x="47.88" y="584.280" style="stroke: #000000; stroke-width: 0.8"/>
</g>
</g>
<g id="text_115">
<text style="font-size: 10px; font-family: 'DejaVu Sans', 'Liberation Sans', sans-serif; text-anchor: end" x="40.88" y="587.952">300</text>
</g>
</g>
<g id="ytick_71">
<g id="line2d_81">
<g>
<use href="#m5d545ce8f8" x="47.88" y="590.760" style="stroke: #000000; stroke-width: 0.8"/>
</g>
</g>
<g id="text_116">
<text style="font-size: 10px; font-family: 'DejaVu Sans', 'Liberation Sans', sans-serif; text-anchor: end" x="40.88" y="594.770">350</text>
</g>
</g>
<g id="ytick_72">
<g id="line2d_82">
<g>
<use href="#m5d545ce8f8" x="47.88" y="597.960" style="stroke: #000000; stroke-width: 0.8"/>
</g>
</g>
<g id="text_117">
<text style="font-size: 10px; font-family: 'DejaVu Sans', 'Liberation Sans', sans-serif; text-anchor: end" x="40.88" y="601.589">400</text>
</g>
</g>
<g id="ytick_73">
<g id="line2d_83">
<g>
<use href="#m5d545ce8f8" x="47.88" y="604.440" style="stroke: #000000; stroke-width: 0.8"/>
</g>
</g>
<g id="text_118">
<text style="font-size: 10px; font-family: 'DejaVu Sans', 'Liberation Sans', sans-serif; text-anchor: end" x="40.88" y="608.408">450</text>
</g>
</g>
<g id="ytick_74">
<g id="line2d_84">
<g>
<use href="#m5d545ce8f8" x="47.88" y="611.640" style="stroke: #000000; stroke-width: 0.8"/>
</g>
</g>
<g id="text_119">
<text style="font-size: 10px; font-family: 'DejaVu Sans', 'Liberation Sans', sans-serif; text-anchor: end" x="40.88" y="615.227">500</text>
</g>
</g>
<g id="ytick_75">
<g id="line2d_85">
<g>
<use href="#m5d545ce8f8" x="47.88" y="618.120" style="stroke: #000000; stroke-width: 0.8"/>
</g>
</g>
<g id="text_120">
<text style="font-size: 10px; font-family: 'DejaVu Sans', 'Liberation Sans', sans-serif; text-anchor: end" x="40.88" y="622.046">550</text>
</g>
</g>
<g id="ytick_76">
<g id="line2d_86">
<g>
<use href="#m5d545ce8f8" x="47.88" y="625.320" style="stroke: #000000; stroke-width: 0.8"/>
</g>
</g>
<g id="text_121">
<text style="font-size: 10px; font-family: 'DejaVu Sans', 'Liberation Sans', sans-serif; text-anchor: end" x="40.88" y="628.865">600</text>
</g>
</g>
<g id="ytick_77">
<g id="line2d_87">
<g>
<use href="#m5d545ce8f8" x="47.88" y="631.800" style="stroke: #000000; stroke-width: 0.8"/>
</g>
</g>
<g id="text_122">
<text style="font-size: 10px; font-family: 'DejaVu Sans', 'Liberation Sans', sans-serif; text-anchor: end" x="40.88" y="635.683">650</text>
</g>
</g>
<g id="ytick_78">
<g id="line2d_88">
<g>
<use href="#m5d545ce8f8" x="47.88" y="639.000" style="stroke: #000000; stroke-width: 0.8"/>
</g>
</g>
<g id="text_123">
<text style="font-size: 10px; font-family: 'DejaVu Sans', 'Liberation Sans', sans-serif; text-anchor: end" x="40.88" y="642.502">700</text>
</g>
</g>
<g id="ytick_79">
<g id="line2d_89">
<g>
<use href="#m5d545ce8f8" x="47.88" y="645.480" style="stroke: #000000; stroke-width: 0.8"/>
</g>
</g>
<g id="text_124">
<text style="font-size: 10px; font-family: 'DejaVu Sans', 'Liberation Sans', sans-serif; text-anchor: end" x="40.88" y="649.321">750</text>
</g>
</g>
<g id="ytick_80">
<g id="line2d_90">
<g>
<use href="#m5d545ce8f8" x="47.88" y="652.680" style="stroke: #000000; stroke-width: 0.8"/>
</g>
</g>
<g id="text_125">
<text style="font-size: 10px; font-family: 'DejaVu Sans', 'Liberation Sans', sans-serif; text-anchor: end" x="40.88" y="656.140">800</text>
</g>
</g>
<g id="ytick_81">
<g id="line2d_91">
<g>
<use href="#m5d545ce8f8" x="47.88" y="659.160" style="stroke: #000000; stroke-width: 0.8"/>
</g>
</g>
<g id="text_126">
<text style="font-size: 10px; font-family: 'DejaVu Sans', 'Liberation Sans', sans-serif; text-anchor: end" x="40.88" y="662.959">850</text>
</g>
</g>
<g id="text_127">
<text style="font-size: 10px; font-family: 'DejaVu Sans', 'Liberation Sans', sans-serif; text-anchor: middle" x="14.212" y="601.2" transform="rotate(-90 14.212 601.2)">Depth (m)</text>
</g>
</g>
<g id="patch_34">
<path d="M47.88 543.1L47.88 549.32 75.9 549.32 75.9 548.25 127.95 548.25 127.95 547.51 178.66 547.51 178.66 546.94 230.7 546.94 230.7 546.43 280.74 546.43 280.74 545.69 314.77 545.69 314.77 545.42 327.45 545.42 327.45 544.4 428.2 544.4 428.2 543.38 542.52 543.38 542.52 543.1z" clip-path="url(#p28ceb86d69)" style="fill: #ffffff"/>
</g>
<g id="patch_35">
<path d="M47.88 559.13L542.52 559.13 542.52 568.81 219.36 568.81 219.36 568.33 47.88 568.33z" clip-path="url(#p28ceb86d69)" style="fill: #ffffff"/>
</g>
<g id="patch_36">
<path d="M47.88 551.63L91.92 551.63 91.92 552.1 47.88 552.1z" clip-path="url(#p28ceb86d69)" style="fill: #ffffff"/>
</g>
<g id="patch_37">
<path d="M47.88 659.16L47.88 543.24" style="fill: none; stroke: #000000; stroke-width: 0.8; stroke-linejoin: miter; stroke-linecap: square"/>
</g>
<g id="patch_38">
<path d="M542.52 659.16L542.52 543.24" style="fill: none; stroke: #000000; stroke-width: 0.8; stroke-linejoin: miter; stroke-linecap: square"/>
</g>
<g id="patch_39">
<path d="M47.88 659.16L542.52 659.16" style="fill: none; stroke: #000000; stroke-width: 0.8; stroke-linejoin: miter; stroke-linecap: square"/>
</g>
<g id="patch_40">
<path d="M47.88 543.24L542.52 543.24" style="fill: none; stroke: #000000; stroke-width: 0.8; stroke-linejoin: miter; stroke-linecap: square"/>
</g>
<g id="text_128">
<text style="font-weight: 700; font-size: 7px; font-family: 'DejaVu Sans', 'Liberation Sans', sans-serif; text-anchor: middle" x="538.823" y="575.719">9</text>
</g>
<g id="text_129">
<text style="font-weight: 700; font-size: 7px; font-family: 'DejaVu Sans', 'Liberation Sans', sans-serif; text-anchor: middle" x="534.286" y="588.948">8</text>
</g>
<g id="text_130">
<text style="font-weight: 700; font-size: 7px; font-family: 'DejaVu Sans', 'Liberation Sans', sans-serif; text-anchor: middle" x="533.752" y="602.176">7</text>
</g>
<g id="text_131">
<text style="font-weight: 700; font-size: 7px; font-family: 'DejaVu Sans', 'Liberation Sans', sans-serif; text-anchor: middle" x="533.752" y="609.541">6</text>
</g>
<g id="text_132">
<text style="font-weight: 700; font-size: 7px; font-family: 'DejaVu Sans', 'Liberation Sans', sans-serif; text-anchor: middle" x="533.752" y="615.814">5</text>
</g>
<g id="text_133">
<text style="font-weight: 700; font-size: 7px; font-family: 'DejaVu Sans', 'Liberation Sans', sans-serif; text-anchor: middle" x="533.752" y="622.769">4</text>
</g>
<g id="text_134">
<text style="font-weight: 700; font-size: 7px; font-family: 'DejaVu Sans', 'Liberation Sans', sans-serif; text-anchor: middle" x="533.752" y="629.588">3</text>
</g>
<g id="text_135">
<text style="font-weight: 700; font-size: 7px; font-family: 'DejaVu Sans', 'Liberation Sans', sans-serif; text-anchor: middle" x="533.752" y="650.045">2</text>
</g>
<g id="text_136">
<text style="font-weight: 700; font-size: 7px; font-family: 'DejaVu Sans', 'Liberation Sans', sans-serif; text-anchor: middle" x="533.752" y="657.273">1</text>
</g>
<g id="text_137">
<text style="font-weight: 700; font-size: 7px; font-family: 'DejaVu Sans', 'Liberation Sans', sans-serif; text-anchor: middle" x="533.752" y="664.637">0</text>
</g>
</g>
<g id="axes_8">
<g id="patch_41">
<path d="M573.48 659.16L579.24 659.16 579.24 543.24 573.48 543.24 573.48 659.16z" style="fill: none"/>
</g>
<g id="grad_matter">
<path d="M573.48 653.89L579.24 653.89 579.24 548.51 573.48 548.51z" clip-path="url(#p2b2d6d4fac)" style="fill: url(#lg_matter)"/>
</g>
<g id="patch_42">
<path d="M573.48 652.63L579.24 652.63 576.36 659.16z" style="fill: #feedb0"/>
</g>
<g id="patch_43">
<path d="M573.48 549.77L579.24 549.77 576.36 543.24z" style="fill: #2f0f3d"/>
</g>
<g id="matplotlib.axis_15"/>
<g id="matplotlib.axis_16">
<g id="ytick_82">
<g id="line2d_92">
<g>
<use href="#m33c4ce201d" x="579.24" y="548.280" style="stroke: #000000; stroke-width: 0.8"/>
</g>
</g>
<g id="text_138">
<text style="font-size: 10px; font-family: 'DejaVu Sans', 'Liberation Sans', sans-serif; text-anchor: start" x="586.24" y="552.308">36.6</text>
</g>
</g>
<g id="ytick_83">
<g id="line2d_93">
<g>
<use href="#m33c4ce201d" x="579.24" y="601.560" style="stroke: #000000; stroke-width: 0.8"/>
</g>
</g>
<g id="text_139">
<text style="font-size: 10px; font-family: 'DejaVu Sans', 'Liberation Sans', sans-serif; text-anchor: start" x="586.24" y="604.999">31.0</text>
</g>
</g>
<g id="ytick_84">
<g id="line2d_94">
<g>
<use href="#m33c4ce201d" x="579.24" y="654.120" style="stroke: #000000; stroke-width: 0.8"/>
</g>
</g>
<g id="text_140">
<text style="font-size: 10px; font-family: 'DejaVu Sans', 'Liberation Sans', sans-serif; text-anchor: start" x="586.24" y="657.690">25.4</text>
</g>
</g>
<g id="text_141">
<text style="font-size: 9px; font-family: 'DejaVu Sans', 'Liberation Sans', sans-serif; text-anchor: middle" x="619.344" y="601.2" transform="rotate(-90 619.344 601.2)">Nitrate [micromoles/liter]</text>
</g>
</g>
<g id="patch_44">
<path d="M573.48 653.89L576.36 659.16 579.24 653.89 579.24 548.51 576.36 543.24 573.48 548.51 573.48 653.89z" style="fill: none; stroke: #000000; stroke-width: 0.8; stroke-linejoin: miter"/>
</g>
</g>
<g id="axes_9">
<g id="patch_45">
<path d="M672.84 126.36L1168.2 126.36 1168.2 11.16 672.84 11.16z" style="fill: #ffffff"/>
</g>
<g id="patch_46">
<path d="M677.51 11.16L677.51 29.19 680.65 86.38 684.05 86.38 684.05 119.31 689.52 119.31 689.52 122.57 695.53 122.57 695.53 124.33 704.93 124.33 712.94 122.84 718.48 123.11 722.95 126.36 731.89 126.36 736.89 121.62 741.9 122.16 747.84 125.82 762.85 126.09 775.79 121.07 781.8 121.07 788.74 124.6 797.68 124.6 802.75 123.11 809.69 123.11 817.63 125.82 840.91 126.09 846.32 126.36 848.65 125.68 850.99 126.36 911.71 126.36 919.05 124.19 926.39 126.36 1155.51 126.36 1155.51 82.99 1161.98 82.99 1161.98 11.16 677.51 11.16z" clip-path="url(#p6e31d36c32)" style="fill: none"/>
</g>
<g mask="url(#mk4)">
<path d="M673.51 11.16L1167.48 11.16 1167.48 126.36 672.84 126.36 672.84 11.16z" style="fill: #3d0405"/>

<path d="M673.51 11.16L1167.48 11.16 1167.48 126.36 672.84 126.36 672.84 11.16z" style="fill: #430506"/>

<path d="M673.51 11.16L1167.48 11.16 1167.48 126.36 1155.75 126.36 1155.72 120.5 959.75 120.5 953.07 123.9 893.02 124.43 791.94 126.36 672.84 126.36 672.84 11.16z" style="fill: #4a0607"/>

<path d="M673.51 11.16L1167.48 11.16 1167.48 126.36 1155.81 126.36 1155.72 112.73 959.75 112.73 953.07 116.14 893.02 116.66 772.92 118.98 684.18 120.45 684.14 126.36 672.84 126.36 672.84 11.16z" style="fill: #51060a"/>

<path d="M673.51 11.16L1167.48 11.16 1167.48 126.36 1155.86 126.36 1155.72 106.34 959.75 106.34 953.07 109.75 893.02 110.27 772.92 112.58 684.18 114.06 684.08 126.36 672.84 126.36 672.84 11.16z" style="fill: #5c070f"/>

<path d="M673.51 11.16L1167.48 11.16 1167.48 126.36 1155.91 126.36 1155.72 100.29 959.75 100.29 953.07 103.7 893.02 104.22 772.92 106.53 684.18 108.01 684.03 126.36 672.84 126.36 672.84 11.16z" style="fill: #670715"/>

<path d="M673.51 11.16L1167.48 11.16 1167.48 126.36 1155.96 126.36 1155.72 93.67 959.75 93.67 953.07 97.08 893.02 97.61 772.92 99.92 684.18 101.39 683.97 126.36 672.84 126.36 672.84 11.16z" style="fill: #71081a"/>

<path d="M673.51 11.16L1167.48 11.16 1167.48 126.36 1156.01 126.36 1155.72 86.62 959.75 86.62 953.07 90.02 893.02 90.55 772.92 92.86 684.18 94.34 683.91 126.36 672.84 126.36 672.84 11.16z" style="fill: #770919"/>

<path d="M673.51 11.16L1167.48 11.16 1167.48 126.36 1156.06 126.36 1155.72 80.69 959.75 80.69 953.07 84.09 893.02 84.62 772.92 86.93 684.18 88.41 683.86 126.36 672.84 126.36 672.84 11.16z" style="fill: #7d0a18"/>

<path d="M673.51 11.16L1167.48 11.16 1167.48 126.36 1156.11 126.36 1155.72 75.39 959.75 75.39 953.07 78.8 893.02 79.32 772.92 81.64 684.18 83.11 683.8 126.36 672.84 126.36 672.84 11.16z" style="fill: #820c16"/>

<path d="M673.51 11.16L1167.48 11.16 1167.48 126.36 1156.16 126.36 1155.99 85.52 1155.96 82.82 1155.75 82.44 1155.72 70.23 959.75 70.23 956.72 72.03 953.07 73.64 893.02 74.16 772.92 76.48 684.18 77.95 683.92 92.07 683.75 126.36 672.84 126.36 672.84 11.16z" style="fill: #870f11"/>

<path d="M673.51 11.16L1167.48 11.16 1167.48 126.36 1156.21 126.36 1156.07 83.98 1156.06 82.82 1155.77 82.44 1155.74 74.35 1155.95 73.96 1155.72 66.6 959.75 66.6 953.07 70.01 893.02 70.53 772.92 72.85 684.18 74.32 683.84 90.14 683.69 126.36 672.84 126.36 672.84 11.16zM866.15 62.79L953.76 62.79 866.33 62.78z" style="fill: #8c140e"/>

<path d="M673.51 11.16L1167.48 11.16 1167.48 126.36 1156.26 126.36 1156.16 82.82 1155.78 82.44 1155.76 74.35 1156.09 73.96 1155.72 62.97 959.75 62.97 958.44 65.49 954.07 65.87 953.07 66.38 893.02 66.9 772.92 69.21 684.18 70.69 683.78 83.59 683.63 126.36 672.84 126.36 672.84 11.16zM864.63 62.79L959.46 62.79 866.33 62.69z" style="fill: #911b0b"/>

<path d="M673.51 11.16L1167.48 11.16 1167.48 126.36 1156.32 126.36 1156.26 82.82 1155.8 82.44 1155.77 74.35 1156.22 73.96 1156.2 70.49 1155.89 62.4 1155.72 62.3 959.75 62.3 953.07 62.6 866.33 62.6 863.1 62.79 866.33 62.98 953.07 62.98 957.59 63.17 956.54 65.49 953.07 65.75 946.4 65.75 939.73 66.12 906.37 66.13 899.7 66.5 879.68 66.51 873.01 66.88 852.99 66.89 846.32 67.27 839.65 67.27 832.97 67.65 819.63 67.65 812.96 68.03 799.61 68.04 792.94 68.41 779.6 68.42 772.92 68.79 752.91 68.8 746.23 69.17 732.89 69.18 726.22 69.55 706.2 69.56 699.53 69.93 684.85 69.94 683.87 70.49 683.76 73.96 683.58 126.36 672.84 126.36 672.84 11.16z" style="fill: #535353"/>

<path d="M673.51 11.16L1167.48 11.16 1167.48 126.36 1156.37 126.36 1156.36 82.82 1155.81 82.44 1155.79 74.35 1156.36 73.96 1156.36 69.72 1156.1 62.4 1155.72 62.18 959.75 62.18 953.07 62.52 866.33 62.52 861.58 62.79 866.33 63.07 953.07 63.07 955.54 63.17 954.65 65.49 953.07 65.6 946.4 65.6 939.73 65.98 906.37 65.98 899.7 66.36 879.68 66.36 873.01 66.73 852.99 66.74 846.32 67.11 839.65 67.11 832.97 67.49 819.63 67.49 812.96 67.86 799.61 67.87 792.94 68.24 779.6 68.24 772.92 68.61 752.91 68.62 746.23 68.99 732.89 68.99 726.22 69.36 706.2 69.36 699.53 69.74 684.85 69.74 683.54 70.49 683.52 126.36 672.84 126.36 672.84 11.16z" style="fill: #575757"/>

<path d="M673.51 11.16L1167.48 11.16 1167.48 64.58 1156.37 64.58 1156.31 62.4 1155.72 62.06 959.75 62.06 953.07 62.43 866.33 62.43 860.05 62.79 866.33 63.15 953.07 63.15 953.5 63.17 953.07 64.58 672.84 64.58 672.84 11.16zM1156.37 73.97L1167.48 73.97 1167.48 82.81 1156.37 82.81 1155.82 82.44 1155.81 74.35z" style="fill: #5b5b5b"/>

<path d="M673.51 11.16L1167.48 11.16 1167.48 56.87 672.84 56.87 672.84 11.16zM1156.37 73.98L1167.48 73.98 1167.48 82.8 1156.37 82.8 1155.84 82.44 1155.82 74.35z" style="fill: #5f5f5f"/>

<path d="M673.51 11.16L1167.48 11.16 1167.48 50.44 672.84 50.43 672.84 11.16zM1156.37 73.99L1167.48 73.99 1167.48 82.79 1156.37 82.79 1155.85 82.44 1155.84 74.35z" style="fill: #626262"/>

<path d="M673.51 11.16L1167.48 11.16 1167.48 46.19 672.84 46 672.84 11.16zM1156.37 74L1167.48 74 1167.48 82.78 1156.37 82.78 1155.87 82.44 1155.85 74.35z" style="fill: #666666"/>

<path d="M673.51 11.16L1167.48 11.16 1167.48 43.67 986.44 43.17 906.37 42.69 672.84 42.69 672.84 40.61 906.37 40.61 908.64 40.44 906.37 40.03 672.84 40.03 672.84 11.16zM1156.37 74.01L1167.48 74.01 1167.48 82.77 1156.37 82.77 1155.88 82.44 1155.87 74.35z" style="fill: #6a6a6a"/>

<path d="M673.51 11.16L1167.48 11.16 1167.48 40.6 1003.66 38.9 906.37 38.5 672.84 38.5 672.84 11.16zM1156.37 74.02L1167.48 74.02 1167.48 82.76 1156.37 82.76 1155.9 82.44 1155.88 74.35z" style="fill: #6e6e6e"/>

<path d="M673.51 11.16L1167.48 11.16 1167.48 39.01 906.37 38.03 672.84 38.03 672.84 11.16zM1156.37 74.03L1167.48 74.03 1167.48 82.75 1156.37 82.75 1155.91 82.44 1155.9 74.35z" style="fill: #727272"/>

<path d="M673.51 11.16L1167.48 11.16 1167.48 38.49 906.37 37.59 672.84 37.59 672.84 11.16zM1156.37 74.04L1167.48 74.04 1167.48 82.74 1156.37 82.74 1155.93 82.44 1155.91 74.35z" style="fill: #767676"/>

<path d="M673.51 11.16L1167.48 11.16 1167.48 38.11 906.37 37.15 672.84 37.15 672.84 11.16zM1156.37 74.05L1167.48 74.05 1167.48 82.73 1156.37 82.73 1155.94 82.44 1155.93 74.35z" style="fill: #7a7a7a"/>

<path d="M673.51 11.16L1167.48 11.16 1167.48 37.75 906.37 36.69 672.84 36.69 672.84 11.16zM1156.37 74.06L1167.48 74.06 1167.48 82.72 1156.37 82.72 1155.96 82.44 1155.94 74.35z" style="fill: #7d7d7d"/>

<path d="M673.51 11.16L1167.48 11.16 1167.48 37.4 906.37 36.18 672.84 36.18 672.84 11.16zM1156.37 74.07L1167.48 74.07 1167.48 82.71 1156.37 82.71 1155.97 82.44 1155.96 74.35z" style="fill: #818181"/>

<path d="M673.51 11.16L1167.48 11.16 1167.48 37.04 991.44 36.2 906.37 35.51 672.84 35.51 672.84 11.16zM1156.37 74.08L1167.48 74.08 1167.48 82.7 1156.37 82.7 1155.98 82.44 1155.97 74.35z" style="fill: #858585"/>

<path d="M673.51 11.16L1167.48 11.16 1167.48 36.67 1073.17 36.2 973.19 35.43 924.09 34.66 906.37 34.06 672.84 34.06 672.84 11.16zM1156.37 74.09L1167.48 74.09 1167.48 82.69 1156.37 82.69 1156 82.44 1155.99 74.35z" style="fill: #898989"/>

<path d="M673.51 11.16L1167.48 11.16 1167.48 36.26 1093.84 35.82 1015.7 35.05 980.35 34.28 949.06 33.12 906.37 32.44 672.84 32.44 672.84 11.16zM1156.37 74.1L1167.48 74.1 1167.48 82.68 1156.37 82.68 1156.01 82.44 1156 74.35z" style="fill: #8d8d8d"/>

<path d="M673.51 11.16L1167.48 11.16 1167.48 35.78 1087.84 35.05 1049.16 34.28 1017.11 33.12 998.45 32.74 928.75 31.97 906.37 31.81 672.84 31.81 672.84 11.16zM1156.37 74.11L1167.48 74.11 1167.48 82.67 1156.37 82.67 1156.03 82.44 1156.02 74.35z" style="fill: #919191"/>

<path d="M673.51 11.16L1167.48 11.16 1167.48 35.12 1117.97 34.28 1085.17 33.12 1067.35 32.74 1001.07 31.97 906.37 31.3 672.84 31.34 672.84 11.16zM1156.37 74.12L1167.48 74.12 1167.48 82.66 1156.37 82.66 1156.04 82.44 1156.03 74.35z" style="fill: #959595"/>

<path d="M673.51 11.16L1167.48 11.16 1167.48 33.58 1136.25 32.74 1099.86 32.24 906.37 30.83 672.84 30.94 672.84 11.16zM1156.37 74.13L1167.48 74.13 1167.48 82.65 1156.37 82.65 1156.06 82.44 1156.05 74.35z" style="fill: #999999"/>

<path d="M673.51 11.16L1167.48 11.16 1167.48 32.19 1046.44 31.19 906.37 30.39 672.84 30.57 672.84 11.16zM1156.37 74.14L1167.48 74.14 1167.48 82.64 1156.37 82.64 1156.07 82.44 1156.06 74.35z" style="fill: #9d9d9d"/>

<path d="M673.51 11.16L1167.48 11.16 1167.48 31.53 906.37 29.96 672.84 30.21 672.84 11.16zM1156.37 74.15L1167.48 74.15 1167.48 82.63 1156.37 82.63 1156.09 82.44 1156.08 74.35z" style="fill: #a2a2a2"/>

<path d="M673.51 11.16L1167.48 11.16 1167.48 30.92 906.37 29.47 672.84 29.83 672.84 11.16zM1156.37 74.16L1167.48 74.16 1167.48 82.62 1156.37 82.62 1156.1 82.44 1156.09 74.35z" style="fill: #a6a6a6"/>

<path d="M673.51 11.16L1167.48 11.16 1167.48 30.37 906.37 28.88 739.56 29.43 672.84 29.43 672.84 11.16zM1156.37 74.17L1167.48 74.17 1167.48 82.61 1156.37 82.61 1156.12 82.44 1156.11 74.35z" style="fill: #ababab"/>

<path d="M673.51 11.16L1167.48 11.16 1167.48 29.79 978.64 28.5 906.37 27.58 881.32 28.11 838.62 28.5 739.56 28.96 672.84 28.96 672.84 11.16zM1156.37 74.18L1167.48 74.18 1167.48 82.6 1156.37 82.6 1156.13 82.44 1156.12 74.35z" style="fill: #b0b0b0"/>

<path d="M673.51 11.16L1167.48 11.16 1167.48 29.03 1112.23 28.5 1088.81 28.11 1079.52 27.73 1084.02 27.34 1133.59 26.19 1127.29 25.8 906.37 25.21 841.07 26.57 821.57 27.34 803.21 27.73 739.56 28.33 672.84 28.33 672.84 11.16zM1156.37 74.19L1167.48 74.19 1167.48 82.59 1156.37 82.59 1156.15 82.44 1156.14 74.35z" style="fill: #b5b5b5"/>

<path d="M673.51 11.16L1167.48 11.16 1167.48 24.9 906.37 24.62 739.56 27.32 672.84 27.32 672.84 11.16zM1156.37 74.2L1167.48 74.2 1167.48 82.58 1156.37 82.58 1156.16 82.44 1156.15 74.35z" style="fill: #b9b9b9"/>

<path d="M673.51 11.16L1167.48 11.16 1167.48 24.38 906.37 24.24 868.23 24.64 739.56 26.6 672.84 26.6 672.84 11.16zM1156.37 74.21L1167.48 74.21 1167.48 82.57 1156.37 82.57 1156.17 82.44 1156.17 74.35z" style="fill: #bebebe"/>

<path d="M673.51 11.16L1167.48 11.16 1167.48 24.08 906.37 23.99 832.69 24.64 739.56 25.93 672.84 25.93 672.84 11.16zM1156.37 74.22L1167.48 74.22 1167.48 82.56 1156.37 82.56 1156.19 82.44 1156.18 74.35z" style="fill: #c3c3c3"/>

<path d="M673.51 11.16L1167.48 11.16 1167.48 23.78 906.37 23.65 831.76 24.26 739.56 25.38 672.84 25.38 672.84 11.16zM1156.37 74.23L1167.48 74.23 1167.48 82.55 1156.2 82.44 1156.2 74.35z" style="fill: #c7c7c7"/>

<path d="M673.51 11.16L1167.48 11.16 1167.48 23.27 906.37 23.22 739.56 24.91 672.84 24.91 672.84 11.16zM1156.37 74.24L1167.48 74.24 1167.48 82.54 1156.22 82.44 1156.21 74.35z" style="fill: #cccccc"/>

<path d="M673.51 11.16L1167.48 11.16 1167.48 22.79 906.37 22.79 817.24 23.87 739.56 24.49 672.84 24.49 672.84 11.16zM1156.37 74.25L1167.48 74.25 1167.48 82.53 1156.23 82.44 1156.23 74.35z" style="fill: #d1d1d1"/>

<path d="M673.51 11.16L1167.48 11.16 1167.48 22.36 906.37 22.36 781.7 23.87 739.56 24.16 672.84 24.16 672.84 11.16zM1156.37 74.26L1167.48 74.26 1167.48 82.52 1156.25 82.44 1156.24 74.35z" style="fill: #d6d6d6"/>

<path d="M673.51 11.16L1167.48 11.16 1167.48 21.94 904.23 21.95 739.56 23.92 672.84 23.92 672.84 11.16zM1156.37 74.27L1167.48 74.27 1167.48 82.51 1156.26 82.44 1156.26 74.35z" style="fill: #dadada"/>

<path d="M673.51 11.16L1167.48 11.16 1167.48 21.78 906.37 21.78 739.56 23.78 672.84 23.78 672.84 11.16zM1156.37 74.28L1167.48 74.28 1167.48 82.5 1156.28 82.44 1156.27 74.35z" style="fill: #dfdfdf"/>

<path d="M673.51 11.16L1167.48 11.16 1167.48 21.63 906.37 21.63 739.56 23.67 672.84 23.67 672.84 11.16zM1156.37 74.29L1167.48 74.29 1167.48 82.49 1156.29 82.44 1156.29 74.35z" style="fill: #e4e4e4"/>

<path d="M673.51 11.16L1167.48 11.16 1167.48 21.51 906.37 21.51 739.56 23.56 672.84 23.56 672.84 11.16zM1156.37 74.3L1167.48 74.3 1167.48 82.48 1156.31 82.44 1156.3 74.35z" style="fill: #e8e8e8"/>

<path d="M673.51 11.16L1167.48 11.16 1167.48 21.43 906.37 21.43 739.56 23.46 672.84 23.46 672.84 11.16zM1156.37 74.31L1167.48 74.31 1167.48 82.47 1156.32 82.44 1156.32 74.35z" style="fill: #ededed"/>

<path d="M673.51 11.16L1167.48 11.16 1167.48 21.34 906.37 21.34 739.56 23.35 672.84 23.35 672.84 11.16zM1156.37 74.32L1167.48 74.32 1167.48 82.46 1156.33 82.44 1156.33 74.35z" style="fill: #f2f2f2"/>

<path d="M673.51 11.16L1167.48 11.16 1167.48 21.25 906.37 21.25 739.56 23.24 672.84 23.24 672.84 11.16zM1156.37 74.33L1167.48 74.33 1167.48 82.45 1156.35 82.44 1156.35 74.35z" style="fill: #f3f139"/>

<path d="M673.51 11.16L1167.48 11.16 1167.48 21.14 906.37 21.14 739.56 23.13 672.84 23.13 672.84 11.16zM1156.37 74.34L1167.48 74.34 1167.48 82.44 1156.36 82.44 1156.36 74.35z" style="fill: #f1ea36"/>

<path d="M673.51 11.16L1167.48 11.16 1167.48 20.86 906.37 20.86 739.56 22.89 672.84 22.89 672.84 11.16z" style="fill: #efe334"/>

<path d="M673.51 11.16L1167.48 11.16 1167.48 20.72 906.37 20.72 739.56 22.69 672.84 22.69 672.84 11.16z" style="fill: #eddc31"/>

<path d="M673.51 11.16L1167.48 11.16 1167.48 20.62 906.37 20.62 739.56 22.61 672.84 22.61 672.84 11.16z" style="fill: #ecd52f"/>

<path d="M673.51 11.16L1167.48 11.16 1167.48 20.52 906.37 20.52 739.56 22.54 672.84 22.54 672.84 11.16z" style="fill: #eace2c"/>

<path d="M673.51 11.16L1167.48 11.16 1167.48 20.42 906.37 20.42 739.56 22.46 672.84 22.46 672.84 11.16z" style="fill: #e8c72a"/>

<path d="M673.51 11.16L1167.48 11.16 1167.48 20.33 906.37 20.33 739.56 22.38 672.84 22.38 672.84 11.16z" style="fill: #e6c228"/>

<path d="M673.51 11.16L1167.48 11.16 1167.48 20.24 906.37 20.24 739.56 22.29 672.84 22.29 672.84 11.16z" style="fill: #e4bd26"/>

<path d="M673.51 11.16L1167.48 11.16 1167.48 20.15 906.37 20.15 739.56 22.15 672.84 22.15 672.84 11.16z" style="fill: #e2b824"/>

<path d="M673.51 11.16L1167.48 11.16 1167.48 20.06 899.7 20.08 883.26 20.41 859.66 20.51 851.98 20.79 826.3 20.92 819.63 21.19 799.61 21.26 789.02 21.56 739.56 22.01 672.84 22.01 672.84 11.16z" style="fill: #e0b322"/>

<path d="M673.51 11.16L852.16 11.16 739.56 12.53 672.84 12.53 672.84 11.16z" style="fill: #deae20"/>

</g>
<g id="matplotlib.axis_17"/>
<g id="matplotlib.axis_18">
<g id="ytick_85">
<g id="line2d_95">
<g>
<use href="#m5d545ce8f8" x="672.84" y="11.160" style="stroke: #000000; stroke-width: 0.8"/>
</g>
</g>
<g id="text_142">
<text style="font-size: 10px; font-family: 'DejaVu Sans', 'Liberation Sans', sans-serif; text-anchor: end" x="665.84" y="14.959">0</text>
</g>
</g>
<g id="ytick_86">
<g id="line2d_96">
<g>
<use href="#m5d545ce8f8" x="672.84" y="17.640" style="stroke: #000000; stroke-width: 0.8"/>
</g>
</g>
<g id="text_143">
<text style="font-size: 10px; font-family: 'DejaVu Sans', 'Liberation Sans', sans-serif; text-anchor: end" x="665.84" y="21.735">50</text>
</g>
</g>
<g id="ytick_87">
<g id="line2d_97">
<g>
<use href="#m5d545ce8f8" x="672.84" y="24.840" style="stroke: #000000; stroke-width: 0.8"/>
</g>
</g>
<g id="text_144">
<text style="font-size: 10px; font-family: 'DejaVu Sans', 'Liberation Sans', sans-serif; text-anchor: end" x="665.84" y="28.512">100</text>
</g>
</g>
<g id="ytick_88">
<g id="line2d_98">
<g>
<use href="#m5d545ce8f8" x="672.84" y="31.320" style="stroke: #000000; stroke-width: 0.8"/>
</g>
</g>
<g id="text_145">
<text style="font-size: 10px; font-family: 'DejaVu Sans', 'Liberation Sans', sans-serif; text-anchor: end" x="665.84" y="35.288">150</text>
</g>
</g>
<g id="ytick_89">
<g id="line2d_99">
<g>
<use href="#m5d545ce8f8" x="672.84" y="38.520" style="stroke: #000000; stroke-width: 0.8"/>
</g>
</g>
<g id="text_146">
<text style="font-size: 10px; font-family: 'DejaVu Sans', 'Liberation Sans', sans-serif; text-anchor: end" x="665.84" y="42.065">200</text>
</g>
</g>
<g id="ytick_90">
<g id="line2d_100">
<g>
<use href="#m5d545ce8f8" x="672.84" y="45.000" style="stroke: #000000; stroke-width: 0.8"/>
</g>
</g>
<g id="text_147">
<text style="font-size: 10px; font-family: 'DejaVu Sans', 'Liberation Sans', sans-serif; text-anchor: end" x="665.84" y="48.841">250</text>
</g>
</g>
<g id="ytick_91">
<g id="line2d_101">
<g>
<use href="#m5d545ce8f8" x="672.84" y="51.480" style="stroke: #000000; stroke-width: 0.8"/>
</g>
</g>
<g id="text_148">
<text style="font-size: 10px; font-family: 'DejaVu Sans', 'Liberation Sans', sans-serif; text-anchor: end" x="665.84" y="55.618">300</text>
</g>
</g>
<g id="ytick_92">
<g id="line2d_102">
<g>
<use href="#m5d545ce8f8" x="672.84" y="58.680" style="stroke: #000000; stroke-width: 0.8"/>
</g>
</g>
<g id="text_149">
<text style="font-size: 10px; font-family: 'DejaVu Sans', 'Liberation Sans', sans-serif; text-anchor: end" x="665.84" y="62.394">350</text>
</g>
</g>
<g id="ytick_93">
<g id="line2d_103">
<g>
<use href="#m5d545ce8f8" x="672.84" y="65.160" style="stroke: #000000; stroke-width: 0.8"/>
</g>
</g>
<g id="text_150">
<text style="font-size: 10px; font-family: 'DejaVu Sans', 'Liberation Sans', sans-serif; text-anchor: end" x="665.84" y="69.170">400</text>
</g>
</g>
<g id="ytick_94">
<g id="line2d_104">
<g>
<use href="#m5d545ce8f8" x="672.84" y="72.360" style="stroke: #000000; stroke-width: 0.8"/>
</g>
</g>
<g id="text_151">
<text style="font-size: 10px; font-family: 'DejaVu Sans', 'Liberation Sans', sans-serif; text-anchor: end" x="665.84" y="75.947">450</text>
</g>
</g>
<g id="ytick_95">
<g id="line2d_105">
<g>
<use href="#m5d545ce8f8" x="672.84" y="78.840" style="stroke: #000000; stroke-width: 0.8"/>
</g>
</g>
<g id="text_152">
<text style="font-size: 10px; font-family: 'DejaVu Sans', 'Liberation Sans', sans-serif; text-anchor: end" x="665.84" y="82.723">500</text>
</g>
</g>
<g id="ytick_96">
<g id="line2d_106">
<g>
<use href="#m5d545ce8f8" x="672.84" y="86.040" style="stroke: #000000; stroke-width: 0.8"/>
</g>
</g>
<g id="text_153">
<text style="font-size: 10px; font-family: 'DejaVu Sans', 'Liberation Sans', sans-serif; text-anchor: end" x="665.84" y="89.500">550</text>
</g>
</g>
<g id="ytick_97">
<g id="line2d_107">
<g>
<use href="#m5d545ce8f8" x="672.84" y="92.520" style="stroke: #000000; stroke-width: 0.8"/>
</g>
</g>
<g id="text_154">
<text style="font-size: 10px; font-family: 'DejaVu Sans', 'Liberation Sans', sans-serif; text-anchor: end" x="665.84" y="96.276">600</text>
</g>
</g>
<g id="ytick_98">
<g id="line2d_108">
<g>
<use href="#m5d545ce8f8" x="672.84" y="99.000" style="stroke: #000000; stroke-width: 0.8"/>
</g>
</g>
<g id="text_155">
<text style="font-size: 10px; font-family: 'DejaVu Sans', 'Liberation Sans', sans-serif; text-anchor: end" x="665.84" y="103.053">650</text>
</g>
</g>
<g id="ytick_99">
<g id="line2d_109">
<g>
<use href="#m5d545ce8f8" x="672.84" y="106.200" style="stroke: #000000; stroke-width: 0.8"/>
</g>
</g>
<g id="text_156">
<text style="font-size: 10px; font-family: 'DejaVu Sans', 'Liberation Sans', sans-serif; text-anchor: end" x="665.84" y="109.829">700</text>
</g>
</g>
<g id="ytick_100">
<g id="line2d_110">
<g>
<use href="#m5d545ce8f8" x="672.84" y="112.680" style="stroke: #000000; stroke-width: 0.8"/>
</g>
</g>
<g id="text_157">
<text style="font-size: 10px; font-family: 'DejaVu Sans', 'Liberation Sans', sans-serif; text-anchor: end" x="665.84" y="116.606">750</text>
</g>
</g>
<g id="ytick_101">
<g id="line2d_111">
<g>
<use href="#m5d545ce8f8" x="672.84" y="119.880" style="stroke: #000000; stroke-width: 0.8"/>
</g>
</g>
<g id="text_158">
<text style="font-size: 10px; font-family: 'DejaVu Sans', 'Liberation Sans', sans-serif; text-anchor: end" x="665.84" y="123.382">800</text>
</g>
</g>
<g id="ytick_102">
<g id="line2d_112">
<g>
<use href="#m5d545ce8f8" x="672.84" y="126.360" style="stroke: #000000; stroke-width: 0.8"/>
</g>
</g>
<g id="text_159">
<text style="font-size: 10px; font-family: 'DejaVu Sans', 'Liberation Sans', sans-serif; text-anchor: end" x="665.84" y="130.159">850</text>
</g>
</g>
<g id="text_160">
<text style="font-size: 10px; font-family: 'DejaVu Sans', 'Liberation Sans', sans-serif; text-anchor: middle" x="639.172" y="68.76" transform="rotate(-90 639.172 68.76)">Depth (m)</text>
</g>
</g>
<g id="patch_47">
<path d="M672.84 126.36L672.84 11.16" style="fill: none; stroke: #000000; stroke-width: 0.8; stroke-linejoin: miter; stroke-linecap: square"/>
</g>
<g id="patch_48">
<path d="M1168.2 126.36L1168.2 11.16" style="fill: none; stroke: #000000; stroke-width: 0.8; stroke-linejoin: miter; stroke-linecap: square"/>
</g>
<g id="patch_49">
<path d="M672.84 126.36L1168.2 126.36" style="fill: none; stroke: #000000; stroke-width: 0.8; stroke-linejoin: miter; stroke-linecap: square"/>
</g>
<g id="patch_50">
<path d="M672.84 11.16L1168.2 11.16" style="fill: none; stroke: #000000; stroke-width: 0.8; stroke-linejoin: miter; stroke-linecap: square"/>
</g>
<g id="text_161">
<text style="font-weight: 700; font-size: 7px; font-family: 'DejaVu Sans', 'Liberation Sans', sans-serif; text-anchor: middle" x="1163.783" y="43.450">9</text>
</g>
<g id="text_162">
<text style="font-weight: 700; font-size: 7px; font-family: 'DejaVu Sans', 'Liberation Sans', sans-serif; text-anchor: middle" x="1159.246" y="56.596">8</text>
</g>
<g id="text_163">
<text style="font-weight: 700; font-size: 7px; font-family: 'DejaVu Sans', 'Liberation Sans', sans-serif; text-anchor: middle" x="1158.712" y="69.742">7</text>
</g>
<g id="text_164">
<text style="font-weight: 700; font-size: 7px; font-family: 'DejaVu Sans', 'Liberation Sans', sans-serif; text-anchor: middle" x="1158.712" y="77.061">6</text>
</g>
<g id="text_165">
<text style="font-weight: 700; font-size: 7px; font-family: 'DejaVu Sans', 'Liberation Sans', sans-serif; text-anchor: middle" x="1158.712" y="83.295">5</text>
</g>
<g id="text_166">
<text style="font-weight: 700; font-size: 7px; font-family: 'DejaVu Sans', 'Liberation Sans', sans-serif; text-anchor: middle" x="1158.712" y="90.207">4</text>
</g>
<g id="text_167">
<text style="font-weight: 700; font-size: 7px; font-family: 'DejaVu Sans', 'Liberation Sans', sans-serif; text-anchor: middle" x="1158.712" y="96.984">3</text>
</g>
<g id="text_168">
<text style="font-weight: 700; font-size: 7px; font-family: 'DejaVu Sans', 'Liberation Sans', sans-serif; text-anchor: middle" x="1158.712" y="117.313">2</text>
</g>
<g id="text_169">
<text style="font-weight: 700; font-size: 7px; font-family: 'DejaVu Sans', 'Liberation Sans', sans-serif; text-anchor: middle" x="1158.712" y="124.496">1</text>
</g>
<g id="text_170">
<text style="font-weight: 700; font-size: 7px; font-family: 'DejaVu Sans', 'Liberation Sans', sans-serif; text-anchor: middle" x="1158.712" y="131.815">0</text>
</g>
</g>
<g id="axes_10">
<g id="patch_51">
<path d="M1198.44 126.36L1204.2 126.36 1204.2 11.16 1198.44 11.16 1198.44 126.36z" style="fill: none"/>
</g>
<g id="grad_oxy">
<path d="M1198.44 121.12L1204.2 121.12 1204.2 16.4 1198.44 16.4z" clip-path="url(#pfceeb5a7d8)" style="fill: url(#lg_oxy)"/>
</g>
<g id="patch_52">
<path d="M1198.44 119.87L1204.2 119.87 1201.32 126.36z" style="fill: #3a0404"/>
</g>
<g id="patch_53">
<path d="M1198.44 17.65L1204.2 17.65 1201.32 11.16z" style="fill: #dca81e"/>
</g>
<g id="matplotlib.axis_19"/>
<g id="matplotlib.axis_20">
<g id="ytick_103">
<g id="line2d_113">
<g>
<use href="#m33c4ce201d" x="1204.2" y="16.200" style="stroke: #000000; stroke-width: 0.8"/>
</g>
</g>
<g id="text_171">
<text style="font-size: 10px; font-family: 'DejaVu Sans', 'Liberation Sans', sans-serif; text-anchor: start" x="1211.2" y="20.195">2.5</text>
</g>
</g>
<g id="ytick_104">
<g id="line2d_114">
<g>
<use href="#m33c4ce201d" x="1204.2" y="70.920" style="stroke: #000000; stroke-width: 0.8"/>
</g>
</g>
<g id="text_172">
<text style="font-size: 10px; font-family: 'DejaVu Sans', 'Liberation Sans', sans-serif; text-anchor: start" x="1211.2" y="74.653">1.2</text>
</g>
</g>
<g id="ytick_105">
<g id="line2d_115">
<g>
<use href="#m33c4ce201d" x="1204.2" y="121.320" style="stroke: #000000; stroke-width: 0.8"/>
</g>
</g>
<g id="text_173">
<text style="font-size: 10px; font-family: 'DejaVu Sans', 'Liberation Sans', sans-serif; text-anchor: start" x="1211.2" y="124.922">0.0</text>
</g>
</g>
<g id="text_174">
<text style="font-size: 9px; font-family: 'DejaVu Sans', 'Liberation Sans', sans-serif; text-anchor: middle" x="1237.941" y="68.76" transform="rotate(-90 1237.941 68.76)">Dissolved Oxygen [ml/l]</text>
</g>
</g>
<g id="patch_54">
<path d="M1198.44 121.12L1201.32 126.36 1204.2 121.12 1204.2 16.4 1201.32 11.16 1198.44 16.4 1198.44 121.12z" style="fill: none; stroke: #000000; stroke-width: 0.8; stroke-linejoin: miter"/>
</g>
</g>
<g id="axes_11">
<g id="patch_55">
<path d="M672.84 259.56L1168.2 259.56 1168.2 144.36 672.84 144.36z" style="fill: #ffffff"/>
</g>
<g id="matplotlib.axis_21"/>
<g id="matplotlib.axis_22">
<g id="ytick_106">
<g id="line2d_116">
<g>
<use href="#m5d545ce8f8" x="672.84" y="144.360" style="stroke: #000000; stroke-width: 0.8"/>
</g>
</g>
<g id="text_175">
<text style="font-size: 10px; font-family: 'DejaVu Sans', 'Liberation Sans', sans-serif; text-anchor: end" x="665.84" y="148.159">0</text>
</g>
</g>
<g id="ytick_107">
<g id="line2d_117">
<g>
<use href="#m5d545ce8f8" x="672.84" y="150.840" style="stroke: #000000; stroke-width: 0.8"/>
</g>
</g>
<g id="text_176">
<text style="font-size: 10px; font-family: 'DejaVu Sans', 'Liberation Sans', sans-serif; text-anchor: end" x="665.84" y="154.935">50</text>
</g>
</g>
<g id="ytick_108">
<g id="line2d_118">
<g>
<use href="#m5d545ce8f8" x="672.84" y="158.040" style="stroke: #000000; stroke-width: 0.8"/>
</g>
</g>
<g id="text_177">
<text style="font-size: 10px; font-family: 'DejaVu Sans', 'Liberation Sans', sans-serif; text-anchor: end" x="665.84" y="161.712">100</text>
</g>
</g>
<g id="ytick_109">
<g id="line2d_119">
<g>
<use href="#m5d545ce8f8" x="672.84" y="164.520" style="stroke: #000000; stroke-width: 0.8"/>
</g>
</g>
<g id="text_178">
<text style="font-size: 10px; font-family: 'DejaVu Sans', 'Liberation Sans', sans-serif; text-anchor: end" x="665.84" y="168.488">150</text>
</g>
</g>
<g id="ytick_110">
<g id="line2d_120">
<g>
<use href="#m5d545ce8f8" x="672.84" y="171.720" style="stroke: #000000; stroke-width: 0.8"/>
</g>
</g>
<g id="text_179">
<text style="font-size: 10px; font-family: 'DejaVu Sans', 'Liberation Sans', sans-serif; text-anchor: end" x="665.84" y="175.265">200</text>
</g>
</g>
<g id="ytick_111">
<g id="line2d_121">
<g>
<use href="#m5d545ce8f8" x="672.84" y="178.200" style="stroke: #000000; stroke-width: 0.8"/>
</g>
</g>
<g id="text_180">
<text style="font-size: 10px; font-family: 'DejaVu Sans', 'Liberation Sans', sans-serif; text-anchor: end" x="665.84" y="182.041">250</text>
</g>
</g>
<g id="ytick_112">
<g id="line2d_122">
<g>
<use href="#m5d545ce8f8" x="672.84" y="184.680" style="stroke: #000000; stroke-width: 0.8"/>
</g>
</g>
<g id="text_181">
<text style="font-size: 10px; font-family: 'DejaVu Sans', 'Liberation Sans', sans-serif; text-anchor: end" x="665.84" y="188.818">300</text>
</g>
</g>
<g id="ytick_113">
<g id="line2d_123">
<g>
<use href="#m5d545ce8f8" x="672.84" y="191.880" style="stroke: #000000; stroke-width: 0.8"/>
</g>
</g>
<g id="text_182">
<text style="font-size: 10px; font-family: 'DejaVu Sans', 'Liberation Sans', sans-serif; text-anchor: end" x="665.84" y="195.594">350</text>
</g>
</g>
<g id="ytick_114">
<g id="line2d_124">
<g>
<use href="#m5d545ce8f8" x="672.84" y="198.360" style="stroke: #000000; stroke-width: 0.8"/>
</g>
</g>
<g id="text_183">
<text style="font-size: 10px; font-family: 'DejaVu Sans', 'Liberation Sans', sans-serif; text-anchor: end" x="665.84" y="202.370">400</text>
</g>
</g>
<g id="ytick_115">
<g id="line2d_125">
<g>
<use href="#m5d545ce8f8" x="672.84" y="205.560" style="stroke: #000000; stroke-width: 0.8"/>
</g>
</g>
<g id="text_184">
<text style="font-size: 10px; font-family: 'DejaVu Sans', 'Liberation Sans', sans-serif; text-anchor: end" x="665.84" y="209.147">450</text>
</g>
</g>
<g id="ytick_116">
<g id="line2d_126">
<g>
<use href="#m5d545ce8f8" x="672.84" y="212.040" style="stroke: #000000; stroke-width: 0.8"/>
</g>
</g>
<g id="text_185">
<text style="font-size: 10px; font-family: 'DejaVu Sans', 'Liberation Sans', sans-serif; text-anchor: end" x="665.84" y="215.923">500</text>
</g>
</g>
<g id="ytick_117">
<g id="line2d_127">
<g>
<use href="#m5d545ce8f8" x="672.84" y="219.240" style="stroke: #000000; stroke-width: 0.8"/>
</g>
</g>
<g id="text_186">
<text style="font-size: 10px; font-family: 'DejaVu Sans', 'Liberation Sans', sans-serif; text-anchor: end" x="665.84" y="222.700">550</text>
</g>
</g>
<g id="ytick_118">
<g id="line2d_128">
<g>
<use href="#m5d545ce8f8" x="672.84" y="225.720" style="stroke: #000000; stroke-width: 0.8"/>
</g>
</g>
<g id="text_187">
<text style="font-size: 10px; font-family: 'DejaVu Sans', 'Liberation Sans', sans-serif; text-anchor: end" x="665.84" y="229.476">600</text>
</g>
</g>
<g id="ytick_119">
<g id="line2d_129">
<g>
<use href="#m5d545ce8f8" x="672.84" y="232.200" style="stroke: #000000; stroke-width: 0.8"/>
</g>
</g>
<g id="text_188">
<text style="font-size: 10px; font-family: 'DejaVu Sans', 'Liberation Sans', sans-serif; text-anchor: end" x="665.84" y="236.253">650</text>
</g>
</g>
<g id="ytick_120">
<g id="line2d_130">
<g>
<use href="#m5d545ce8f8" x="672.84" y="239.400" style="stroke: #000000; stroke-width: 0.8"/>
</g>
</g>
<g id="text_189">
<text style="font-size: 10px; font-family: 'DejaVu Sans', 'Liberation Sans', sans-serif; text-anchor: end" x="665.84" y="243.029">700</text>
</g>
</g>
<g id="ytick_121">
<g id="line2d_131">
<g>
<use href="#m5d545ce8f8" x="672.84" y="245.880" style="stroke: #000000; stroke-width: 0.8"/>
</g>
</g>
<g id="text_190">
<text style="font-size: 10px; font-family: 'DejaVu Sans', 'Liberation Sans', sans-serif; text-anchor: end" x="665.84" y="249.806">750</text>
</g>
</g>
<g id="ytick_122">
<g id="line2d_132">
<g>
<use href="#m5d545ce8f8" x="672.84" y="253.080" style="stroke: #000000; stroke-width: 0.8"/>
</g>
</g>
<g id="text_191">
<text style="font-size: 10px; font-family: 'DejaVu Sans', 'Liberation Sans', sans-serif; text-anchor: end" x="665.84" y="256.582">800</text>
</g>
</g>
<g id="ytick_123">
<g id="line2d_133">
<g>
<use href="#m5d545ce8f8" x="672.84" y="259.560" style="stroke: #000000; stroke-width: 0.8"/>
</g>
</g>
<g id="text_192">
<text style="font-size: 10px; font-family: 'DejaVu Sans', 'Liberation Sans', sans-serif; text-anchor: end" x="665.84" y="263.359">850</text>
</g>
</g>
</g>
<g id="patch_56">
<path d="M672.84 259.56L672.84 144.36" style="fill: none; stroke: #000000; stroke-width: 0.8; stroke-linejoin: miter; stroke-linecap: square"/>
</g>
<g id="patch_57">
<path d="M1168.2 259.56L1168.2 144.36" style="fill: none; stroke: #000000; stroke-width: 0.8; stroke-linejoin: miter; stroke-linecap: square"/>
</g>
<g id="patch_58">
<path d="M672.84 259.56L1168.2 259.56" style="fill: none; stroke: #000000; stroke-width: 0.8; stroke-linejoin: miter; stroke-linecap: square"/>
</g>
<g id="patch_59">
<path d="M672.84 144.36L1168.2 144.36" style="fill: none; stroke: #000000; stroke-width: 0.8; stroke-linejoin: miter; stroke-linecap: square"/>
</g>
<g id="text_193">
<text style="font-weight: 700; font-size: 14px; font-family: 'DejaVu Sans', 'Liberation Sans', sans-serif; text-anchor: middle" x="920.52" y="206.395">No Data</text>
</g>
</g>
<g id="axes_12">
<g id="patch_60">
<path d="M1198.8 259.56L1204.56 259.56 1204.56 144.36 1198.8 144.36 1198.8 259.56z" style="fill: none"/>
</g>
<g id="grad_gray1">
<path d="M1198.8 259.56L1204.56 259.56 1204.56 144.36 1198.8 144.36z" clip-path="url(#p3a60b7a52f)" style="fill: url(#lg_gray1)"/>
</g>
<g id="matplotlib.axis_23"/>
<g id="matplotlib.axis_24">
<g id="text_194">
<text style="font-size: 9px; font-family: 'DejaVu Sans', 'Liberation Sans', sans-serif; text-anchor: middle" x="1216.366" y="203.832" transform="rotate(-90 1216.366 203.832)">Bbp420</text>
</g>
</g>
</g>
<g id="axes_13">
<g id="patch_61">
<path d="M672.84 392.76L1168.2 392.76 1168.2 276.84 672.84 276.84z" style="fill: #ffffff"/>
</g>
<g id="matplotlib.axis_25"/>
<g id="matplotlib.axis_26">
<g id="ytick_124">
<g id="line2d_134">
<g>
<use href="#m5d545ce8f8" x="672.84" y="276.840" style="stroke: #000000; stroke-width: 0.8"/>
</g>
</g>
<g id="text_195">
<text style="font-size: 10px; font-family: 'DejaVu Sans', 'Liberation Sans', sans-serif; text-anchor: end" x="665.84" y="280.639">0</text>
</g>
</g>
<g id="ytick_125">
<g id="line2d_135">
<g>
<use href="#m5d545ce8f8" x="672.84" y="283.320" style="stroke: #000000; stroke-width: 0.8"/>
</g>
</g>
<g id="text_196">
<text style="font-size: 10px; font-family: 'DejaVu Sans', 'Liberation Sans', sans-serif; text-anchor: end" x="665.84" y="287.458">50</text>
</g>
</g>
<g id="ytick_126">
<g id="line2d_136">
<g>
<use href="#m5d545ce8f8" x="672.84" y="290.520" style="stroke: #000000; stroke-width: 0.8"/>
</g>
</g>
<g id="text_197">
<text style="font-size: 10px; font-family: 'DejaVu Sans', 'Liberation Sans', sans-serif; text-anchor: end" x="665.84" y="294.276">100</text>
</g>
</g>
<g id="ytick_127">
<g id="line2d_137">
<g>
<use href="#m5d545ce8f8" x="672.84" y="297.000" style="stroke: #000000; stroke-width: 0.8"/>
</g>
</g>
<g id="text_198">
<text style="font-size: 10px; font-family: 'DejaVu Sans', 'Liberation Sans', sans-serif; text-anchor: end" x="665.84" y="301.095">150</text>
</g>
</g>
<g id="ytick_128">
<g id="line2d_138">
<g>
<use href="#m5d545ce8f8" x="672.84" y="304.200" style="stroke: #000000; stroke-width: 0.8"/>
</g>
</g>
<g id="text_199">
<text style="font-size: 10px; font-family: 'DejaVu Sans', 'Liberation Sans', sans-serif; text-anchor: end" x="665.84" y="307.914">200</text>
</g>
</g>
<g id="ytick_129">
<g id="line2d_139">
<g>
<use href="#m5d545ce8f8" x="672.84" y="310.680" style="stroke: #000000; stroke-width: 0.8"/>
</g>
</g>
<g id="text_200">
<text style="font-size: 10px; font-family: 'DejaVu Sans', 'Liberation Sans', sans-serif; text-anchor: end" x="665.84" y="314.733">250</text>
</g>
</g>
<g id="ytick_130">
<g id="line2d_140">
<g>
<use href="#m5d545ce8f8" x="672.84" y="317.880" style="stroke: #000000; stroke-width: 0.8"/>
</g>
</g>
<g id="text_201">
<text style="font-size: 10px; font-family: 'DejaVu Sans', 'Liberation Sans', sans-serif; text-anchor: end" x="665.84" y="321.552">300</text>
</g>
</g>
<g id="ytick_131">
<g id="line2d_141">
<g>
<use href="#m5d545ce8f8" x="672.84" y="324.360" style="stroke: #000000; stroke-width: 0.8"/>
</g>
</g>
<g id="text_202">
<text style="font-size: 10px; font-family: 'DejaVu Sans', 'Liberation Sans', sans-serif; text-anchor: end" x="665.84" y="328.370">350</text>
</g>
</g>
<g id="ytick_132">
<g id="line2d_142">
<g>
<use href="#m5d545ce8f8" x="672.84" y="331.560" style="stroke: #000000; stroke-width: 0.8"/>
</g>
</g>
<g id="text_203">
<text style="font-size: 10px; font-family: 'DejaVu Sans', 'Liberation Sans', sans-serif; text-anchor: end" x="665.84" y="335.189">400</text>
</g>
</g>
<g id="ytick_133">
<g id="line2d_143">
<g>
<use href="#m5d545ce8f8" x="672.84" y="338.040" style="stroke: #000000; stroke-width: 0.8"/>
</g>
</g>
<g id="text_204">
<text style="font-size: 10px; font-family: 'DejaVu Sans', 'Liberation Sans', sans-serif; text-anchor: end" x="665.84" y="342.008">450</text>
</g>
</g>
<g id="ytick_134">
<g id="line2d_144">
<g>
<use href="#m5d545ce8f8" x="672.84" y="345.240" style="stroke: #000000; stroke-width: 0.8"/>
</g>
</g>
<g id="text_205">
<text style="font-size: 10px; font-family: 'DejaVu Sans', 'Liberation Sans', sans-serif; text-anchor: end" x="665.84" y="348.827">500</text>
</g>
</g>
<g id="ytick_135">
<g id="line2d_145">
<g>
<use href="#m5d545ce8f8" x="672.84" y="351.720" style="stroke: #000000; stroke-width: 0.8"/>
</g>
</g>
<g id="text_206">
<text style="font-size: 10px; font-family: 'DejaVu Sans', 'Liberation Sans', sans-serif; text-anchor: end" x="665.84" y="355.646">550</text>
</g>
</g>
<g id="ytick_136">
<g id="line2d_146">
<g>
<use href="#m5d545ce8f8" x="672.84" y="358.920" style="stroke: #000000; stroke-width: 0.8"/>
</g>
</g>
<g id="text_207">
<text style="font-size: 10px; font-family: 'DejaVu Sans', 'Liberation Sans', sans-serif; text-anchor: end" x="665.84" y="362.465">600</text>
</g>
</g>
<g id="ytick_137">
<g id="line2d_147">
<g>
<use href="#m5d545ce8f8" x="672.84" y="365.400" style="stroke: #000000; stroke-width: 0.8"/>
</g>
</g>
<g id="text_208">
<text style="font-size: 10px; font-family: 'DejaVu Sans', 'Liberation Sans', sans-serif; text-anchor: end" x="665.84" y="369.283">650</text>
</g>
</g>
<g id="ytick_138">
<g id="line2d_148">
<g>
<use href="#m5d545ce8f8" x="672.84" y="372.600" style="stroke: #000000; stroke-width: 0.8"/>
</g>
</g>
<g id="text_209">
<text style="font-size: 10px; font-family: 'DejaVu Sans', 'Liberation Sans', sans-serif; text-anchor: end" x="665.84" y="376.102">700</text>
</g>
</g>
<g id="ytick_139">
<g id="line2d_149">
<g>
<use href="#m5d545ce8f8" x="672.84" y="379.080" style="stroke: #000000; stroke-width: 0.8"/>
</g>
</g>
<g id="text_210">
<text style="font-size: 10px; font-family: 'DejaVu Sans', 'Liberation Sans', sans-serif; text-anchor: end" x="665.84" y="382.921">750</text>
</g>
</g>
<g id="ytick_140">
<g id="line2d_150">
<g>
<use href="#m5d545ce8f8" x="672.84" y="386.280" style="stroke: #000000; stroke-width: 0.8"/>
</g>
</g>
<g id="text_211">
<text style="font-size: 10px; font-family: 'DejaVu Sans', 'Liberation Sans', sans-serif; text-anchor: end" x="665.84" y="389.740">800</text>
</g>
</g>
<g id="ytick_141">
<g id="line2d_151">
<g>
<use href="#m5d545ce8f8" x="672.84" y="392.760" style="stroke: #000000; stroke-width: 0.8"/>
</g>
</g>
<g id="text_212">
<text style="font-size: 10px; font-family: 'DejaVu Sans', 'Liberation Sans', sans-serif; text-anchor: end" x="665.84" y="396.559">850</text>
</g>
</g>
</g>
<g id="patch_62">
<path d="M672.84 392.76L672.84 276.84" style="fill: none; stroke: #000000; stroke-width: 0.8; stroke-linejoin: miter; stroke-linecap: square"/>
</g>
<g id="patch_63">
<path d="M1168.2 392.76L1168.2 276.84" style="fill: none; stroke: #000000; stroke-width: 0.8; stroke-linejoin: miter; stroke-linecap: square"/>
</g>
<g id="patch_64">
<path d="M672.84 392.76L1168.2 392.76" style="fill: none; stroke: #000000; stroke-width: 0.8; stroke-linejoin: miter; stroke-linecap: square"/>
</g>
<g id="patch_65">
<path d="M672.84 276.84L1168.2 276.84" style="fill: none; stroke: #000000; stroke-width: 0.8; stroke-linejoin: miter; stroke-linecap: square"/>
</g>
<g id="text_213">
<text style="font-weight: 700; font-size: 14px; font-family: 'DejaVu Sans', 'Liberation Sans', sans-serif; text-anchor: middle" x="920.52" y="339.239">No Data</text>
</g>
</g>
<g id="axes_14">
<g id="patch_66">
<path d="M1198.8 392.76L1204.56 392.76 1204.56 276.84 1198.8 276.84 1198.8 392.76z" style="fill: none"/>
</g>
<g id="grad_gray2">
<path d="M1198.8 392.76L1204.56 392.76 1204.56 276.84 1198.8 276.84z" clip-path="url(#p03b93ef2d0)" style="fill: url(#lg_gray2)"/>
</g>
<g id="matplotlib.axis_27"/>
<g id="matplotlib.axis_28">
<g id="text_214">
<text style="font-size: 9px; font-family: 'DejaVu Sans', 'Liberation Sans', sans-serif; text-anchor: middle" x="1216.366" y="336.672" transform="rotate(-90 1216.366 336.672)">Bbp700</text>
</g>
</g>
</g>
<g id="axes_15">
<g id="patch_67">
<path d="M672.84 525.96L1168.2 525.96 1168.2 410.04 672.84 410.04z" style="fill: #ffffff"/>
</g>
<g id="matplotlib.axis_29"/>
<g id="matplotlib.axis_30">
<g id="ytick_142">
<g id="line2d_152">
<g>
<use href="#m5d545ce8f8" x="672.84" y="410.040" style="stroke: #000000; stroke-width: 0.8"/>
</g>
</g>
<g id="text_215">
<text style="font-size: 10px; font-family: 'DejaVu Sans', 'Liberation Sans', sans-serif; text-anchor: end" x="665.84" y="413.839">0</text>
</g>
</g>
<g id="ytick_143">
<g id="line2d_153">
<g>
<use href="#m5d545ce8f8" x="672.84" y="416.520" style="stroke: #000000; stroke-width: 0.8"/>
</g>
</g>
<g id="text_216">
<text style="font-size: 10px; font-family: 'DejaVu Sans', 'Liberation Sans', sans-serif; text-anchor: end" x="665.84" y="420.658">50</text>
</g>
</g>
<g id="ytick_144">
<g id="line2d_154">
<g>
<use href="#m5d545ce8f8" x="672.84" y="423.720" style="stroke: #000000; stroke-width: 0.8"/>
</g>
</g>
<g id="text_217">
<text style="font-size: 10px; font-family: 'DejaVu Sans', 'Liberation Sans', sans-serif; text-anchor: end" x="665.84" y="427.476">100</text>
</g>
</g>
<g id="ytick_145">
<g id="line2d_155">
<g>
<use href="#m5d545ce8f8" x="672.84" y="430.200" style="stroke: #000000; stroke-width: 0.8"/>
</g>
</g>
<g id="text_218">
<text style="font-size: 10px; font-family: 'DejaVu Sans', 'Liberation Sans', sans-serif; text-anchor: end" x="665.84" y="434.295">150</text>
</g>
</g>
<g id="ytick_146">
<g id="line2d_156">
<g>
<use href="#m5d545ce8f8" x="672.84" y="437.400" style="stroke: #000000; stroke-width: 0.8"/>
</g>
</g>
<g id="text_219">
<text style="font-size: 10px; font-family: 'DejaVu Sans', 'Liberation Sans', sans-serif; text-anchor: end" x="665.84" y="441.114">200</text>
</g>
</g>
<g id="ytick_147">
<g id="line2d_157">
<g>
<use href="#m5d545ce8f8" x="672.84" y="443.880" style="stroke: #000000; stroke-width: 0.8"/>
</g>
</g>
<g id="text_220">
<text style="font-size: 10px; font-family: 'DejaVu Sans', 'Liberation Sans', sans-serif; text-anchor: end" x="665.84" y="447.933">250</text>
</g>
</g>
<g id="ytick_148">
<g id="line2d_158">
<g>
<use href="#m5d545ce8f8" x="672.84" y="451.080" style="stroke: #000000; stroke-width: 0.8"/>
</g>
</g>
<g id="text_221">
<text style="font-size: 10px; font-family: 'DejaVu Sans', 'Liberation Sans', sans-serif; text-anchor: end" x="665.84" y="454.752">300</text>
</g>
</g>
<g id="ytick_149">
<g id="line2d_159">
<g>
<use href="#m5d545ce8f8" x="672.84" y="457.560" style="stroke: #000000; stroke-width: 0.8"/>
</g>
</g>
<g id="text_222">
<text style="font-size: 10px; font-family: 'DejaVu Sans', 'Liberation Sans', sans-serif; text-anchor: end" x="665.84" y="461.570">350</text>
</g>
</g>
<g id="ytick_150">
<g id="line2d_160">
<g>
<use href="#m5d545ce8f8" x="672.84" y="464.760" style="stroke: #000000; stroke-width: 0.8"/>
</g>
</g>
<g id="text_223">
<text style="font-size: 10px; font-family: 'DejaVu Sans', 'Liberation Sans', sans-serif; text-anchor: end" x="665.84" y="468.389">400</text>
</g>
</g>
<g id="ytick_151">
<g id="line2d_161">
<g>
<use href="#m5d545ce8f8" x="672.84" y="471.240" style="stroke: #000000; stroke-width: 0.8"/>
</g>
</g>
<g id="text_224">
<text style="font-size: 10px; font-family: 'DejaVu Sans', 'Liberation Sans', sans-serif; text-anchor: end" x="665.84" y="475.208">450</text>
</g>
</g>
<g id="ytick_152">
<g id="line2d_162">
<g>
<use href="#m5d545ce8f8" x="672.84" y="478.440" style="stroke: #000000; stroke-width: 0.8"/>
</g>
</g>
<g id="text_225">
<text style="font-size: 10px; font-family: 'DejaVu Sans', 'Liberation Sans', sans-serif; text-anchor: end" x="665.84" y="482.027">500</text>
</g>
</g>
<g id="ytick_153">
<g id="line2d_163">
<g>
<use href="#m5d545ce8f8" x="672.84" y="484.920" style="stroke: #000000; stroke-width: 0.8"/>
</g>
</g>
<g id="text_226">
<text style="font-size: 10px; font-family: 'DejaVu Sans', 'Liberation Sans', sans-serif; text-anchor: end" x="665.84" y="488.846">550</text>
</g>
</g>
<g id="ytick_154">
<g id="line2d_164">
<g>
<use href="#m5d545ce8f8" x="672.84" y="492.120" style="stroke: #000000; stroke-width: 0.8"/>
</g>
</g>
<g id="text_227">
<text style="font-size: 10px; font-family: 'DejaVu Sans', 'Liberation Sans', sans-serif; text-anchor: end" x="665.84" y="495.665">600</text>
</g>
</g>
<g id="ytick_155">
<g id="line2d_165">
<g>
<use href="#m5d545ce8f8" x="672.84" y="498.600" style="stroke: #000000; stroke-width: 0.8"/>
</g>
</g>
<g id="text_228">
<text style="font-size: 10px; font-family: 'DejaVu Sans', 'Liberation Sans', sans-serif; text-anchor: end" x="665.84" y="502.483">650</text>
</g>
</g>
<g id="ytick_156">
<g id="line2d_166">
<g>
<use href="#m5d545ce8f8" x="672.84" y="505.800" style="stroke: #000000; stroke-width: 0.8"/>
</g>
</g>
<g id="text_229">
<text style="font-size: 10px; font-family: 'DejaVu Sans', 'Liberation Sans', sans-serif; text-anchor: end" x="665.84" y="509.302">700</text>
</g>
</g>
<g id="ytick_157">
<g id="line2d_167">
<g>
<use href="#m5d545ce8f8" x="672.84" y="512.280" style="stroke: #000000; stroke-width: 0.8"/>
</g>
</g>
<g id="text_230">
<text style="font-size: 10px; font-family: 'DejaVu Sans', 'Liberation Sans', sans-serif; text-anchor: end" x="665.84" y="516.121">750</text>
</g>
</g>
<g id="ytick_158">
<g id="line2d_168">
<g>
<use href="#m5d545ce8f8" x="672.84" y="519.480" style="stroke: #000000; stroke-width: 0.8"/>
</g>
</g>
<g id="text_231">
<text style="font-size: 10px; font-family: 'DejaVu Sans', 'Liberation Sans', sans-serif; text-anchor: end" x="665.84" y="522.940">800</text>
</g>
</g>
<g id="ytick_159">
<g id="line2d_169">
<g>
<use href="#m5d545ce8f8" x="672.84" y="525.960" style="stroke: #000000; stroke-width: 0.8"/>
</g>
</g>
<g id="text_232">
<text style="font-size: 10px; font-family: 'DejaVu Sans', 'Liberation Sans', sans-serif; text-anchor: end" x="665.84" y="529.759">850</text>
</g>
</g>
</g>
<g id="patch_68">
<path d="M672.84 525.96L672.84 410.04" style="fill: none; stroke: #000000; stroke-width: 0.8; stroke-linejoin: miter; stroke-linecap: square"/>
</g>
<g id="patch_69">
<path d="M1168.2 525.96L1168.2 410.04" style="fill: none; stroke: #000000; stroke-width: 0.8; stroke-linejoin: miter; stroke-linecap: square"/>
</g>
<g id="patch_70">
<path d="M672.84 525.96L1168.2 525.96" style="fill: none; stroke: #000000; stroke-width: 0.8; stroke-linejoin: miter; stroke-linecap: square"/>
</g>
<g id="patch_71">
<path d="M672.84 410.04L1168.2 410.04" style="fill: none; stroke: #000000; stroke-width: 0.8; stroke-linejoin: miter; stroke-linecap: square"/>
</g>
<g id="text_233">
<text style="font-weight: 700; font-size: 14px; font-family: 'DejaVu Sans', 'Liberation Sans', sans-serif; text-anchor: middle" x="920.52" y="472.439">No Data</text>
</g>
</g>
<g id="axes_16">
<g id="patch_72">
<path d="M1198.8 525.96L1204.56 525.96 1204.56 410.04 1198.8 410.04 1198.8 525.96z" style="fill: none"/>
</g>
<g id="grad_gray3">
<path d="M1198.8 525.96L1204.56 525.96 1204.56 410.04 1198.8 410.04z" clip-path="url(#p089413e1fc)" style="fill: url(#lg_gray3)"/>
</g>
<g id="matplotlib.axis_31"/>
<g id="matplotlib.axis_32">
<g id="text_234">
<text style="font-size: 9px; font-family: 'DejaVu Sans', 'Liberation Sans', sans-serif; text-anchor: middle" x="1216.366" y="469.872" transform="rotate(-90 1216.366 469.872)">Fl700</text>
</g>
</g>
</g>
<g id="axes_17">
<g id="patch_73">
<path d="M672.84 659.16L1168.2 659.16 1168.2 543.24 672.84 543.24z" style="fill: #ffffff"/>
</g>
<g id="matplotlib.axis_33">
<g id="xtick_9">
<g id="line2d_170">
<g>
<use href="#m1504cfccaf" x="672.840" y="659.16" style="stroke: #000000; stroke-width: 0.8"/>
</g>
</g>
<g id="text_235">
<text style="font-size: 10px; font-family: 'DejaVu Sans', 'Liberation Sans', sans-serif; text-anchor: middle" x="672.84" y="673.758">0</text>
</g>
</g>
<g id="xtick_10">
<g id="line2d_171">
<g>
<use href="#m1504cfccaf" x="739.800" y="659.16" style="stroke: #000000; stroke-width: 0.8"/>
</g>
</g>
<g id="text_236">
<text style="font-size: 10px; font-family: 'DejaVu Sans', 'Liberation Sans', sans-serif; text-anchor: middle" x="739.562" y="673.758">10</text>
</g>
</g>
<g id="xtick_11">
<g id="line2d_172">
<g>
<use href="#m1504cfccaf" x="806.040" y="659.16" style="stroke: #000000; stroke-width: 0.8"/>
</g>
</g>
<g id="text_237">
<text style="font-size: 10px; font-family: 'DejaVu Sans', 'Liberation Sans', sans-serif; text-anchor: middle" x="806.284" y="673.758">20</text>
</g>
</g>
<g id="xtick_12">
<g id="line2d_173">
<g>
<use href="#m1504cfccaf" x="873.000" y="659.16" style="stroke: #000000; stroke-width: 0.8"/>
</g>
</g>
<g id="text_238">
<text style="font-size: 10px; font-family: 'DejaVu Sans', 'Liberation Sans', sans-serif; text-anchor: middle" x="873.007" y="673.758">30</text>
</g>
</g>
<g id="xtick_13">
<g id="line2d_174">
<g>
<use href="#m1504cfccaf" x="939.960" y="659.16" style="stroke: #000000; stroke-width: 0.8"/>
</g>
</g>
<g id="text_239">
<text style="font-size: 10px; font-family: 'DejaVu Sans', 'Liberation Sans', sans-serif; text-anchor: middle" x="939.729" y="673.758">40</text>
</g>
</g>
<g id="xtick_14">
<g id="line2d_175">
<g>
<use href="#m1504cfccaf" x="1006.200" y="659.16" style="stroke: #000000; stroke-width: 0.8"/>
</g>
</g>
<g id="text_240">
<text style="font-size: 10px; font-family: 'DejaVu Sans', 'Liberation Sans', sans-serif; text-anchor: middle" x="1006.452" y="673.758">50</text>
</g>
</g>
<g id="xtick_15">
<g id="line2d_176">
<g>
<use href="#m1504cfccaf" x="1073.160" y="659.16" style="stroke: #000000; stroke-width: 0.8"/>
</g>
</g>
<g id="text_241">
<text style="font-size: 10px; font-family: 'DejaVu Sans', 'Liberation Sans', sans-serif; text-anchor: middle" x="1073.174" y="673.758">60</text>
</g>
</g>
<g id="xtick_16">
<g id="line2d_177">
<g>
<use href="#m1504cfccaf" x="1140.120" y="659.16" style="stroke: #000000; stroke-width: 0.8"/>
</g>
</g>
<g id="text_242">
<text style="font-size: 10px; font-family: 'DejaVu Sans', 'Liberation Sans', sans-serif; text-anchor: middle" x="1139.896" y="673.758">70</text>
</g>
</g>
<g id="text_243">
<text style="font-size: 10px; font-family: 'DejaVu Sans', 'Liberation Sans', sans-serif; text-anchor: middle" x="920.52" y="688.136">Distance along track (km)</text>
</g>
</g>
<g id="matplotlib.axis_34">
<g id="ytick_160">
<g id="line2d_178">
<g>
<use href="#m5d545ce8f8" x="672.84" y="543.240" style="stroke: #000000; stroke-width: 0.8"/>
</g>
</g>
<g id="text_244">
<text style="font-size: 10px; font-family: 'DejaVu Sans', 'Liberation Sans', sans-serif; text-anchor: end" x="665.84" y="547.039">0</text>
</g>
</g>
<g id="ytick_161">
<g id="line2d_179">
<g>
<use href="#m5d545ce8f8" x="672.84" y="549.720" style="stroke: #000000; stroke-width: 0.8"/>
</g>
</g>
<g id="text_245">
<text style="font-size: 10px; font-family: 'DejaVu Sans', 'Liberation Sans', sans-serif; text-anchor: end" x="665.84" y="553.858">50</text>
</g>
</g>
<g id="ytick_162">
<g id="line2d_180">
<g>
<use href="#m5d545ce8f8" x="672.84" y="556.920" style="stroke: #000000; stroke-width: 0.8"/>
</g>
</g>
<g id="text_246">
<text style="font-size: 10px; font-family: 'DejaVu Sans', 'Liberation Sans', sans-serif; text-anchor: end" x="665.84" y="560.676">100</text>
</g>
</g>
<g id="ytick_163">
<g id="line2d_181">
<g>
<use href="#m5d545ce8f8" x="672.84" y="563.400" style="stroke: #000000; stroke-width: 0.8"/>
</g>
</g>
<g id="text_247">
<text style="font-size: 10px; font-family: 'DejaVu Sans', 'Liberation Sans', sans-serif; text-anchor: end" x="665.84" y="567.495">150</text>
</g>
</g>
<g id="ytick_164">
<g id="line2d_182">
<g>
<use href="#m5d545ce8f8" x="672.84" y="570.600" style="stroke: #000000; stroke-width: 0.8"/>
</g>
</g>
<g id="text_248">
<text style="font-size: 10px; font-family: 'DejaVu Sans', 'Liberation Sans', sans-serif; text-anchor: end" x="665.84" y="574.314">200</text>
</g>
</g>
<g id="ytick_165">
<g id="line2d_183">
<g>
<use href="#m5d545ce8f8" x="672.84" y="577.080" style="stroke: #000000; stroke-width: 0.8"/>
</g>
</g>
<g id="text_249">
<text style="font-size: 10px; font-family: 'DejaVu Sans', 'Liberation Sans', sans-serif; text-anchor: end" x="665.84" y="581.133">250</text>
</g>
</g>
<g id="ytick_166">
<g id="line2d_184">
<g>
<use href="#m5d545ce8f8" x="672.84" y="584.280" style="stroke: #000000; stroke-width: 0.8"/>
</g>
</g>
<g id="text_250">
<text style="font-size: 10px; font-family: 'DejaVu Sans', 'Liberation Sans', sans-serif; text-anchor: end" x="665.84" y="587.952">300</text>
</g>
</g>
<g id="ytick_167">
<g id="line2d_185">
<g>
<use href="#m5d545ce8f8" x="672.84" y="590.760" style="stroke: #000000; stroke-width: 0.8"/>
</g>
</g>
<g id="text_251">
<text style="font-size: 10px; font-family: 'DejaVu Sans', 'Liberation Sans', sans-serif; text-anchor: end" x="665.84" y="594.770">350</text>
</g>
</g>
<g id="ytick_168">
<g id="line2d_186">
<g>
<use href="#m5d545ce8f8" x="672.84" y="597.960" style="stroke: #000000; stroke-width: 0.8"/>
</g>
</g>
<g id="text_252">
<text style="font-size: 10px; font-family: 'DejaVu Sans', 'Liberation Sans', sans-serif; text-anchor: end" x="665.84" y="601.589">400</text>
</g>
</g>
<g id="ytick_169">
<g id="line2d_187">
<g>
<use href="#m5d545ce8f8" x="672.84" y="604.440" style="stroke: #000000; stroke-width: 0.8"/>
</g>
</g>
<g id="text_253">
<text style="font-size: 10px; font-family: 'DejaVu Sans', 'Liberation Sans', sans-serif; text-anchor: end" x="665.84" y="608.408">450</text>
</g>
</g>
<g id="ytick_170">
<g id="line2d_188">
<g>
<use href="#m5d545ce8f8" x="672.84" y="611.640" style="stroke: #000000; stroke-width: 0.8"/>
</g>
</g>
<g id="text_254">
<text style="font-size: 10px; font-family: 'DejaVu Sans', 'Liberation Sans', sans-serif; text-anchor: end" x="665.84" y="615.227">500</text>
</g>
</g>
<g id="ytick_171">
<g id="line2d_189">
<g>
<use href="#m5d545ce8f8" x="672.84" y="618.120" style="stroke: #000000; stroke-width: 0.8"/>
</g>
</g>
<g id="text_255">
<text style="font-size: 10px; font-family: 'DejaVu Sans', 'Liberation Sans', sans-serif; text-anchor: end" x="665.84" y="622.046">550</text>
</g>
</g>
<g id="ytick_172">
<g id="line2d_190">
<g>
<use href="#m5d545ce8f8" x="672.84" y="625.320" style="stroke: #000000; stroke-width: 0.8"/>
</g>
</g>
<g id="text_256">
<text style="font-size: 10px; font-family: 'DejaVu Sans', 'Liberation Sans', sans-serif; text-anchor: end" x="665.84" y="628.865">600</text>
</g>
</g>
<g id="ytick_173">
<g id="line2d_191">
<g>
<use href="#m5d545ce8f8" x="672.84" y="631.800" style="stroke: #000000; stroke-width: 0.8"/>
</g>
</g>
<g id="text_257">
<text style="font-size: 10px; font-family: 'DejaVu Sans', 'Liberation Sans', sans-serif; text-anchor: end" x="665.84" y="635.683">650</text>
</g>
</g>
<g id="ytick_174">
<g id="line2d_192">
<g>
<use href="#m5d545ce8f8" x="672.84" y="639.000" style="stroke: #000000; stroke-width: 0.8"/>
</g>
</g>
<g id="text_258">
<text style="font-size: 10px; font-family: 'DejaVu Sans', 'Liberation Sans', sans-serif; text-anchor: end" x="665.84" y="642.502">700</text>
</g>
</g>
<g id="ytick_175">
<g id="line2d_193">
<g>
<use href="#m5d545ce8f8" x="672.84" y="645.480" style="stroke: #000000; stroke-width: 0.8"/>
</g>
</g>
<g id="text_259">
<text style="font-size: 10px; font-family: 'DejaVu Sans', 'Liberation Sans', sans-serif; text-anchor: end" x="665.84" y="649.321">750</text>
</g>
</g>
<g id="ytick_176">
<g id="line2d_194">
<g>
<use href="#m5d545ce8f8" x="672.84" y="652.680" style="stroke: #000000; stroke-width: 0.8"/>
</g>
</g>
<g id="text_260">
<text style="font-size: 10px; font-family: 'DejaVu Sans', 'Liberation Sans', sans-serif; text-anchor: end" x="665.84" y="656.140">800</text>
</g>
</g>
<g id="ytick_177">
<g id="line2d_195">
<g>
<use href="#m5d545ce8f8" x="672.84" y="659.160" style="stroke: #000000; stroke-width: 0.8"/>
</g>
</g>
<g id="text_261">
<text style="font-size: 10px; font-family: 'DejaVu Sans', 'Liberation Sans', sans-serif; text-anchor: end" x="665.84" y="662.959">850</text>
</g>
</g>
</g>
<g id="patch_74">
<path d="M672.84 659.16L672.84 543.24" style="fill: none; stroke: #000000; stroke-width: 0.8; stroke-linejoin: miter; stroke-linecap: square"/>
</g>
<g id="patch_75">
<path d="M1168.2 659.16L1168.2 543.24" style="fill: none; stroke: #000000; stroke-width: 0.8; stroke-linejoin: miter; stroke-linecap: square"/>
</g>
<g id="patch_76">
<path d="M672.84 659.16L1168.2 659.16" style="fill: none; stroke: #000000; stroke-width: 0.8; stroke-linejoin: miter; stroke-linecap: square"/>
</g>
<g id="patch_77">
<path d="M672.84 543.24L1168.2 543.24" style="fill: none; stroke: #000000; stroke-width: 0.8; stroke-linejoin: miter; stroke-linecap: square"/>
</g>
<g id="text_262">
<text style="font-weight: 700; font-size: 14px; font-family: 'DejaVu Sans', 'Liberation Sans', sans-serif; text-anchor: middle" x="920.52" y="605.639">No Data</text>
</g>
</g>
<g id="axes_18">
<g id="patch_78">
<path d="M1198.8 659.16L1204.56 659.16 1204.56 543.24 1198.8 543.24 1198.8 659.16z" style="fill: none"/>
</g>
<g id="grad_gray4">
<path d="M1198.8 659.16L1204.56 659.16 1204.56 543.24 1198.8 543.24z" clip-path="url(#pb7b0f23bad)" style="fill: url(#lg_gray4)"/>
</g>
<g id="matplotlib.axis_35"/>
<g id="matplotlib.axis_36">
<g id="text_263">
<text style="font-size: 9px; font-family: 'DejaVu Sans', 'Liberation Sans', sans-serif; text-anchor: middle" x="1216.366" y="603.072" transform="rotate(-90 1216.366 603.072)">Biolume</text>
</g>
</g>
</g>
<g id="axes_19">
<g id="patch_79">
<path d="M81.72 126.36L200.52 126.36 200.52 11.16 81.72 11.16z" style="fill: #cbe4eb"/>
</g>
<g id="patch_80">
<path d="M126.22 10.08L126.22 11.23 131.98 17.14 138.38 19.66 143.5 21.31 148.03 20.66 152.5 20.3 163.37 19.01 166.54 16.49 169.78 15.55 173.59 17.14 178.7 20.95 183.17 25.42 187.7 32.47 191.52 40.82 194.11 45.94 195.98 51.05 196.63 56.16 194.11 68.4 191.3 83.66 188.86 90.94 185.83 96.48 182.16 100.73 179.71 102.53 177.26 100.73 176.04 98.28 172.37 95.26 169.92 94.03 168.77 94.03 167.54 97.63 165.1 102.53 162 106.78 163.87 109.87 166.32 111.1 168.77 115.92 167.54 120.24 166.32 123.26 166.32 127.08 201.6 127.08 201.6 10.08z" clip-path="url(#p111fba60a9)" style="fill: #f1f0ea; stroke: #bfd8c0; stroke-width: 0.5; stroke-linejoin: miter"/>
</g>
<g id="matplotlib.axis_37"/>
<g id="matplotlib.axis_38"/>
<g id="patch_81">
<path d="M128.88 11.23L142.56 11.23 144 14.4 141.12 18.72 135.36 18.36 131.04 15.48z" clip-path="url(#p111fba60a9)" style="fill: #d3e6c0; opacity: 0.9"/>
</g>
<g id="patch_82">
<path d="M152.64 11.23L159.84 11.23 158.4 13.68 154.08 13.68z" clip-path="url(#p111fba60a9)" style="fill: #d3e6c0; opacity: 0.7"/>
</g>
<g id="patch_83">
<path d="M172.8 12.24L181.44 11.52 188.64 15.84 194.4 21.6 185.76 21.6 177.12 15.84z" clip-path="url(#p111fba60a9)" style="fill: #e9ede0; opacity: 0.9"/>
</g>
<g id="patch_84">
<path d="M188.64 43.2L195.84 41.76 200.16 44.64 200.16 57.6 195.84 56.16 194.4 47.52z" clip-path="url(#p111fba60a9)" style="fill: #e2edd7; opacity: 0.9"/>
</g>
<g id="patch_85">
<path d="M168.48 109.44L180 108 188.64 112.32 200.16 109.44 200.16 126 169.92 126z" clip-path="url(#p111fba60a9)" style="fill: #d9eacb; opacity: 0.9"/>
</g>
<g id="patch_86">
<path d="M164.88 100.8L172.8 97.92 177.12 102.24 171.36 108 165.6 107.28z" clip-path="url(#p111fba60a9)" style="fill: #e4e3e0; opacity: 0.9"/>
</g>
<g id="patch_87">
<path d="M191.52 98.64L200.16 97.2 200.16 108 192.96 107.28z" clip-path="url(#p111fba60a9)" style="fill: #f3e2e0; opacity: 0.9"/>
</g>
<g id="patch_88">
<path d="M181.44 104.4L188.64 102.24 191.52 108 185.76 110.16z" clip-path="url(#p111fba60a9)" style="fill: #e6e4e4; opacity: 0.9"/>
</g>
<g id="patch_89">
<path d="M183.6 28.8L191.52 28.8 194.4 36 188.64 37.44z" clip-path="url(#p111fba60a9)" style="fill: #e8e7e4; opacity: 0.8"/>
</g>
<g id="patch_90">
<path d="M81.72 126.36L81.72 11.16" style="fill: none; stroke: #000000; stroke-width: 1.2; stroke-linejoin: miter; stroke-linecap: square"/>
</g>
<g id="patch_91">
<path d="M200.52 126.36L200.52 11.16" style="fill: none; stroke: #000000; stroke-width: 1.2; stroke-linejoin: miter; stroke-linecap: square"/>
</g>
<g id="patch_92">
<path d="M81.72 126.36L200.52 126.36" style="fill: none; stroke: #000000; stroke-width: 1.2; stroke-linejoin: miter; stroke-linecap: square"/>
</g>
<g id="patch_93">
<path d="M81.72 11.16L200.52 11.16" style="fill: none; stroke: #000000; stroke-width: 1.2; stroke-linejoin: miter; stroke-linecap: square"/>
</g>
<g id="line2d_196">
<path d="M141.12 14.76L146.88 13.32 152.64 12.6 159.84 13.32 167.04 12.6 174.24 13.68 180 16.56 185.76 20.16 190.08 24.48 194.4 29.52 198 34.56 200.59 37.44" clip-path="url(#p111fba60a9)" style="fill: none; stroke: #e9a2ae; stroke-opacity: 0.8; stroke-width: 0.55; stroke-linecap: round"/>
</g>
<g id="line2d_197">
<path d="M200.59 69.12L197.28 76.32 194.4 84.96 191.52 92.16 187.92 97.2 182.88 102.24 177.12 106.56 172.8 110.16" clip-path="url(#p111fba60a9)" style="fill: none; stroke: #e9a2ae; stroke-opacity: 0.8; stroke-width: 0.55; stroke-linecap: round"/>
</g>
<g id="line2d_198">
<path d="M133.2 17.28L138.24 19.08" clip-path="url(#p111fba60a9)" style="fill: none; stroke: #e9a2ae; stroke-opacity: 0.6; stroke-width: 0.5; stroke-linecap: round"/>
</g>
<g id="line2d_199">
<path d="M180 108L185.76 115.2 188.64 122.4" clip-path="url(#p111fba60a9)" style="fill: none; stroke: #ebb0a8; stroke-opacity: 0.7; stroke-width: 0.5; stroke-linecap: round"/>
</g>
<g id="line2d_200">
<path d="M109.51 11.02L127.73 22.18 142.85 30.67 147.1 46.44 156.82 90.14 149.54 102.24 148.97 113.18 151.92 126.36" clip-path="url(#p111fba60a9)" style="fill: none; stroke: #d2c2d6; stroke-opacity: 0.8; stroke-width: 0.5; stroke-linecap: round"/>
</g>
<g id="line2d_201">
<path d="M81.58 37.37L98.64 51.34 114.41 60.41 119.81 84.67 115.56 97.42 114.62 110.74 114.62 126.36" clip-path="url(#p111fba60a9)" style="fill: none; stroke: #d2c2d6; stroke-opacity: 0.8; stroke-width: 0.5; stroke-linecap: round"/>
</g>
<g id="line2d_202">
<path d="M146.38 44.93L169.63 44.93 169.63 56.45 148.9 56.45" clip-path="url(#p111fba60a9)" style="fill: none; stroke: #a9cfa9; stroke-opacity: 0.9; stroke-width: 0.5; stroke-linecap: round"/>
</g>
<g id="line2d_203">
<path d="M169.63 44.93L193.32 44.93" clip-path="url(#p111fba60a9)" style="fill: none; stroke: #c4d4da; stroke-opacity: 0.9; stroke-width: 0.4; stroke-linecap: round"/>
</g>
<g id="line2d_204">
<path d="M153.79 75.74L169.63 75.74 169.63 83.3 155.52 83.3" clip-path="url(#p111fba60a9)" style="fill: none; stroke: #a9cfa9; stroke-opacity: 0.9; stroke-width: 0.5; stroke-linecap: round"/>
</g>
<g id="line2d_205">
<path d="M167.83 91.87L164.16 104.4 167.04 115.2 169.92 122.4" clip-path="url(#p111fba60a9)" style="fill: none; stroke: #a8cdb8; stroke-opacity: 0.8; stroke-width: 0.4; stroke-linecap: round"/>
</g>
<g id="line2d_206">
<path d="M155.88 46.44L160.2 46.44" clip-path="url(#p111fba60a9)" style="fill: none; stroke: #c8e2b0; stroke-opacity: 0.8; stroke-width: 0.6; stroke-linecap: round"/>
</g>
<g id="line2d_207">
<path d="M155.52 48.1L160.56 48.1" clip-path="url(#p111fba60a9)" style="fill: none; stroke: #c8e2b0; stroke-opacity: 0.8; stroke-width: 0.6; stroke-linecap: round"/>
</g>
<g id="line2d_208">
<path d="M154.44 49.75L161.64 49.75" clip-path="url(#p111fba60a9)" style="fill: none; stroke: #c8e2b0; stroke-opacity: 0.8; stroke-width: 0.6; stroke-linecap: round"/>
</g>
<g id="line2d_209">
<path d="M154.44 51.41L161.64 51.41" clip-path="url(#p111fba60a9)" style="fill: none; stroke: #c8e2b0; stroke-opacity: 0.8; stroke-width: 0.6; stroke-linecap: round"/>
</g>
<g id="line2d_210">
<path d="M156.24 53.06L159.84 53.06" clip-path="url(#p111fba60a9)" style="fill: none; stroke: #c8e2b0; stroke-opacity: 0.8; stroke-width: 0.6; stroke-linecap: round"/>
</g>
<g id="line2d_211">
<path d="M159.19 76.9L164.23 76.9" clip-path="url(#p111fba60a9)" style="fill: none; stroke: #c8e2b0; stroke-opacity: 0.8; stroke-width: 0.5; stroke-linecap: round"/>
</g>
<g id="line2d_212">
<path d="M159.55 78.19L163.87 78.19" clip-path="url(#p111fba60a9)" style="fill: none; stroke: #c8e2b0; stroke-opacity: 0.8; stroke-width: 0.5; stroke-linecap: round"/>
</g>
<g id="line2d_213">
<path d="M159.91 79.49L163.51 79.49" clip-path="url(#p111fba60a9)" style="fill: none; stroke: #c8e2b0; stroke-opacity: 0.8; stroke-width: 0.5; stroke-linecap: round"/>
</g>
<g id="line2d_214">
<path d="M158.83 80.78L164.59 80.78" clip-path="url(#p111fba60a9)" style="fill: none; stroke: #c8e2b0; stroke-opacity: 0.8; stroke-width: 0.5; stroke-linecap: round"/>
</g>
<g id="line2d_215">
<path d="M160.27 82.08L163.15 82.08" clip-path="url(#p111fba60a9)" style="fill: none; stroke: #c8e2b0; stroke-opacity: 0.8; stroke-width: 0.5; stroke-linecap: round"/>
</g>
</g>
<g id="axes_20">
<g id="patch_94">
<path d="M240.84 126.36L253.8 126.36 253.8 11.16 240.84 11.16z" style="fill: #ffffff"/>
</g>
<g id="grad_jet">
<path d="M240.84 126.36L253.8 126.36 253.8 11.16 240.84 11.16z" clip-path="url(#p28b8b15fb7)" style="fill: url(#lg_jet)"/>
</g>
<g id="matplotlib.axis_39"/>
<g id="matplotlib.axis_40">
<g id="ytick_178">
<g id="line2d_216">
<g>
<use href="#m33c4ce201d" x="253.8" y="109.800" style="stroke: #000000; stroke-width: 0.8"/>
</g>
</g>
<g id="text_264">
<text style="font-size: 7px; font-family: 'DejaVu Sans', 'Liberation Sans', sans-serif; text-anchor: start" x="260.8" y="112.537">5</text>
</g>
</g>
<g id="ytick_179">
<g id="line2d_217">
<g>
<use href="#m33c4ce201d" x="253.8" y="88.200" style="stroke: #000000; stroke-width: 0.8"/>
</g>
</g>
<g id="text_265">
<text style="font-size: 7px; font-family: 'DejaVu Sans', 'Liberation Sans', sans-serif; text-anchor: start" x="260.8" y="91.077">10</text>
</g>
</g>
<g id="ytick_180">
<g id="line2d_218">
<g>
<use href="#m33c4ce201d" x="253.8" y="66.600" style="stroke: #000000; stroke-width: 0.8"/>
</g>
</g>
<g id="text_266">
<text style="font-size: 7px; font-family: 'DejaVu Sans', 'Liberation Sans', sans-serif; text-anchor: start" x="260.8" y="69.616">15</text>
</g>
</g>
<g id="ytick_181">
<g id="line2d_219">
<g>
<use href="#m33c4ce201d" x="253.8" y="45.720" style="stroke: #000000; stroke-width: 0.8"/>
</g>
</g>
<g id="text_267">
<text style="font-size: 7px; font-family: 'DejaVu Sans', 'Liberation Sans', sans-serif; text-anchor: start" x="260.8" y="48.156">20</text>
</g>
</g>
<g id="ytick_182">
<g id="line2d_220">
<g>
<use href="#m33c4ce201d" x="253.8" y="24.120" style="stroke: #000000; stroke-width: 0.8"/>
</g>
</g>
<g id="text_268">
<text style="font-size: 7px; font-family: 'DejaVu Sans', 'Liberation Sans', sans-serif; text-anchor: start" x="260.8" y="26.695">25</text>
</g>
</g>
<g id="text_269">
<text style="font-size: 9px; font-family: 'DejaVu Sans', 'Liberation Sans', sans-serif; text-anchor: middle" x="280.546" y="68.76" transform="rotate(-90 280.546 68.76)">Profile Number</text>
</g>
</g>
<g id="patch_95">
<path d="M240.84 126.36L240.84 11.16" style="fill: none; stroke: #000000; stroke-width: 0.8; stroke-linejoin: miter; stroke-linecap: square"/>
</g>
<g id="patch_96">
<path d="M253.8 126.36L253.8 11.16" style="fill: none; stroke: #000000; stroke-width: 0.8; stroke-linejoin: miter; stroke-linecap: square"/>
</g>
<g id="patch_97">
<path d="M240.84 126.36L253.8 126.36" style="fill: none; stroke: #000000; stroke-width: 0.8; stroke-linejoin: miter; stroke-linecap: square"/>
</g>
<g id="patch_98">
<path d="M240.84 11.16L253.8 11.16" style="fill: none; stroke: #000000; stroke-width: 0.8; stroke-linejoin: miter; stroke-linecap: square"/>
</g>
</g>
<g id="axes_21">
<g id="patch_99">
<path d="M 298.37 71.71 C 299.8 71.71 301.17 72.28 302.19 73.29 C 303.2 74.31 303.77 75.68 303.77 77.11 C 303.77 78.54 303.2 79.92 302.19 80.93 C 301.17 81.94 299.8 82.51 298.37 82.51 C 296.94 82.51 295.56 81.94 294.55 80.93 C 293.54 79.92 292.97 78.54 292.97 77.11 C 292.97 75.68 293.54 74.31 294.55 73.29 C 295.56 72.28 296.94 71.71 298.37 71.71 z" clip-path="url(#p9d16a12c3b)" style="fill: #008000; stroke: #008000; stroke-linejoin: miter"/>
</g>
<g id="patch_100">
<path d="M292.54 99.58L302.98 99.58 297.76 88.99z" clip-path="url(#p9d16a12c3b)" style="fill: #ff0000; stroke: #ff0000; stroke-linejoin: miter"/>
</g>
<g id="text_270">
<text style="font-weight: 700; font-size: 11px; font-family: 'DejaVu Sans', 'Liberation Sans', sans-serif; text-anchor: start" x="292.536" y="19.368">AUVCTD program - calibrated, aligned,</text>
</g>
<g id="text_271">
<text style="font-weight: 700; font-size: 11px; font-family: 'DejaVu Sans', 'Liberation Sans', sans-serif; text-anchor: start" x="292.536" y="32.544">and resampled AUV sensor data from</text>
</g>
<g id="text_272">
<text style="font-weight: 700; font-size: 11px; font-family: 'DejaVu Sans', 'Liberation Sans', sans-serif; text-anchor: start" x="292.536" y="44.496">dorado mission 2011.155.04</text>
</g>
<g id="text_273">
<text style="font-weight: 700; font-size: 11px; font-family: 'DejaVu Sans', 'Liberation Sans', sans-serif; text-anchor: start" x="312.12" y="79.128">Start: 2011-06-04 22:23:58</text>
</g>
<g id="text_274">
<text style="font-weight: 700; font-size: 11px; font-family: 'DejaVu Sans', 'Liberation Sans', sans-serif; text-anchor: start" x="312.12" y="97.2">End  : 2011-06-05 12:57:32</text>
</g>
<g id="text_275">
<text style="font-weight: 700; font-size: 7.7px; font-family: 'DejaVu Sans', 'Liberation Sans', sans-serif; text-anchor: start" x="47.772" y="140.328">ctd1</text>
</g>
<g id="text_276">
<text style="font-weight: 700; font-size: 7.7px; font-family: 'DejaVu Sans', 'Liberation Sans', sans-serif; text-anchor: start" x="47.772" y="272.808">ctd1</text>
</g>
<g id="text_277">
<text style="font-weight: 700; font-size: 7.7px; font-family: 'DejaVu Sans', 'Liberation Sans', sans-serif; text-anchor: start" x="47.772" y="406.008">ctd1</text>
</g>
<g id="text_278">
<path d="M 84.27 111.36 Q 83.75 112.26 83.49 113.14 Q 83.24 114.02 83.24 114.92 Q 83.24 115.82 83.5 116.71 Q 83.75 117.59 84.27 118.49 L 83.65 118.49 Q 83.06 117.57 82.77 116.68 Q 82.48 115.8 82.48 114.92 Q 82.48 114.05 82.77 113.17 Q 83.06 112.28 83.65 111.36 L 84.27 111.36 z M 90.07 112.05 L 90.07 112.88 Q 89.67 112.51 89.22 112.33 Q 88.76 112.14 88.26 112.14 Q 87.26 112.14 86.73 112.75 Q 86.19 113.37 86.19 114.52 Q 86.19 115.67 86.73 116.29 Q 87.26 116.9 88.26 116.9 Q 88.76 116.9 89.22 116.71 Q 89.67 116.53 90.07 116.16 L 90.07 116.98 Q 89.65 117.26 89.19 117.41 Q 88.73 117.55 88.21 117.55 Q 86.89 117.55 86.12 116.74 Q 85.36 115.92 85.36 114.52 Q 85.36 113.12 86.12 112.31 Q 86.89 111.49 88.21 111.49 Q 88.73 111.49 89.2 111.63 Q 89.66 111.77 90.07 112.05 z M 91.14 111.36 L 91.77 111.36 Q 92.35 112.28 92.64 113.17 Q 92.93 114.05 92.93 114.92 Q 92.93 115.8 92.64 116.68 Q 92.35 117.57 91.77 118.49 L 91.14 118.49 Q 91.66 117.59 91.92 116.71 Q 92.17 115.82 92.17 114.92 Q 92.17 114.02 91.92 113.14 Q 91.66 112.26 91.14 111.36 z M 99.32 112.13 Q 98.46 112.13 97.95 112.78 Q 97.44 113.42 97.44 114.52 Q 97.44 115.62 97.95 116.26 Q 98.46 116.9 99.32 116.9 Q 100.17 116.9 100.68 116.26 Q 101.18 115.62 101.18 114.52 Q 101.18 113.42 100.68 112.78 Q 100.17 112.13 99.32 112.13 z M 99.32 111.49 Q 100.54 111.49 101.28 112.32 Q 102.01 113.14 102.01 114.52 Q 102.01 115.9 101.28 116.72 Q 100.54 117.55 99.32 117.55 Q 98.09 117.55 97.35 116.73 Q 96.61 115.9 96.61 114.52 Q 96.61 113.14 97.35 112.32 Q 98.09 111.49 99.32 111.49 z M 103.91 116.78 L 103.91 119.1 L 103.19 119.1 L 103.19 113.06 L 103.91 113.06 L 103.91 113.72 Q 104.14 113.33 104.48 113.14 Q 104.83 112.95 105.31 112.95 Q 106.1 112.95 106.6 113.58 Q 107.1 114.22 107.1 115.25 Q 107.1 116.28 106.6 116.91 Q 106.1 117.55 105.31 117.55 Q 104.83 117.55 104.48 117.36 Q 104.14 117.17 103.91 116.78 z M 106.35 115.25 Q 106.35 114.46 106.03 114 Q 105.7 113.55 105.13 113.55 Q 104.56 113.55 104.23 114 Q 103.91 114.46 103.91 115.25 Q 103.91 116.04 104.23 116.49 Q 104.56 116.94 105.13 116.94 Q 105.7 116.94 106.03 116.49 Q 106.35 116.04 106.35 115.25 z M 112.03 115.06 L 112.03 115.42 L 108.73 115.42 Q 108.78 116.16 109.18 116.55 Q 109.58 116.94 110.29 116.94 Q 110.71 116.94 111.09 116.83 Q 111.48 116.73 111.87 116.53 L 111.87 117.21 Q 111.48 117.37 111.07 117.46 Q 110.67 117.55 110.25 117.55 Q 109.2 117.55 108.59 116.94 Q 107.98 116.33 107.98 115.29 Q 107.98 114.21 108.56 113.58 Q 109.14 112.95 110.12 112.95 Q 111.01 112.95 111.52 113.52 Q 112.03 114.09 112.03 115.06 z M 111.32 114.85 Q 111.31 114.26 110.99 113.91 Q 110.66 113.56 110.13 113.56 Q 109.53 113.56 109.17 113.9 Q 108.81 114.24 108.75 114.86 L 111.32 114.85 z M 116.85 114.79 L 116.85 117.43 L 116.13 117.43 L 116.13 114.81 Q 116.13 114.19 115.89 113.89 Q 115.65 113.58 115.16 113.58 Q 114.58 113.58 114.24 113.95 Q 113.91 114.32 113.91 114.96 L 113.91 117.43 L 113.19 117.43 L 113.19 113.06 L 113.91 113.06 L 113.91 113.74 Q 114.17 113.34 114.52 113.15 Q 114.87 112.95 115.32 112.95 Q 116.08 112.95 116.46 113.42 Q 116.85 113.88 116.85 114.79 z M 121.81 111.79 L 121.81 112.56 Q 121.36 112.35 120.96 112.24 Q 120.57 112.13 120.19 112.13 Q 119.55 112.13 119.2 112.38 Q 118.85 112.63 118.85 113.1 Q 118.85 113.48 119.08 113.68 Q 119.32 113.88 119.96 114 L 120.44 114.1 Q 121.32 114.26 121.74 114.69 Q 122.16 115.11 122.16 115.82 Q 122.16 116.67 121.59 117.11 Q 121.03 117.55 119.93 117.55 Q 119.52 117.55 119.05 117.45 Q 118.58 117.36 118.08 117.17 L 118.08 116.36 Q 118.56 116.63 119.02 116.77 Q 119.48 116.9 119.93 116.9 Q 120.6 116.9 120.97 116.64 Q 121.34 116.37 121.34 115.88 Q 121.34 115.45 121.08 115.21 Q 120.81 114.97 120.21 114.85 L 119.73 114.75 Q 118.85 114.58 118.45 114.2 Q 118.06 113.83 118.06 113.16 Q 118.06 112.38 118.6 111.94 Q 119.15 111.49 120.1 111.49 Q 120.52 111.49 120.94 111.57 Q 121.37 111.64 121.81 111.79 z M 124.07 111.81 L 124.07 113.06 L 125.55 113.06 L 125.55 113.62 L 124.07 113.62 L 124.07 115.99 Q 124.07 116.53 124.22 116.68 Q 124.37 116.83 124.82 116.83 L 125.55 116.83 L 125.55 117.43 L 124.82 117.43 Q 123.98 117.43 123.67 117.12 Q 123.35 116.81 123.35 115.99 L 123.35 113.62 L 122.82 113.62 L 122.82 113.06 L 123.35 113.06 L 123.35 111.81 L 124.07 111.81 z M 129.03 113.73 Q 128.91 113.66 128.77 113.63 Q 128.63 113.59 128.46 113.59 Q 127.85 113.59 127.52 113.99 Q 127.19 114.38 127.19 115.13 L 127.19 117.43 L 126.47 117.43 L 126.47 113.06 L 127.19 113.06 L 127.19 113.74 Q 127.42 113.34 127.78 113.15 Q 128.15 112.95 128.67 112.95 Q 128.74 112.95 128.83 112.96 Q 128.92 112.97 129.03 112.99 L 129.03 113.73 z M 133.35 115.06 L 133.35 115.42 L 130.05 115.42 Q 130.09 116.16 130.49 116.55 Q 130.89 116.94 131.61 116.94 Q 132.02 116.94 132.41 116.83 Q 132.8 116.73 133.18 116.53 L 133.18 117.21 Q 132.8 117.37 132.39 117.46 Q 131.98 117.55 131.57 117.55 Q 130.52 117.55 129.91 116.94 Q 129.3 116.33 129.3 115.29 Q 129.3 114.21 129.88 113.58 Q 130.46 112.95 131.44 112.95 Q 132.32 112.95 132.84 113.52 Q 133.35 114.09 133.35 115.06 z M 132.63 114.85 Q 132.62 114.26 132.3 113.91 Q 131.98 113.56 131.45 113.56 Q 130.85 113.56 130.49 113.9 Q 130.12 114.24 130.07 114.86 L 132.63 114.85 z M 138.27 115.06 L 138.27 115.42 L 134.97 115.42 Q 135.01 116.16 135.41 116.55 Q 135.81 116.94 136.53 116.94 Q 136.94 116.94 137.33 116.83 Q 137.72 116.73 138.1 116.53 L 138.1 117.21 Q 137.72 117.37 137.31 117.46 Q 136.9 117.55 136.49 117.55 Q 135.44 117.55 134.83 116.94 Q 134.22 116.33 134.22 115.29 Q 134.22 114.21 134.8 113.58 Q 135.38 112.95 136.36 112.95 Q 137.24 112.95 137.76 113.52 Q 138.27 114.09 138.27 115.06 z M 137.55 114.85 Q 137.55 114.26 137.22 113.91 Q 136.9 113.56 136.37 113.56 Q 135.77 113.56 135.41 113.9 Q 135.05 114.24 134.99 114.86 L 137.55 114.85 z M 140.16 111.81 L 140.16 113.06 L 141.64 113.06 L 141.64 113.62 L 140.16 113.62 L 140.16 115.99 Q 140.16 116.53 140.31 116.68 Q 140.46 116.83 140.91 116.83 L 141.64 116.83 L 141.64 117.43 L 140.91 117.43 Q 140.07 117.43 139.76 117.12 Q 139.44 116.81 139.44 115.99 L 139.44 113.62 L 138.91 113.62 L 138.91 113.06 L 139.44 113.06 L 139.44 111.81 L 140.16 111.81 z M 142.62 111.6 L 143.8 111.6 L 145.28 115.57 L 146.78 111.6 L 147.96 111.6 L 147.96 117.43 L 147.19 117.43 L 147.19 112.31 L 145.68 116.31 L 144.89 116.31 L 143.39 112.31 L 143.39 117.43 L 142.62 117.43 L 142.62 111.6 z M 151.48 115.23 Q 150.61 115.23 150.27 115.43 Q 149.94 115.63 149.94 116.11 Q 149.94 116.49 150.19 116.72 Q 150.44 116.94 150.87 116.94 Q 151.47 116.94 151.83 116.52 Q 152.19 116.1 152.19 115.39 L 152.19 115.23 L 151.48 115.23 z M 152.91 114.94 L 152.91 117.43 L 152.19 117.43 L 152.19 116.77 Q 151.95 117.17 151.58 117.36 Q 151.21 117.55 150.68 117.55 Q 150.01 117.55 149.61 117.17 Q 149.22 116.79 149.22 116.16 Q 149.22 115.42 149.71 115.05 Q 150.21 114.67 151.19 114.67 L 152.19 114.67 L 152.19 114.6 Q 152.19 114.1 151.87 113.83 Q 151.54 113.56 150.95 113.56 Q 150.58 113.56 150.22 113.65 Q 149.87 113.74 149.54 113.92 L 149.54 113.26 Q 149.93 113.1 150.3 113.03 Q 150.67 112.95 151.03 112.95 Q 151.98 112.95 152.44 113.44 Q 152.91 113.94 152.91 114.94 z M 155.09 116.78 L 155.09 119.1 L 154.37 119.1 L 154.37 113.06 L 155.09 113.06 L 155.09 113.72 Q 155.32 113.33 155.66 113.14 Q 156.01 112.95 156.49 112.95 Q 157.28 112.95 157.78 113.58 Q 158.28 114.22 158.28 115.25 Q 158.28 116.28 157.78 116.91 Q 157.28 117.55 156.49 117.55 Q 156.01 117.55 155.66 117.36 Q 155.32 117.17 155.09 116.78 z M 157.53 115.25 Q 157.53 114.46 157.21 114 Q 156.88 113.55 156.31 113.55 Q 155.74 113.55 155.41 114 Q 155.09 114.46 155.09 115.25 Q 155.09 116.04 155.41 116.49 Q 155.74 116.94 156.31 116.94 Q 156.88 116.94 157.21 116.49 Q 157.53 116.04 157.53 115.25 z" style="stroke: #ffffff; stroke-width: 1.5"/>
<path d="M 84.27 111.36 Q 83.75 112.26 83.49 113.14 Q 83.24 114.02 83.24 114.92 Q 83.24 115.82 83.5 116.71 Q 83.75 117.59 84.27 118.49 L 83.65 118.49 Q 83.06 117.57 82.77 116.68 Q 82.48 115.8 82.48 114.92 Q 82.48 114.05 82.77 113.17 Q 83.06 112.28 83.65 111.36 L 84.27 111.36 z M 90.07 112.05 L 90.07 112.88 Q 89.67 112.51 89.22 112.33 Q 88.76 112.14 88.26 112.14 Q 87.26 112.14 86.73 112.75 Q 86.19 113.37 86.19 114.52 Q 86.19 115.67 86.73 116.29 Q 87.26 116.9 88.26 116.9 Q 88.76 116.9 89.22 116.71 Q 89.67 116.53 90.07 116.16 L 90.07 116.98 Q 89.65 117.26 89.19 117.41 Q 88.73 117.55 88.21 117.55 Q 86.89 117.55 86.12 116.74 Q 85.36 115.92 85.36 114.52 Q 85.36 113.12 86.12 112.31 Q 86.89 111.49 88.21 111.49 Q 88.73 111.49 89.2 111.63 Q 89.66 111.77 90.07 112.05 z M 91.14 111.36 L 91.77 111.36 Q 92.35 112.28 92.64 113.17 Q 92.93 114.05 92.93 114.92 Q 92.93 115.8 92.64 116.68 Q 92.35 117.57 91.77 118.49 L 91.14 118.49 Q 91.66 117.59 91.92 116.71 Q 92.17 115.82 92.17 114.92 Q 92.17 114.02 91.92 113.14 Q 91.66 112.26 91.14 111.36 z M 99.32 112.13 Q 98.46 112.13 97.95 112.78 Q 97.44 113.42 97.44 114.52 Q 97.44 115.62 97.95 116.26 Q 98.46 116.9 99.32 116.9 Q 100.17 116.9 100.68 116.26 Q 101.18 115.62 101.18 114.52 Q 101.18 113.42 100.68 112.78 Q 100.17 112.13 99.32 112.13 z M 99.32 111.49 Q 100.54 111.49 101.28 112.32 Q 102.01 113.14 102.01 114.52 Q 102.01 115.9 101.28 116.72 Q 100.54 117.55 99.32 117.55 Q 98.09 117.55 97.35 116.73 Q 96.61 115.9 96.61 114.52 Q 96.61 113.14 97.35 112.32 Q 98.09 111.49 99.32 111.49 z M 103.91 116.78 L 103.91 119.1 L 103.19 119.1 L 103.19 113.06 L 103.91 113.06 L 103.91 113.72 Q 104.14 113.33 104.48 113.14 Q 104.83 112.95 105.31 112.95 Q 106.1 112.95 106.6 113.58 Q 107.1 114.22 107.1 115.25 Q 107.1 116.28 106.6 116.91 Q 106.1 117.55 105.31 117.55 Q 104.83 117.55 104.48 117.36 Q 104.14 117.17 103.91 116.78 z M 106.35 115.25 Q 106.35 114.46 106.03 114 Q 105.7 113.55 105.13 113.55 Q 104.56 113.55 104.23 114 Q 103.91 114.46 103.91 115.25 Q 103.91 116.04 104.23 116.49 Q 104.56 116.94 105.13 116.94 Q 105.7 116.94 106.03 116.49 Q 106.35 116.04 106.35 115.25 z M 112.03 115.06 L 112.03 115.42 L 108.73 115.42 Q 108.78 116.16 109.18 116.55 Q 109.58 116.94 110.29 116.94 Q 110.71 116.94 111.09 116.83 Q 111.48 116.73 111.87 116.53 L 111.87 117.21 Q 111.48 117.37 111.07 117.46 Q 110.67 117.55 110.25 117.55 Q 109.2 117.55 108.59 116.94 Q 107.98 116.33 107.98 115.29 Q 107.98 114.21 108.56 113.58 Q 109.14 112.95 110.12 112.95 Q 111.01 112.95 111.52 113.52 Q 112.03 114.09 112.03 115.06 z M 111.32 114.85 Q 111.31 114.26 110.99 113.91 Q 110.66 113.56 110.13 113.56 Q 109.53 113.56 109.17 113.9 Q 108.81 114.24 108.75 114.86 L 111.32 114.85 z M 116.85 114.79 L 116.85 117.43 L 116.13 117.43 L 116.13 114.81 Q 116.13 114.19 115.89 113.89 Q 115.65 113.58 115.16 113.58 Q 114.58 113.58 114.24 113.95 Q 113.91 114.32 113.91 114.96 L 113.91 117.43 L 113.19 117.43 L 113.19 113.06 L 113.91 113.06 L 113.91 113.74 Q 114.17 113.34 114.52 113.15 Q 114.87 112.95 115.32 112.95 Q 116.08 112.95 116.46 113.42 Q 116.85 113.88 116.85 114.79 z M 121.81 111.79 L 121.81 112.56 Q 121.36 112.35 120.96 112.24 Q 120.57 112.13 120.19 112.13 Q 119.55 112.13 119.2 112.38 Q 118.85 112.63 118.85 113.1 Q 118.85 113.48 119.08 113.68 Q 119.32 113.88 119.96 114 L 120.44 114.1 Q 121.32 114.26 121.74 114.69 Q 122.16 115.11 122.16 115.82 Q 122.16 116.67 121.59 117.11 Q 121.03 117.55 119.93 117.55 Q 119.52 117.55 119.05 117.45 Q 118.58 117.36 118.08 117.17 L 118.08 116.36 Q 118.56 116.63 119.02 116.77 Q 119.48 116.9 119.93 116.9 Q 120.6 116.9 120.97 116.64 Q 121.34 116.37 121.34 115.88 Q 121.34 115.45 121.08 115.21 Q 120.81 114.97 120.21 114.85 L 119.73 114.75 Q 118.85 114.58 118.45 114.2 Q 118.06 113.83 118.06 113.16 Q 118.06 112.38 118.6 111.94 Q 119.15 111.49 120.1 111.49 Q 120.52 111.49 120.94 111.57 Q 121.37 111.64 121.81 111.79 z M 124.07 111.81 L 124.07 113.06 L 125.55 113.06 L 125.55 113.62 L 124.07 113.62 L 124.07 115.99 Q 124.07 116.53 124.22 116.68 Q 124.37 116.83 124.82 116.83 L 125.55 116.83 L 125.55 117.43 L 124.82 117.43 Q 123.98 117.43 123.67 117.12 Q 123.35 116.81 123.35 115.99 L 123.35 113.62 L 122.82 113.62 L 122.82 113.06 L 123.35 113.06 L 123.35 111.81 L 124.07 111.81 z M 129.03 113.73 Q 128.91 113.66 128.77 113.63 Q 128.63 113.59 128.46 113.59 Q 127.85 113.59 127.52 113.99 Q 127.19 114.38 127.19 115.13 L 127.19 117.43 L 126.47 117.43 L 126.47 113.06 L 127.19 113.06 L 127.19 113.74 Q 127.42 113.34 127.78 113.15 Q 128.15 112.95 128.67 112.95 Q 128.74 112.95 128.83 112.96 Q 128.92 112.97 129.03 112.99 L 129.03 113.73 z M 133.35 115.06 L 133.35 115.42 L 130.05 115.42 Q 130.09 116.16 130.49 116.55 Q 130.89 116.94 131.61 116.94 Q 132.02 116.94 132.41 116.83 Q 132.8 116.73 133.18 116.53 L 133.18 117.21 Q 132.8 117.37 132.39 117.46 Q 131.98 117.55 131.57 117.55 Q 130.52 117.55 129.91 116.94 Q 129.3 116.33 129.3 115.29 Q 129.3 114.21 129.88 113.58 Q 130.46 112.95 131.44 112.95 Q 132.32 112.95 132.84 113.52 Q 133.35 114.09 133.35 115.06 z M 132.63 114.85 Q 132.62 114.26 132.3 113.91 Q 131.98 113.56 131.45 113.56 Q 130.85 113.56 130.49 113.9 Q 130.12 114.24 130.07 114.86 L 132.63 114.85 z M 138.27 115.06 L 138.27 115.42 L 134.97 115.42 Q 135.01 116.16 135.41 116.55 Q 135.81 116.94 136.53 116.94 Q 136.94 116.94 137.33 116.83 Q 137.72 116.73 138.1 116.53 L 138.1 117.21 Q 137.72 117.37 137.31 117.46 Q 136.9 117.55 136.49 117.55 Q 135.44 117.55 134.83 116.94 Q 134.22 116.33 134.22 115.29 Q 134.22 114.21 134.8 113.58 Q 135.38 112.95 136.36 112.95 Q 137.24 112.95 137.76 113.52 Q 138.27 114.09 138.27 115.06 z M 137.55 114.85 Q 137.55 114.26 137.22 113.91 Q 136.9 113.56 136.37 113.56 Q 135.77 113.56 135.41 113.9 Q 135.05 114.24 134.99 114.86 L 137.55 114.85 z M 140.16 111.81 L 140.16 113.06 L 141.64 113.06 L 141.64 113.62 L 140.16 113.62 L 140.16 115.99 Q 140.16 116.53 140.31 116.68 Q 140.46 116.83 140.91 116.83 L 141.64 116.83 L 141.64 117.43 L 140.91 117.43 Q 140.07 117.43 139.76 117.12 Q 139.44 116.81 139.44 115.99 L 139.44 113.62 L 138.91 113.62 L 138.91 113.06 L 139.44 113.06 L 139.44 111.81 L 140.16 111.81 z M 142.62 111.6 L 143.8 111.6 L 145.28 115.57 L 146.78 111.6 L 147.96 111.6 L 147.96 117.43 L 147.19 117.43 L 147.19 112.31 L 145.68 116.31 L 144.89 116.31 L 143.39 112.31 L 143.39 117.43 L 142.62 117.43 L 142.62 111.6 z M 151.48 115.23 Q 150.61 115.23 150.27 115.43 Q 149.94 115.63 149.94 116.11 Q 149.94 116.49 150.19 116.72 Q 150.44 116.94 150.87 116.94 Q 151.47 116.94 151.83 116.52 Q 152.19 116.1 152.19 115.39 L 152.19 115.23 L 151.48 115.23 z M 152.91 114.94 L 152.91 117.43 L 152.19 117.43 L 152.19 116.77 Q 151.95 117.17 151.58 117.36 Q 151.21 117.55 150.68 117.55 Q 150.01 117.55 149.61 117.17 Q 149.22 116.79 149.22 116.16 Q 149.22 115.42 149.71 115.05 Q 150.21 114.67 151.19 114.67 L 152.19 114.67 L 152.19 114.6 Q 152.19 114.1 151.87 113.83 Q 151.54 113.56 150.95 113.56 Q 150.58 113.56 150.22 113.65 Q 149.87 113.74 149.54 113.92 L 149.54 113.26 Q 149.93 113.1 150.3 113.03 Q 150.67 112.95 151.03 112.95 Q 151.98 112.95 152.44 113.44 Q 152.91 113.94 152.91 114.94 z M 155.09 116.78 L 155.09 119.1 L 154.37 119.1 L 154.37 113.06 L 155.09 113.06 L 155.09 113.72 Q 155.32 113.33 155.66 113.14 Q 156.01 112.95 156.49 112.95 Q 157.28 112.95 157.78 113.58 Q 158.28 114.22 158.28 115.25 Q 158.28 116.28 157.78 116.91 Q 157.28 117.55 156.49 117.55 Q 156.01 117.55 155.66 117.36 Q 155.32 117.17 155.09 116.78 z M 157.53 115.25 Q 157.53 114.46 157.21 114 Q 156.88 113.55 156.31 113.55 Q 155.74 113.55 155.41 114 Q 155.09 114.46 155.09 115.25 Q 155.09 116.04 155.41 116.49 Q 155.74 116.94 156.31 116.94 Q 156.88 116.94 157.21 116.49 Q 157.53 116.04 157.53 115.25 z"/>
</g>
<g id="text_279">
<path d="M 85.69 121.07 L 85.69 121.75 Q 85.39 121.58 85.08 121.49 Q 84.78 121.41 84.46 121.41 Q 83.76 121.41 83.38 121.85 Q 82.99 122.3 82.99 123.1 Q 82.99 123.9 83.38 124.34 Q 83.76 124.78 84.46 124.78 Q 84.78 124.78 85.08 124.7 Q 85.39 124.62 85.69 124.45 L 85.69 125.11 Q 85.39 125.25 85.07 125.32 Q 84.75 125.39 84.39 125.39 Q 83.4 125.39 82.81 124.77 Q 82.23 124.15 82.23 123.1 Q 82.23 122.03 82.82 121.41 Q 83.41 120.8 84.43 120.8 Q 84.76 120.8 85.08 120.87 Q 85.4 120.94 85.69 121.07 z M 88.64 121.41 Q 88.06 121.41 87.73 121.86 Q 87.39 122.31 87.39 123.1 Q 87.39 123.88 87.72 124.33 Q 88.06 124.78 88.64 124.78 Q 89.21 124.78 89.55 124.33 Q 89.89 123.88 89.89 123.1 Q 89.89 122.32 89.55 121.86 Q 89.21 121.41 88.64 121.41 z M 88.64 120.8 Q 89.58 120.8 90.11 121.41 Q 90.65 122.02 90.65 123.1 Q 90.65 124.17 90.11 124.78 Q 89.58 125.39 88.64 125.39 Q 87.7 125.39 87.16 124.78 Q 86.63 124.17 86.63 123.1 Q 86.63 122.02 87.16 121.41 Q 87.7 120.8 88.64 120.8 z M 95.48 122.64 L 95.48 125.28 L 94.76 125.28 L 94.76 122.66 Q 94.76 122.04 94.51 121.73 Q 94.27 121.42 93.79 121.42 Q 93.21 121.42 92.87 121.8 Q 92.53 122.17 92.53 122.81 L 92.53 125.28 L 91.81 125.28 L 91.81 120.91 L 92.53 120.91 L 92.53 121.58 Q 92.79 121.19 93.14 121 Q 93.49 120.8 93.95 120.8 Q 94.7 120.8 95.09 121.27 Q 95.48 121.73 95.48 122.64 z M 97.62 119.66 L 97.62 120.91 L 99.1 120.91 L 99.1 121.46 L 97.62 121.46 L 97.62 123.84 Q 97.62 124.37 97.77 124.53 Q 97.91 124.68 98.36 124.68 L 99.1 124.68 L 99.1 125.28 L 98.36 125.28 Q 97.53 125.28 97.21 124.97 Q 96.9 124.66 96.9 123.84 L 96.9 121.46 L 96.37 121.46 L 96.37 120.91 L 96.9 120.91 L 96.9 119.66 L 97.62 119.66 z M 102.58 121.58 Q 102.46 121.51 102.32 121.47 Q 102.17 121.44 102 121.44 Q 101.39 121.44 101.07 121.84 Q 100.74 122.23 100.74 122.97 L 100.74 125.28 L 100.02 125.28 L 100.02 120.91 L 100.74 120.91 L 100.74 121.58 Q 100.97 121.19 101.33 120.99 Q 101.69 120.8 102.21 120.8 Q 102.29 120.8 102.38 120.81 Q 102.47 120.82 102.58 120.84 L 102.58 121.58 z M 103.33 120.91 L 104.05 120.91 L 104.05 125.28 L 103.33 125.28 L 103.33 120.91 z M 103.33 119.2 L 104.05 119.2 L 104.05 120.11 L 103.33 120.11 L 103.33 119.2 z M 108.7 123.1 Q 108.7 122.3 108.37 121.85 Q 108.05 121.4 107.48 121.4 Q 106.9 121.4 106.58 121.85 Q 106.25 122.3 106.25 123.1 Q 106.25 123.89 106.58 124.34 Q 106.9 124.79 107.48 124.79 Q 108.05 124.79 108.37 124.34 Q 108.7 123.89 108.7 123.1 z M 106.25 121.57 Q 106.48 121.18 106.82 120.99 Q 107.17 120.8 107.65 120.8 Q 108.45 120.8 108.95 121.43 Q 109.44 122.06 109.44 123.1 Q 109.44 124.13 108.95 124.76 Q 108.45 125.39 107.65 125.39 Q 107.17 125.39 106.82 125.2 Q 106.48 125.01 106.25 124.62 L 106.25 125.28 L 105.53 125.28 L 105.53 119.2 L 106.25 119.2 L 106.25 121.57 z M 110.56 123.55 L 110.56 120.91 L 111.28 120.91 L 111.28 123.53 Q 111.28 124.15 111.52 124.46 Q 111.76 124.77 112.25 124.77 Q 112.83 124.77 113.17 124.4 Q 113.51 124.03 113.51 123.39 L 113.51 120.91 L 114.23 120.91 L 114.23 125.28 L 113.51 125.28 L 113.51 124.61 Q 113.25 125.01 112.9 125.2 Q 112.55 125.39 112.1 125.39 Q 111.34 125.39 110.95 124.92 Q 110.56 124.46 110.56 123.55 z M 112.37 120.8 L 112.37 120.8 z M 116.42 119.66 L 116.42 120.91 L 117.9 120.91 L 117.9 121.46 L 116.42 121.46 L 116.42 123.84 Q 116.42 124.37 116.56 124.53 Q 116.71 124.68 117.16 124.68 L 117.9 124.68 L 117.9 125.28 L 117.16 125.28 Q 116.33 125.28 116.01 124.97 Q 115.69 124.66 115.69 123.84 L 115.69 121.46 L 115.17 121.46 L 115.17 120.91 L 115.69 120.91 L 115.69 119.66 L 116.42 119.66 z M 120.54 121.41 Q 119.96 121.41 119.62 121.86 Q 119.29 122.31 119.29 123.1 Q 119.29 123.88 119.62 124.33 Q 119.96 124.78 120.54 124.78 Q 121.11 124.78 121.45 124.33 Q 121.78 123.88 121.78 123.1 Q 121.78 122.32 121.45 121.86 Q 121.11 121.41 120.54 121.41 z M 120.54 120.8 Q 121.48 120.8 122.01 121.41 Q 122.55 122.02 122.55 123.1 Q 122.55 124.17 122.01 124.78 Q 121.48 125.39 120.54 125.39 Q 119.6 125.39 119.06 124.78 Q 118.53 124.17 118.53 123.1 Q 118.53 122.02 119.06 121.41 Q 119.6 120.8 120.54 120.8 z M 126.27 121.58 Q 126.15 121.51 126.01 121.47 Q 125.87 121.44 125.69 121.44 Q 125.08 121.44 124.76 121.84 Q 124.43 122.23 124.43 122.97 L 124.43 125.28 L 123.71 125.28 L 123.71 120.91 L 124.43 120.91 L 124.43 121.58 Q 124.66 121.19 125.02 120.99 Q 125.39 120.8 125.91 120.8 Q 125.98 120.8 126.07 120.81 Q 126.16 120.82 126.27 120.84 L 126.27 121.58 z M 129.81 121.03 L 129.81 121.71 Q 129.51 121.56 129.18 121.48 Q 128.85 121.4 128.5 121.4 Q 127.97 121.4 127.7 121.56 Q 127.43 121.73 127.43 122.06 Q 127.43 122.31 127.62 122.45 Q 127.81 122.59 128.39 122.72 L 128.64 122.78 Q 129.4 122.94 129.73 123.24 Q 130.05 123.54 130.05 124.07 Q 130.05 124.68 129.57 125.04 Q 129.08 125.39 128.24 125.39 Q 127.89 125.39 127.51 125.33 Q 127.13 125.26 126.71 125.12 L 126.71 124.38 Q 127.1 124.58 127.49 124.69 Q 127.88 124.79 128.26 124.79 Q 128.76 124.79 129.04 124.62 Q 129.31 124.44 129.31 124.13 Q 129.31 123.83 129.11 123.68 Q 128.92 123.52 128.25 123.38 L 128 123.32 Q 127.33 123.18 127.03 122.89 Q 126.74 122.6 126.74 122.09 Q 126.74 121.47 127.17 121.14 Q 127.61 120.8 128.42 120.8 Q 128.81 120.8 129.17 120.86 Q 129.52 120.92 129.81 121.03 z" style="stroke: #ffffff; stroke-width: 1.5"/>
<path d="M 85.69 121.07 L 85.69 121.75 Q 85.39 121.58 85.08 121.49 Q 84.78 121.41 84.46 121.41 Q 83.76 121.41 83.38 121.85 Q 82.99 122.3 82.99 123.1 Q 82.99 123.9 83.38 124.34 Q 83.76 124.78 84.46 124.78 Q 84.78 124.78 85.08 124.7 Q 85.39 124.62 85.69 124.45 L 85.69 125.11 Q 85.39 125.25 85.07 125.32 Q 84.75 125.39 84.39 125.39 Q 83.4 125.39 82.81 124.77 Q 82.23 124.15 82.23 123.1 Q 82.23 122.03 82.82 121.41 Q 83.41 120.8 84.43 120.8 Q 84.76 120.8 85.08 120.87 Q 85.4 120.94 85.69 121.07 z M 88.64 121.41 Q 88.06 121.41 87.73 121.86 Q 87.39 122.31 87.39 123.1 Q 87.39 123.88 87.72 124.33 Q 88.06 124.78 88.64 124.78 Q 89.21 124.78 89.55 124.33 Q 89.89 123.88 89.89 123.1 Q 89.89 122.32 89.55 121.86 Q 89.21 121.41 88.64 121.41 z M 88.64 120.8 Q 89.58 120.8 90.11 121.41 Q 90.65 122.02 90.65 123.1 Q 90.65 124.17 90.11 124.78 Q 89.58 125.39 88.64 125.39 Q 87.7 125.39 87.16 124.78 Q 86.63 124.17 86.63 123.1 Q 86.63 122.02 87.16 121.41 Q 87.7 120.8 88.64 120.8 z M 95.48 122.64 L 95.48 125.28 L 94.76 125.28 L 94.76 122.66 Q 94.76 122.04 94.51 121.73 Q 94.27 121.42 93.79 121.42 Q 93.21 121.42 92.87 121.8 Q 92.53 122.17 92.53 122.81 L 92.53 125.28 L 91.81 125.28 L 91.81 120.91 L 92.53 120.91 L 92.53 121.58 Q 92.79 121.19 93.14 121 Q 93.49 120.8 93.95 120.8 Q 94.7 120.8 95.09 121.27 Q 95.48 121.73 95.48 122.64 z M 97.62 119.66 L 97.62 120.91 L 99.1 120.91 L 99.1 121.46 L 97.62 121.46 L 97.62 123.84 Q 97.62 124.37 97.77 124.53 Q 97.91 124.68 98.36 124.68 L 99.1 124.68 L 99.1 125.28 L 98.36 125.28 Q 97.53 125.28 97.21 124.97 Q 96.9 124.66 96.9 123.84 L 96.9 121.46 L 96.37 121.46 L 96.37 120.91 L 96.9 120.91 L 96.9 119.66 L 97.62 119.66 z M 102.58 121.58 Q 102.46 121.51 102.32 121.47 Q 102.17 121.44 102 121.44 Q 101.39 121.44 101.07 121.84 Q 100.74 122.23 100.74 122.97 L 100.74 125.28 L 100.02 125.28 L 100.02 120.91 L 100.74 120.91 L 100.74 121.58 Q 100.97 121.19 101.33 120.99 Q 101.69 120.8 102.21 120.8 Q 102.29 120.8 102.38 120.81 Q 102.47 120.82 102.58 120.84 L 102.58 121.58 z M 103.33 120.91 L 104.05 120.91 L 104.05 125.28 L 103.33 125.28 L 103.33 120.91 z M 103.33 119.2 L 104.05 119.2 L 104.05 120.11 L 103.33 120.11 L 103.33 119.2 z M 108.7 123.1 Q 108.7 122.3 108.37 121.85 Q 108.05 121.4 107.48 121.4 Q 106.9 121.4 106.58 121.85 Q 106.25 122.3 106.25 123.1 Q 106.25 123.89 106.58 124.34 Q 106.9 124.79 107.48 124.79 Q 108.05 124.79 108.37 124.34 Q 108.7 123.89 108.7 123.1 z M 106.25 121.57 Q 106.48 121.18 106.82 120.99 Q 107.17 120.8 107.65 120.8 Q 108.45 120.8 108.95 121.43 Q 109.44 122.06 109.44 123.1 Q 109.44 124.13 108.95 124.76 Q 108.45 125.39 107.65 125.39 Q 107.17 125.39 106.82 125.2 Q 106.48 125.01 106.25 124.62 L 106.25 125.28 L 105.53 125.28 L 105.53 119.2 L 106.25 119.2 L 106.25 121.57 z M 110.56 123.55 L 110.56 120.91 L 111.28 120.91 L 111.28 123.53 Q 111.28 124.15 111.52 124.46 Q 111.76 124.77 112.25 124.77 Q 112.83 124.77 113.17 124.4 Q 113.51 124.03 113.51 123.39 L 113.51 120.91 L 114.23 120.91 L 114.23 125.28 L 113.51 125.28 L 113.51 124.61 Q 113.25 125.01 112.9 125.2 Q 112.55 125.39 112.1 125.39 Q 111.34 125.39 110.95 124.92 Q 110.56 124.46 110.56 123.55 z M 112.37 120.8 L 112.37 120.8 z M 116.42 119.66 L 116.42 120.91 L 117.9 120.91 L 117.9 121.46 L 116.42 121.46 L 116.42 123.84 Q 116.42 124.37 116.56 124.53 Q 116.71 124.68 117.16 124.68 L 117.9 124.68 L 117.9 125.28 L 117.16 125.28 Q 116.33 125.28 116.01 124.97 Q 115.69 124.66 115.69 123.84 L 115.69 121.46 L 115.17 121.46 L 115.17 120.91 L 115.69 120.91 L 115.69 119.66 L 116.42 119.66 z M 120.54 121.41 Q 119.96 121.41 119.62 121.86 Q 119.29 122.31 119.29 123.1 Q 119.29 123.88 119.62 124.33 Q 119.96 124.78 120.54 124.78 Q 121.11 124.78 121.45 124.33 Q 121.78 123.88 121.78 123.1 Q 121.78 122.32 121.45 121.86 Q 121.11 121.41 120.54 121.41 z M 120.54 120.8 Q 121.48 120.8 122.01 121.41 Q 122.55 122.02 122.55 123.1 Q 122.55 124.17 122.01 124.78 Q 121.48 125.39 120.54 125.39 Q 119.6 125.39 119.06 124.78 Q 118.53 124.17 118.53 123.1 Q 118.53 122.02 119.06 121.41 Q 119.6 120.8 120.54 120.8 z M 126.27 121.58 Q 126.15 121.51 126.01 121.47 Q 125.87 121.44 125.69 121.44 Q 125.08 121.44 124.76 121.84 Q 124.43 122.23 124.43 122.97 L 124.43 125.28 L 123.71 125.28 L 123.71 120.91 L 124.43 120.91 L 124.43 121.58 Q 124.66 121.19 125.02 120.99 Q 125.39 120.8 125.91 120.8 Q 125.98 120.8 126.07 120.81 Q 126.16 120.82 126.27 120.84 L 126.27 121.58 z M 129.81 121.03 L 129.81 121.71 Q 129.51 121.56 129.18 121.48 Q 128.85 121.4 128.5 121.4 Q 127.97 121.4 127.7 121.56 Q 127.43 121.73 127.43 122.06 Q 127.43 122.31 127.62 122.45 Q 127.81 122.59 128.39 122.72 L 128.64 122.78 Q 129.4 122.94 129.73 123.24 Q 130.05 123.54 130.05 124.07 Q 130.05 124.68 129.57 125.04 Q 129.08 125.39 128.24 125.39 Q 127.89 125.39 127.51 125.33 Q 127.13 125.26 126.71 125.12 L 126.71 124.38 Q 127.1 124.58 127.49 124.69 Q 127.88 124.79 128.26 124.79 Q 128.76 124.79 129.04 124.62 Q 129.31 124.44 129.31 124.13 Q 129.31 123.83 129.11 123.68 Q 128.92 123.52 128.25 123.38 L 128 123.32 Q 127.33 123.18 127.03 122.89 Q 126.74 122.6 126.74 122.09 Q 126.74 121.47 127.17 121.14 Q 127.61 120.8 128.42 120.8 Q 128.81 120.8 129.17 120.86 Q 129.52 120.92 129.81 121.03 z"/>
</g>
</g>
</g>
<defs>
<clipPath id="p58b5c2b67b">
<rect x="47.88" y="144.36" width="494.64" height="115.2"/>
</clipPath>
<clipPath id="pf297cf4581">
<path d="M52.55 144.36L52.55 162.39 55.69 219.58 59.09 219.58 59.09 252.51 64.56 252.51 64.56 255.77 70.57 255.77 70.57 257.53 79.97 257.53 87.98 256.04 93.52 256.31 97.99 259.56 106.93 259.56 111.93 254.82 116.94 255.36 122.88 259.02 137.89 259.29 150.83 254.27 156.84 254.27 163.78 257.8 172.72 257.8 177.79 256.31 184.73 256.31 192.67 259.02 215.95 259.29 221.36 259.56 223.69 258.88 226.03 259.56 286.75 259.56 294.09 257.39 301.43 259.56 530.55 259.56 530.55 216.19 537.02 216.19 537.02 144.36z"/>
</clipPath>
<clipPath id="p5fd7f19cf9">
<rect x="573.48" y="144.36" width="5.76" height="115.2"/>
</clipPath>
<clipPath id="pb0f30e44dd">
<rect x="47.88" y="276.84" width="494.64" height="115.92"/>
</clipPath>
<clipPath id="p684f4208a3">
<path d="M52.55 276.84L52.55 294.98 55.69 352.53 59.09 352.53 59.09 385.67 64.56 385.67 64.56 388.94 70.57 388.94 70.57 390.71 79.97 390.71 87.98 389.21 93.52 389.49 97.99 392.76 106.93 392.76 111.93 387.99 116.94 388.53 122.88 392.21 137.89 392.49 150.83 387.44 156.84 387.44 163.78 390.99 172.72 390.99 177.79 389.49 184.73 389.49 192.67 392.21 215.95 392.49 221.36 392.76 223.69 392.08 226.03 392.76 286.75 392.76 294.09 390.58 301.43 392.76 530.55 392.76 530.55 349.12 537.02 349.12 537.02 276.84z"/>
</clipPath>
<clipPath id="pdf3f505f38">
<rect x="573.48" y="276.84" width="5.76" height="115.92"/>
</clipPath>
<clipPath id="p53c9fe6aa6">
<rect x="47.88" y="410.04" width="494.64" height="115.92"/>
</clipPath>
<clipPath id="p3e9bb7d444">
<path d="M52.55 410.04L52.55 428.18 55.69 485.73 59.09 485.73 59.09 518.87 64.56 518.87 64.56 522.14 70.57 522.14 70.57 523.91 79.97 523.91 87.98 522.41 93.52 522.69 97.99 525.96 106.93 525.96 111.93 521.19 116.94 521.73 122.88 525.41 137.89 525.69 150.83 520.64 156.84 520.64 163.78 524.19 172.72 524.19 177.79 522.69 184.73 522.69 192.67 525.41 215.95 525.69 221.36 525.96 223.69 525.28 226.03 525.96 286.75 525.96 294.09 523.78 301.43 525.96 530.55 525.96 530.55 482.32 537.02 482.32 537.02 410.04z"/>
</clipPath>
<clipPath id="pb9adc8fe9e">
<rect x="573.48" y="410.04" width="5.76" height="115.92"/>
</clipPath>
<clipPath id="p28ceb86d69">
<rect x="47.88" y="543.24" width="494.64" height="115.92"/>
</clipPath>
<clipPath id="pf9e056ec5c">
<path d="M52.55 543.24L52.55 569.15 54.55 606.79 59.09 606.79 59.09 652.07 64.56 652.07 64.56 655.34 70.57 655.34 70.57 657.11 79.97 657.11 87.98 655.61 93.52 655.89 97.99 659.16 106.93 659.16 111.93 654.39 116.94 654.93 122.88 658.61 137.89 658.89 150.83 653.84 156.84 653.84 163.78 657.39 172.72 657.39 177.79 655.89 184.73 655.89 192.67 658.61 215.95 658.89 221.36 659.16 223.69 658.48 226.03 659.16 286.75 659.16 294.09 656.98 301.43 659.16 530.55 659.16 530.55 615.52 537.02 615.52 537.02 543.24z"/>
</clipPath>
<clipPath id="p2b2d6d4fac">
<rect x="573.48" y="543.24" width="5.76" height="115.92"/>
</clipPath>
<clipPath id="p6e31d36c32">
<rect x="672.84" y="11.16" width="495.36" height="115.2"/>
</clipPath>
<clipPath id="p8def62747a">
<path d="M677.51 11.16L677.51 29.19 680.65 86.38 684.05 86.38 684.05 119.31 689.52 119.31 689.52 122.57 695.53 122.57 695.53 124.33 704.93 124.33 712.94 122.84 718.48 123.11 722.95 126.36 731.89 126.36 736.89 121.62 741.9 122.16 747.84 125.82 762.85 126.09 775.79 121.07 781.8 121.07 788.74 124.6 797.68 124.6 802.75 123.11 809.69 123.11 817.63 125.82 840.91 126.09 846.32 126.36 848.65 125.68 850.99 126.36 911.71 126.36 919.05 124.19 926.39 126.36 1155.51 126.36 1155.51 82.99 1161.98 82.99 1161.98 11.16z"/>
</clipPath>
<clipPath id="pfceeb5a7d8">
<rect x="1198.44" y="11.16" width="5.76" height="115.2"/>
</clipPath>
<clipPath id="p3a60b7a52f">
<rect x="1198.8" y="144.36" width="5.76" height="115.2"/>
</clipPath>
<clipPath id="p03b93ef2d0">
<rect x="1198.8" y="276.84" width="5.76" height="115.92"/>
</clipPath>
<clipPath id="p089413e1fc">
<rect x="1198.8" y="410.04" width="5.76" height="115.92"/>
</clipPath>
<clipPath id="pb7b0f23bad">
<rect x="1198.8" y="543.24" width="5.76" height="115.92"/>
</clipPath>
<clipPath id="p111fba60a9">
<rect x="81.72" y="11.16" width="118.8" height="115.2"/>
</clipPath>
<clipPath id="p28b8b15fb7">
<rect x="240.84" y="11.16" width="12.96" height="115.2"/>
</clipPath>
<clipPath id="p9d16a12c3b">
<rect x="0" y="0" width="1247.76" height="696.96"/>
</clipPath>
</defs>
</svg>

</body></html>
